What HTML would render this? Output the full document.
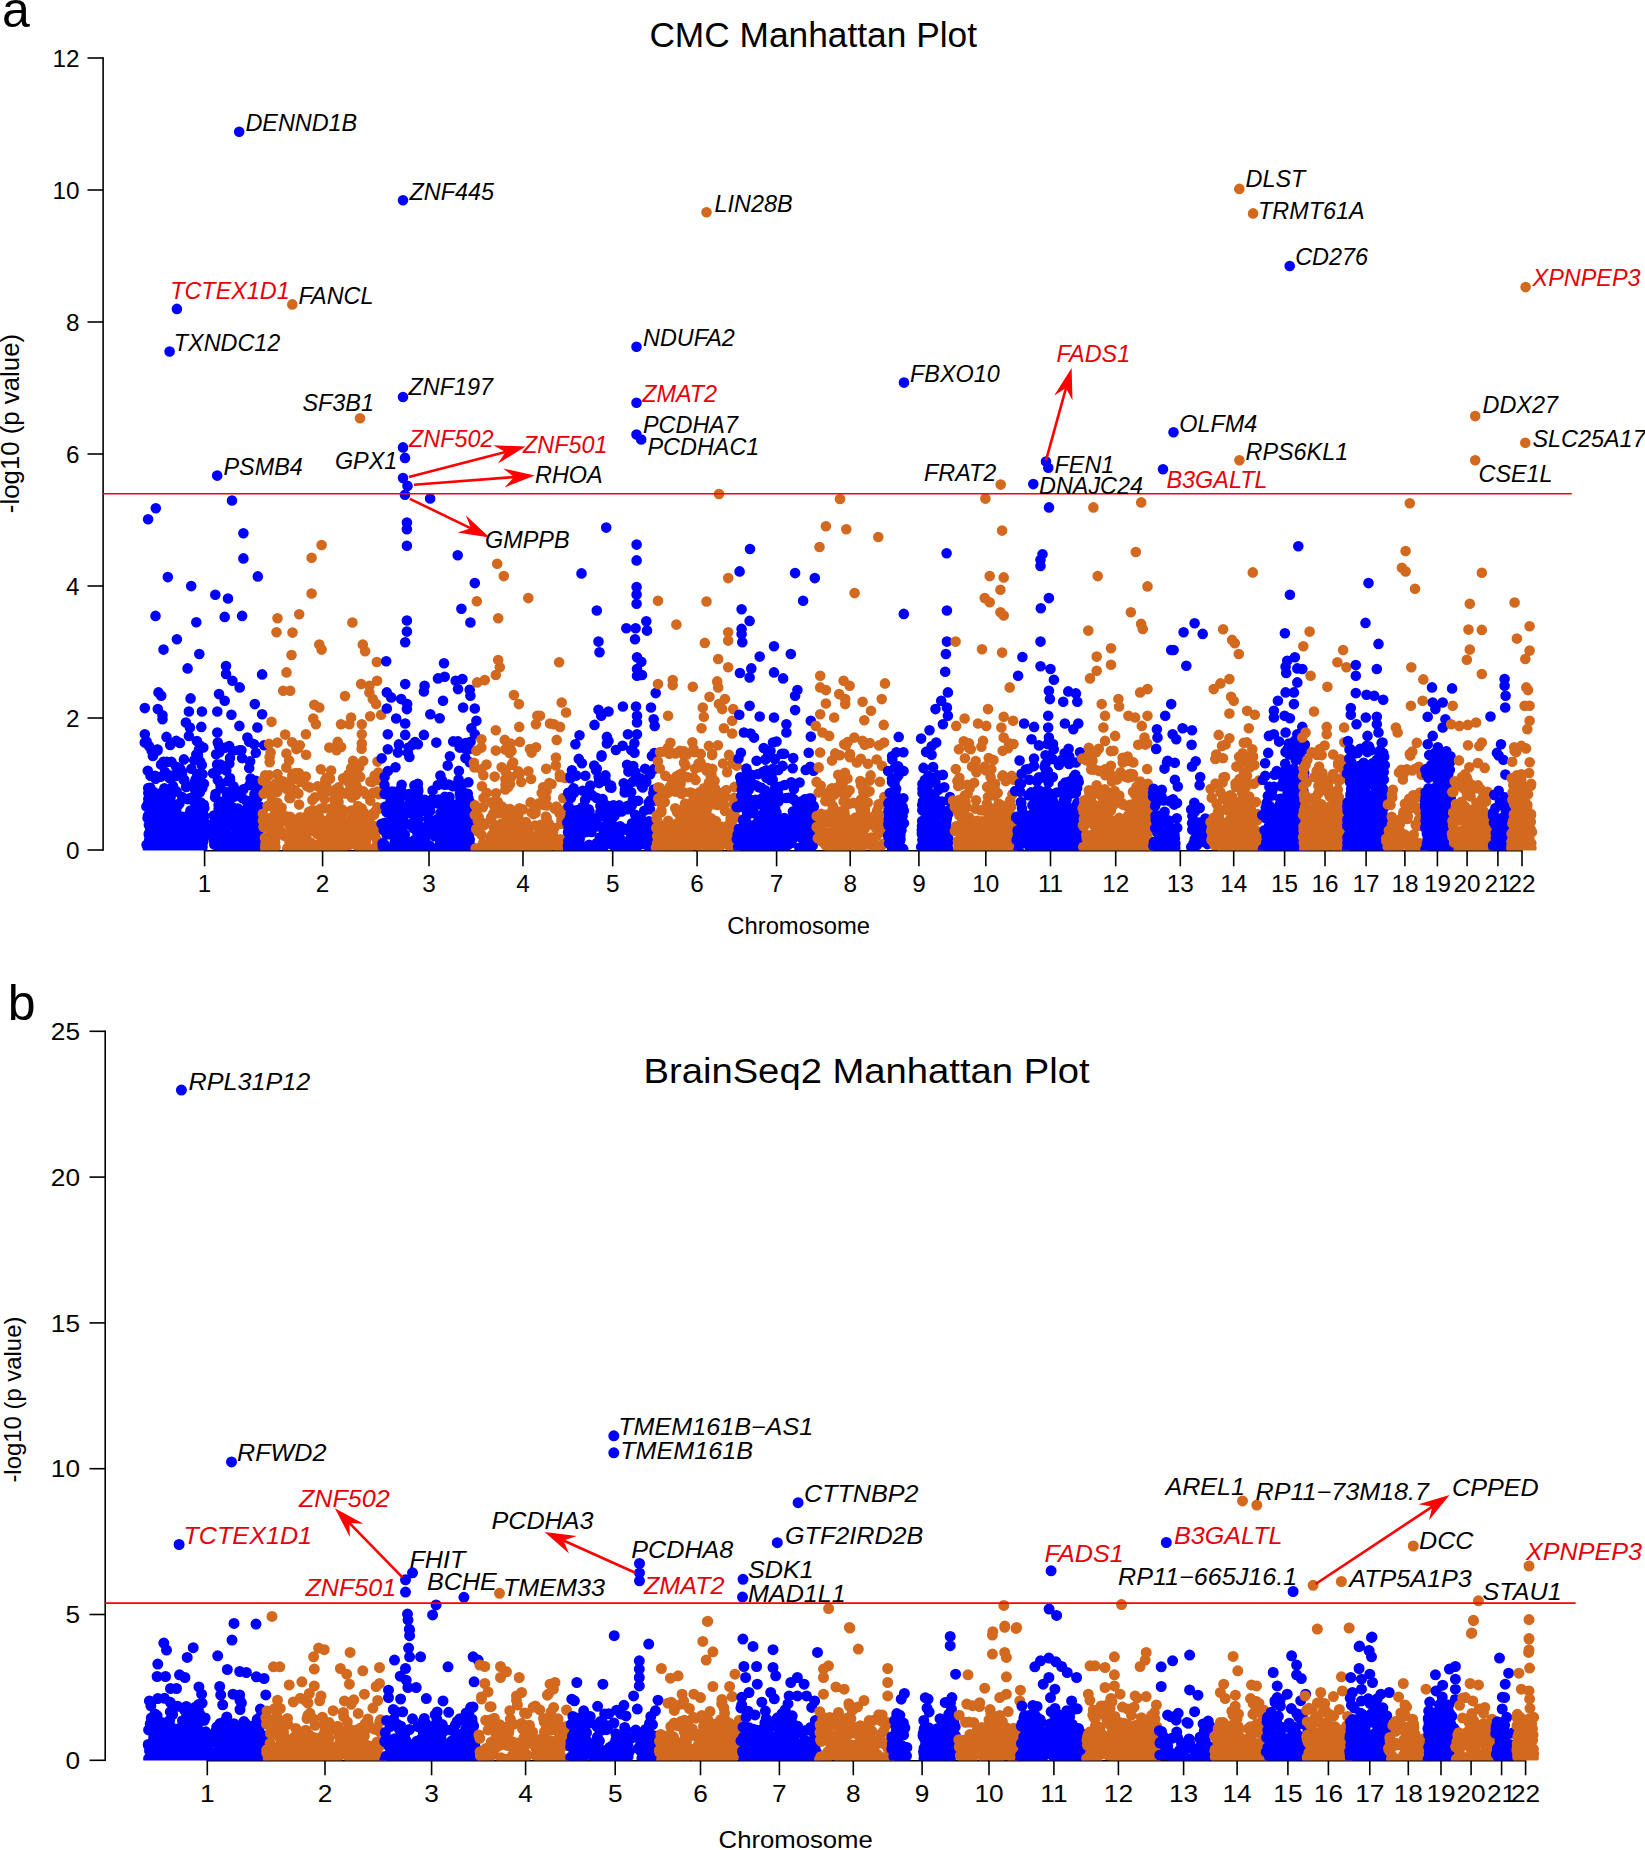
<!DOCTYPE html>
<html><head><meta charset="utf-8"><title>Manhattan plots</title><style>html,body{margin:0;padding:0;background:#fff}svg{display:block}</style></head><body>
<svg width="1645" height="1850" viewBox="0 0 1645 1850" font-family="'Liberation Sans', sans-serif">
<rect width="1645" height="1850" fill="#fff"/>
<defs><clipPath id="ca"><rect x="100" y="0" width="1545" height="850.6"/></clipPath><clipPath id="cb"><rect x="100" y="960" width="1545" height="800.6"/></clipPath></defs>
<text x="2.0" y="27.0" font-size="50" fill="#000" text-anchor="start" >a</text>
<text x="7.7" y="1020.2" font-size="50" fill="#000" text-anchor="start" >b</text>
<text x="813.2" y="47.0" font-size="35.3" fill="#000" text-anchor="middle" >CMC Manhattan Plot</text>
<text transform="translate(866.5,1082.6) scale(1.083,1)" font-size="35.3" fill="#000" text-anchor="middle" >BrainSeq2 Manhattan Plot</text>
<g stroke="#000" stroke-width="1.6" fill="none">
<path d="M103.1 57.2 V850.8"/>
<path d="M87.5 850 H103.1"/>
<path d="M87.5 718 H103.1"/>
<path d="M87.5 586 H103.1"/>
<path d="M87.5 454 H103.1"/>
<path d="M87.5 322 H103.1"/>
<path d="M87.5 190 H103.1"/>
<path d="M87.5 58 H103.1"/>
<path d="M203.79999999999998 850.8 H1522.8"/>
<path d="M204.6 850.8 V866.3"/>
<path d="M322.6 850.8 V866.3"/>
<path d="M429 850.8 V866.3"/>
<path d="M523 850.8 V866.3"/>
<path d="M612.7 850.8 V866.3"/>
<path d="M697.1 850.8 V866.3"/>
<path d="M776.6 850.8 V866.3"/>
<path d="M850.2 850.8 V866.3"/>
<path d="M918.9 850.8 V866.3"/>
<path d="M985.8 850.8 V866.3"/>
<path d="M1050.5 850.8 V866.3"/>
<path d="M1115.7 850.8 V866.3"/>
<path d="M1180.3 850.8 V866.3"/>
<path d="M1233.7 850.8 V866.3"/>
<path d="M1284.6 850.8 V866.3"/>
<path d="M1325 850.8 V866.3"/>
<path d="M1366.1 850.8 V866.3"/>
<path d="M1404.9 850.8 V866.3"/>
<path d="M1437.4 850.8 V866.3"/>
<path d="M1467.1 850.8 V866.3"/>
<path d="M1497.9 850.8 V866.3"/>
<path d="M1522 850.8 V866.3"/>
<path d="M105.2 1030.5 V1761.1"/>
<path d="M89.5 1760.3 H105.2"/>
<path d="M89.5 1614.5 H105.2"/>
<path d="M89.5 1468.7 H105.2"/>
<path d="M89.5 1322.9 H105.2"/>
<path d="M89.5 1177.1 H105.2"/>
<path d="M89.5 1031.3 H105.2"/>
<path d="M206.5 1760.8 H1526.3999999999999"/>
<path d="M207.3 1760.8 V1775.3"/>
<path d="M325 1760.8 V1775.3"/>
<path d="M431.6 1760.8 V1775.3"/>
<path d="M525.6 1760.8 V1775.3"/>
<path d="M615.2 1760.8 V1775.3"/>
<path d="M700.5 1760.8 V1775.3"/>
<path d="M779.4 1760.8 V1775.3"/>
<path d="M853.3 1760.8 V1775.3"/>
<path d="M922.1 1760.8 V1775.3"/>
<path d="M989 1760.8 V1775.3"/>
<path d="M1053.9 1760.8 V1775.3"/>
<path d="M1118.4 1760.8 V1775.3"/>
<path d="M1183.6 1760.8 V1775.3"/>
<path d="M1237.1 1760.8 V1775.3"/>
<path d="M1287.9 1760.8 V1775.3"/>
<path d="M1328.4 1760.8 V1775.3"/>
<path d="M1369.8 1760.8 V1775.3"/>
<path d="M1408.3 1760.8 V1775.3"/>
<path d="M1441 1760.8 V1775.3"/>
<path d="M1471.1 1760.8 V1775.3"/>
<path d="M1501.6 1760.8 V1775.3"/>
<path d="M1525.6 1760.8 V1775.3"/>
</g>
<text x="79.5" y="858.7" font-size="24.3" fill="#000" text-anchor="end" >0</text>
<text x="79.5" y="726.7" font-size="24.3" fill="#000" text-anchor="end" >2</text>
<text x="79.5" y="594.7" font-size="24.3" fill="#000" text-anchor="end" >4</text>
<text x="79.5" y="462.7" font-size="24.3" fill="#000" text-anchor="end" >6</text>
<text x="79.5" y="330.7" font-size="24.3" fill="#000" text-anchor="end" >8</text>
<text x="79.5" y="198.7" font-size="24.3" fill="#000" text-anchor="end" >10</text>
<text x="79.5" y="66.7" font-size="24.3" fill="#000" text-anchor="end" >12</text>
<text transform="translate(80.0,1769.0) scale(1.08,1)" font-size="24.3" fill="#000" text-anchor="end" >0</text>
<text transform="translate(80.0,1623.2) scale(1.08,1)" font-size="24.3" fill="#000" text-anchor="end" >5</text>
<text transform="translate(80.0,1477.4) scale(1.08,1)" font-size="24.3" fill="#000" text-anchor="end" >10</text>
<text transform="translate(80.0,1331.6) scale(1.08,1)" font-size="24.3" fill="#000" text-anchor="end" >15</text>
<text transform="translate(80.0,1185.8) scale(1.08,1)" font-size="24.3" fill="#000" text-anchor="end" >20</text>
<text transform="translate(80.0,1040.0) scale(1.08,1)" font-size="24.3" fill="#000" text-anchor="end" >25</text>
<text x="204.6" y="892.2" font-size="24.3" fill="#000" text-anchor="middle" >1</text>
<text x="322.6" y="892.2" font-size="24.3" fill="#000" text-anchor="middle" >2</text>
<text x="429.0" y="892.2" font-size="24.3" fill="#000" text-anchor="middle" >3</text>
<text x="523.0" y="892.2" font-size="24.3" fill="#000" text-anchor="middle" >4</text>
<text x="612.7" y="892.2" font-size="24.3" fill="#000" text-anchor="middle" >5</text>
<text x="697.1" y="892.2" font-size="24.3" fill="#000" text-anchor="middle" >6</text>
<text x="776.6" y="892.2" font-size="24.3" fill="#000" text-anchor="middle" >7</text>
<text x="850.2" y="892.2" font-size="24.3" fill="#000" text-anchor="middle" >8</text>
<text x="918.9" y="892.2" font-size="24.3" fill="#000" text-anchor="middle" >9</text>
<text x="985.8" y="892.2" font-size="24.3" fill="#000" text-anchor="middle" >10</text>
<text x="1050.5" y="892.2" font-size="24.3" fill="#000" text-anchor="middle" >11</text>
<text x="1115.7" y="892.2" font-size="24.3" fill="#000" text-anchor="middle" >12</text>
<text x="1180.3" y="892.2" font-size="24.3" fill="#000" text-anchor="middle" >13</text>
<text x="1233.7" y="892.2" font-size="24.3" fill="#000" text-anchor="middle" >14</text>
<text x="1284.6" y="892.2" font-size="24.3" fill="#000" text-anchor="middle" >15</text>
<text x="1325.0" y="892.2" font-size="24.3" fill="#000" text-anchor="middle" >16</text>
<text x="1366.1" y="892.2" font-size="24.3" fill="#000" text-anchor="middle" >17</text>
<text x="1404.9" y="892.2" font-size="24.3" fill="#000" text-anchor="middle" >18</text>
<text x="1437.4" y="892.2" font-size="24.3" fill="#000" text-anchor="middle" >19</text>
<text x="1467.1" y="892.2" font-size="24.3" fill="#000" text-anchor="middle" >20</text>
<text x="1497.9" y="892.2" font-size="24.3" fill="#000" text-anchor="middle" >21</text>
<text x="1522.0" y="892.2" font-size="24.3" fill="#000" text-anchor="middle" >22</text>
<text transform="translate(207.3,1801.5) scale(1.08,1)" font-size="24.3" fill="#000" text-anchor="middle" >1</text>
<text transform="translate(325.0,1801.5) scale(1.08,1)" font-size="24.3" fill="#000" text-anchor="middle" >2</text>
<text transform="translate(431.6,1801.5) scale(1.08,1)" font-size="24.3" fill="#000" text-anchor="middle" >3</text>
<text transform="translate(525.6,1801.5) scale(1.08,1)" font-size="24.3" fill="#000" text-anchor="middle" >4</text>
<text transform="translate(615.2,1801.5) scale(1.08,1)" font-size="24.3" fill="#000" text-anchor="middle" >5</text>
<text transform="translate(700.5,1801.5) scale(1.08,1)" font-size="24.3" fill="#000" text-anchor="middle" >6</text>
<text transform="translate(779.4,1801.5) scale(1.08,1)" font-size="24.3" fill="#000" text-anchor="middle" >7</text>
<text transform="translate(853.3,1801.5) scale(1.08,1)" font-size="24.3" fill="#000" text-anchor="middle" >8</text>
<text transform="translate(922.1,1801.5) scale(1.08,1)" font-size="24.3" fill="#000" text-anchor="middle" >9</text>
<text transform="translate(989.0,1801.5) scale(1.08,1)" font-size="24.3" fill="#000" text-anchor="middle" >10</text>
<text transform="translate(1053.9,1801.5) scale(1.08,1)" font-size="24.3" fill="#000" text-anchor="middle" >11</text>
<text transform="translate(1118.4,1801.5) scale(1.08,1)" font-size="24.3" fill="#000" text-anchor="middle" >12</text>
<text transform="translate(1183.6,1801.5) scale(1.08,1)" font-size="24.3" fill="#000" text-anchor="middle" >13</text>
<text transform="translate(1237.1,1801.5) scale(1.08,1)" font-size="24.3" fill="#000" text-anchor="middle" >14</text>
<text transform="translate(1287.9,1801.5) scale(1.08,1)" font-size="24.3" fill="#000" text-anchor="middle" >15</text>
<text transform="translate(1328.4,1801.5) scale(1.08,1)" font-size="24.3" fill="#000" text-anchor="middle" >16</text>
<text transform="translate(1369.8,1801.5) scale(1.08,1)" font-size="24.3" fill="#000" text-anchor="middle" >17</text>
<text transform="translate(1408.3,1801.5) scale(1.08,1)" font-size="24.3" fill="#000" text-anchor="middle" >18</text>
<text transform="translate(1441.0,1801.5) scale(1.08,1)" font-size="24.3" fill="#000" text-anchor="middle" >19</text>
<text transform="translate(1471.1,1801.5) scale(1.08,1)" font-size="24.3" fill="#000" text-anchor="middle" >20</text>
<text transform="translate(1501.6,1801.5) scale(1.08,1)" font-size="24.3" fill="#000" text-anchor="middle" >21</text>
<text transform="translate(1525.6,1801.5) scale(1.08,1)" font-size="24.3" fill="#000" text-anchor="middle" >22</text>
<text x="798.7" y="933.9" font-size="23.8" fill="#000" text-anchor="middle" >Chromosome</text>
<text transform="translate(795.7,1848.0) scale(1.08,1)" font-size="23.8" fill="#000" text-anchor="middle" >Chromosome</text>
<text transform="translate(18.7,423.5) rotate(-90)" font-size="25.8" text-anchor="middle">-log10 (p value)</text>
<text transform="translate(20.8,1399.6) rotate(-90)" font-size="23.9" text-anchor="middle">-log10 (p value)</text>
<g clip-path="url(#ca)" fill="none" stroke-linecap="round" stroke-width="10.6">
<path stroke="#0000ff" d="M154.1 849.9h0M155.8 842h0M166.8 840.5h0M201.2 838.9h0M201.3 829.1h0M220 837.2h0M177 826.9h0M175.7 817.5h0M213 823.4h0M198.1 830h0M167.8 803.8h0M256.7 823.9h0M240.7 830.8h0M172.3 848.2h0M153 830.7h0M161.1 834.6h0M250.7 847.7h0M230 841.8h0M249.5 841.2h0M260.1 840.8h0M215.1 797.3h0M203.2 822h0M224 827.8h0M196.1 828.3h0M182.4 835.1h0M257.4 819.7h0M177.6 826.5h0M202.8 841.8h0M196.8 847.9h0M148.8 834.6h0M197.3 775h0M166.5 848.8h0M166.6 820.2h0M233 750.7h0M195.2 835.8h0M250.6 778.6h0M240.1 840.9h0M234.3 796.6h0M198.7 834.6h0M229.2 746h0M229.8 815.9h0M257.8 787.2h0M203.9 783.7h0M202.5 774.3h0M193.6 820.5h0M195.9 797.8h0M217.1 764.6h0M172.1 838.5h0M204.7 822.5h0M196.2 808.8h0M164.4 827.6h0M156 821.6h0M157 848.1h0M250.8 829.3h0M150.3 787.7h0M169.5 814.2h0M195.5 784.2h0M243.1 830.1h0M192.6 828.6h0M147.8 770.8h0M199.9 848.8h0M217.8 742.6h0M231 821.9h0M168.5 808.8h0M250.1 761.3h0M233.3 845.1h0M200.3 831.5h0M152.7 809.9h0M228.4 817.6h0M150.9 832.8h0M249.2 768h0M258.2 841.9h0M200.9 783.9h0M198.4 827.7h0M160.3 800.1h0M194.2 810.6h0M218.8 845.7h0M194.9 781.7h0M154.3 840.5h0M218.6 809.1h0M185.5 841.9h0M148 803.5h0M153.4 814.4h0M251.9 803.1h0M246.6 841.4h0M201.8 765h0M222.1 841h0M225.8 819h0M229.5 809.9h0M165.3 815.2h0M260.8 809.9h0M190.6 828.6h0M155.5 830.7h0M171.5 761.9h0M236.6 840.8h0M249.4 840.7h0M231.8 806.8h0M199.9 803.9h0M260 808.9h0M194.9 843.5h0M220.5 843.2h0M250.6 846h0M171 824.2h0M171.8 829.7h0M233.1 815.8h0M150.1 797.1h0M255 848.8h0M237.6 832.8h0M175.8 820.8h0M234.6 849.9h0M229.2 841h0M157.2 749.6h0M195.4 815.9h0M181.2 838.4h0M257.2 848.6h0M173.3 817.3h0M222.7 821.9h0M183.9 759.4h0M156.9 830.3h0M149.2 840.1h0M160.3 805.4h0M150.1 807.7h0M147.8 848h0M220.8 838.4h0M236.7 832.7h0M150.3 811.4h0M228 781.3h0M174.1 810.4h0M258 788.6h0M229 836.6h0M249.2 823.6h0M195.2 790h0M166.7 761.9h0M199.8 834.3h0M166 793.1h0M184.2 779.7h0M162.6 805.2h0M250.1 814.9h0M249.5 785h0M197.4 844.3h0M173.5 816.4h0M153.9 839.2h0M198.1 814.4h0M187 785.9h0M249.3 816.3h0M257.4 798.2h0M227.7 827.9h0M247.2 844.5h0M182 771.9h0M253.8 801.2h0M181.3 830.2h0M236.9 824.9h0M198.6 791.8h0M178.7 840.5h0M172.2 819.4h0M249.2 741.8h0M232.3 795.2h0M220.2 783.4h0M234.9 824.2h0M150.1 830.3h0M203.1 842.1h0M169.1 845.4h0M213.7 840.3h0M175.3 832.5h0M193.2 810.1h0M191.8 845.7h0M198.4 807h0M154.8 824.8h0M173.8 810.1h0M155.7 778.8h0M225.9 826.4h0M169.4 826.5h0M197.4 808h0M187.7 819.9h0M176.2 810.4h0M157.5 750.6h0M190.2 840.9h0M234.6 793.1h0M173.4 845.5h0M149.7 815.8h0M161.6 833.9h0M228 805.6h0M198.7 826.4h0M218.5 826.3h0M255.8 780.7h0M191.1 843.4h0M203.2 819.3h0M200.7 831.7h0M156.7 812.5h0M213 773.3h0M187.9 843.1h0M203 814.3h0M185.9 821.3h0M200 805h0M241.4 750.3h0M204.3 816.2h0M201.3 828.9h0M173 849.9h0M173.5 832.5h0M178.9 824h0M166.4 793.7h0M153.9 838.8h0M197.9 754.7h0M204.4 836.3h0M172.6 829.8h0M254.2 844.7h0M150.9 813.8h0M201.6 809.1h0M221.5 830.8h0M170.7 796.5h0M148.2 788h0M177.5 825.1h0M175.9 844.4h0M169.2 843.7h0M217.6 770.6h0M165.4 837h0M232.7 816h0M170.2 744.9h0M239.2 750.3h0M172.1 807.4h0M239.2 811.2h0M237.9 839.7h0M170.3 775.5h0M162.4 811.6h0M203.8 805.8h0M255.5 825.9h0M166.4 829.9h0M195.6 779.5h0M248.1 837.5h0M198.1 807.9h0M149.7 796.2h0M196.9 741.1h0M199.3 819.4h0M159.8 809.9h0M185.8 837.1h0M243.7 827.3h0M201 802.8h0M182.3 830.2h0M199.6 835.9h0M157.8 810.8h0M199.1 816h0M218.6 805.2h0M254.3 824.2h0M246.4 800.9h0M178.3 804.9h0M163.9 803.9h0M255.5 840.3h0M229.2 847.5h0M187.6 799.1h0M215.6 842.7h0M221.4 827.1h0M191.4 768.7h0M220.6 836.9h0M244.9 847.4h0M236.8 817h0M156.2 793.9h0M164.8 804.7h0M197.9 756.8h0M203.8 804.7h0M240.1 832.8h0M158.7 845h0M176 814h0M248 806.8h0M175.7 809.7h0M187.2 844.6h0M192 825.6h0M182.2 797h0M202.1 849h0M197.2 809.6h0M213.8 815.5h0M232.7 844.2h0M177.1 843.8h0M217.8 780h0M199 749.6h0M156.2 837.1h0M154.2 837.3h0M159.6 826.9h0M242.5 798.2h0M189.4 838.5h0M213.4 827.9h0M186.2 787h0M240.9 796.7h0M195.5 846.2h0M163.4 761.7h0M159.9 822.7h0M175.2 817.9h0M201.8 820.1h0M204.6 824.4h0M229.9 778h0M196.3 754.5h0M153.8 846.7h0M198.7 792.9h0M167.2 795.3h0M194 796.8h0M153.6 847.8h0M224.9 747.8h0M256.3 846.5h0M149.7 849.9h0M185.9 848.4h0M213.3 830.8h0M201.1 823.9h0M246.9 829.8h0M183.9 841.4h0M171.1 809.4h0M224.8 807.6h0M202.1 808.4h0M231.3 848.5h0M153.5 834.5h0M204.8 835.1h0M202.8 809.2h0M254 842.1h0M151.7 816.4h0M149.1 746.2h0M154.8 832.4h0M179.9 742.9h0M158.9 831h0M148.3 799h0M181 845.4h0M188.5 815.3h0M151.8 799.6h0M173.6 818.4h0M173 786.1h0M164.5 839.4h0M252.1 849.8h0M199.2 840.1h0M219.7 801.5h0M170.2 828.5h0M199.5 847.5h0M237.1 842.9h0M259 829.6h0M226.3 770.4h0M204.3 807.9h0M164.5 815.4h0M220.5 813.5h0M202.1 846.1h0M200.4 828.2h0M183.7 842.3h0M196.4 824.2h0M199.9 792.2h0M200.8 802.6h0M255.8 752.7h0M177 836h0M231.6 844.9h0M152.3 798.1h0M191 798.7h0M213.6 836.9h0M245.6 809.9h0M182.3 848.2h0M165.3 843.5h0M220.6 819.9h0M202.9 831.7h0M197.9 804h0M198.9 841.7h0M225.4 820h0M148.8 833.7h0M166.5 837.1h0M199 773.8h0M226.9 798.1h0M239.4 825.6h0M256.9 812.6h0M241.2 831.2h0M170.8 825.2h0M228.6 844.8h0M242.7 839.6h0M259.2 843.1h0M226.2 830.7h0M226 814.7h0M187.4 822.7h0M147.9 816h0M159 793.9h0M195.9 804.7h0M199.9 825.5h0M149.7 818.7h0M218.7 841.9h0M146.6 741.5h0M197.7 833.8h0M158.7 831h0M200.1 848h0M170.6 842h0M256.1 788.8h0M176.2 766.9h0M237.8 834.6h0M164.8 814.8h0M203.3 747.5h0M190 823.7h0M201.3 824h0M200.2 843.5h0M149.2 813.8h0M251.2 830.2h0M234.1 788.1h0M229.3 841.4h0M167.8 844.3h0M164.7 845.9h0M157.6 749.6h0M179 829.1h0M219.6 831.6h0M189.2 833.6h0M190.6 798h0M168.2 813.2h0M151.6 750.5h0M179.7 829.7h0M214 834.3h0M161.1 764.5h0M178.2 829h0M232.7 821.2h0M167.8 849.9h0M183.7 780.1h0M172.7 803.9h0M182 774.9h0M150.1 804.6h0M257.3 843.6h0M198.8 809.2h0M148.9 824.9h0M153.3 791.8h0M240.8 812.3h0M229.8 848.8h0M215.2 843.6h0M224.4 818.2h0M155.1 775.7h0M194.7 801.3h0M248.2 826.6h0M157.4 835.5h0M203.9 826.6h0M151.9 834.2h0M150.3 827.4h0M200.1 827.2h0M252.2 845.5h0M165.4 813.1h0M229.7 799.2h0M165.5 809.6h0M156.1 809h0M220.4 811.4h0M243 822.5h0M237.8 808.6h0M219.4 752.3h0M233.3 811.3h0M179.4 803.5h0M149.5 814.3h0M154.9 848.3h0M182.7 846.2h0M257.8 836.2h0M156.6 805h0M160.7 776.7h0M193.6 839.9h0M164.4 788.2h0M233.8 849.9h0M247.7 842.4h0M148.3 793h0M175.6 776h0M168.7 849.7h0M152.5 836.8h0M249.5 836h0M220.6 787.9h0M190.5 810.6h0M195 846.7h0M181.8 835h0M157.4 848.3h0M229.3 763.4h0M182.3 816.8h0M200.2 761.8h0M196.8 844.5h0M194.2 760.2h0M230.1 812.7h0M151.8 818.1h0M184.6 820.4h0M180.3 837.4h0M148.2 847.4h0M152.9 756h0M214.3 844.6h0M255.1 832h0M232.7 849.2h0M247.1 841.1h0M153 846.3h0M158 836.4h0M223.3 838h0M200.4 825h0M220 847.9h0M230 757.9h0M173.9 821.1h0M254.4 794.2h0M222.2 826.8h0M202.3 787.9h0M242.1 758.2h0M230 779.9h0M200.6 827.5h0M146.4 806.4h0M171.5 847.7h0M230.2 812.8h0M152.2 799.6h0M219.4 810.2h0M155.9 848.8h0M260.1 806.7h0M157.2 816.5h0M214.8 828.6h0M147.6 818.1h0M176.6 791.4h0M178.7 843.9h0M242.6 832.7h0M215.5 794.1h0M150.3 842.3h0M171.1 816.9h0M222.4 840.2h0M157.4 849.9h0M248 801.1h0M150.5 775.7h0M226.7 792.4h0M248.2 809.8h0M256.8 785.5h0M151.7 824.4h0M149.3 791.7h0M216.1 754.2h0M172.7 790.7h0M250.7 842.7h0M247.2 811.3h0M169.4 777.9h0M152.5 823.3h0M193.7 828.2h0M225.8 804.4h0M253.5 831.4h0M198.1 849.5h0M238.4 837.5h0M161.4 835h0M202.5 846.9h0M239 812.2h0M154.9 820.2h0M223.8 834h0M199.1 841.2h0M199.1 801.7h0M148.5 799.8h0M155.1 803.4h0M152.3 832.5h0M146.6 844.7h0M243.1 821.6h0M193 827.6h0M238.9 848.3h0M216.7 819.3h0M233.4 786.2h0M181.7 837.6h0M173.8 839h0M232.8 820.1h0M218.4 814.5h0M174.4 847h0M243.3 789.4h0M196.6 817.9h0M198.2 840.7h0M169.4 828.8h0M165.8 826.4h0M258.1 809.2h0M228.7 807.9h0M214 840.1h0M195.2 831.8h0M165 772h0M260.6 840.3h0M258.4 832.1h0M246 837.5h0M177.2 844.9h0M179.1 832.5h0M194.5 802h0M259.6 848.3h0M169.4 847.8h0M152.2 815.5h0M199.7 823.7h0M158.6 828.1h0M165.9 823.6h0M225.1 825.1h0M232.3 794.2h0M220.2 838.7h0M176.3 833.9h0M220.3 764.5h0M204.4 829.8h0M254.5 806.2h0M252 849.3h0M162.9 805.8h0M195.5 838.5h0M180.3 769.1h0M159.6 825.7h0M239.2 131.8h0M176.9 308.9h0M169.6 351.5h0M217.2 475.6h0M148.1 519.2h0M155.8 508.2h0M232 500.5h0M243.4 533.3h0M243.4 558.4h0M257.8 576.4h0M167.8 577.1h0M191.2 586.1h0M215.3 594.8h0M228 598.5h0M155.5 615.9h0M224.7 616.9h0M242.1 615.9h0M196.3 622.2h0M176.9 639.3h0M163.5 649.6h0M199.3 654h0M187.6 668.4h0M226 666h0M226 674h0M232.4 680.7h0M239.7 687.4h0M262.1 674.4h0M219 694.1h0M224.7 700.8h0M158.5 692.4h0M161.2 695.8h0M190.6 698.4h0M144.8 708.1h0M157.8 709.1h0M162.5 715.2h0M188.9 711.5h0M201.9 711.5h0M217.3 711.5h0M231.4 714.8h0M254.8 704.1h0M262.1 714.2h0M162.5 719.2h0M185.9 722.5h0M189.9 727.5h0M201.3 726.9h0M239.4 725.9h0M257.4 727.5h0M144.8 734.2h0M217.3 732.5h0M247.4 737.6h0M166.5 736.9h0M176.2 740.9h0M144.8 742.6h0M188.9 735.9h0M200.6 745.9h0M219 745.9h0M254.1 744.2h0M264.1 745.2h0"/>
<path stroke="#d2691e" d="M312.7 823.8h0M366.5 815.1h0M312.6 810.1h0M318.2 847.9h0M297.2 830.5h0M306.7 834.6h0M330.5 818h0M374.7 775.6h0M358.2 789.6h0M317 833.7h0M265.2 775.2h0M280.4 807.8h0M304.7 832.4h0M355.9 785h0M300.7 781.8h0M272.6 833.8h0M334.8 800.8h0M375 811.8h0M341.1 747h0M347.3 776.1h0M282.9 816.7h0M275.5 847.1h0M308.1 841.3h0M297.1 847h0M359.6 838.4h0M280.3 831.2h0M342.1 845.4h0M352 797.5h0M285.8 818.2h0M269.1 775.3h0M334.1 827.2h0M324.1 844h0M281.6 807.5h0M348.5 774.2h0M371.7 830.4h0M357 845.8h0M315.2 830.1h0M281.6 820.8h0M266.9 842.4h0M332.8 837.2h0M356.1 841.8h0M275.1 845.8h0M345.3 824.8h0M352.3 767.7h0M299.8 745.2h0M348.6 841.6h0M289.7 788h0M338.6 846.9h0M375.3 826.3h0M348.7 843.9h0M353.4 819.2h0M359.2 827.6h0M268 846.9h0M326 842.3h0M297.9 825.6h0M305.3 819.7h0M350 827.6h0M356.3 810.7h0M277.1 830.6h0M307.7 814.9h0M364.9 817.3h0M269 743.9h0M338.4 847.3h0M342 841.3h0M355.1 791.9h0M357.5 788h0M271.6 802.6h0M273.4 825.9h0M309.1 811.7h0M305.9 841.7h0M372 782h0M263.7 793.7h0M322 791.1h0M298.8 773h0M356.2 831.1h0M273.2 805h0M375.5 829.5h0M337.5 834.3h0M290.2 847h0M368 816h0M335.9 789.4h0M272 843.7h0M365.4 849.4h0M298.5 842.6h0M314.9 797.2h0M290 831h0M346.7 822.4h0M342 829.2h0M346.3 780.3h0M335.1 798.6h0M376.9 839.9h0M289.4 825.2h0M361.6 748.8h0M337.5 817.8h0M360.4 819.3h0M292.6 833.7h0M358.1 836.5h0M265.2 847.4h0M363.9 812.4h0M270.8 829.3h0M326.6 777.7h0M331.1 770.6h0M299.1 804.6h0M270.7 836.1h0M362 835h0M328.1 825.4h0M262.9 820.6h0M353.1 771.5h0M277.2 791.9h0M315.1 811.6h0M305.3 826.8h0M360.7 822h0M271.9 800.3h0M301.9 828.3h0M290.1 821.1h0M312.3 829.4h0M360.4 848.1h0M312.6 849.3h0M365.1 827h0M362.1 837.7h0M291.1 780.4h0M326.3 782.9h0M375.1 777.5h0M339.5 830.8h0M267.6 806.1h0M351.7 817.8h0M330.2 836.1h0M349.9 790.3h0M291.3 842.5h0M287.7 847.7h0M363.2 761h0M345.5 828.7h0M320.8 769.2h0M319.7 809.2h0M325.4 832.7h0M334.2 843.9h0M342.2 813.6h0M351.6 839.5h0M302.5 781.8h0M328.2 845.9h0M341 824.6h0M335.7 840.1h0M336.6 750.2h0M273.8 829.9h0M343.1 778.2h0M378.2 808.9h0M335.6 819.9h0M343.9 840.4h0M378.8 794.1h0M265.8 837.3h0M318.1 826.1h0M374.1 835h0M338.6 787.4h0M364.8 825.4h0M269.6 757.1h0M297.8 826.2h0M308.6 818.6h0M375.9 846.7h0M305.2 832h0M335.5 804.9h0M270.6 752.6h0M374.1 814.8h0M269.7 762.2h0M289.1 760.6h0M306.6 842.3h0M316.2 828.8h0M374.2 830.5h0M342.3 809.5h0M355.9 794.9h0M271.9 806.2h0M377.4 791.6h0M342.2 844.7h0M330.7 837.6h0M306.8 786h0M324.7 799.1h0M338.5 801.7h0M327.4 825.3h0M369.4 818.1h0M360.3 776.9h0M295 779h0M291.7 819.3h0M336.9 807.2h0M286.4 753.5h0M342.2 812h0M325.3 779.9h0M315.4 822.4h0M302.5 838.4h0M324.7 846.8h0M272.7 845.8h0M324.2 808.2h0M317.4 830h0M329.7 837.1h0M310.7 816.8h0M277.4 802.8h0M348.2 837.6h0M306.1 754.7h0M344.2 793.4h0M355.4 764.9h0M297.7 819.6h0M300.5 821.4h0M262.8 780.4h0M331.3 815.8h0M290.4 832.1h0M324.9 826.8h0M262.8 813.8h0M353 779h0M365.7 842.8h0M366 794.3h0M377.5 779.9h0M312.4 799.9h0M293.1 841.6h0M340.4 815.3h0M296.4 749.1h0M366.1 794.3h0M338.5 805.3h0M330.8 808.6h0M359.2 767.2h0M370.8 827h0M265.5 792h0M322.6 848.5h0M368.9 849.7h0M338.8 837.3h0M276.6 805.2h0M303.2 830.5h0M276.5 783h0M290.5 798.1h0M361.7 808.2h0M287.3 848.2h0M366.1 839.6h0M291 848.2h0M346.9 793.5h0M369.9 822.4h0M351.2 768h0M364.2 836.8h0M301.7 848.5h0M304.9 818.5h0M367 847.8h0M370.4 781.5h0M317.8 786.3h0M359.9 818.3h0M372.7 813.9h0M292.3 775.5h0M305.3 846h0M366.8 830.2h0M267.6 819.1h0M361.2 826.9h0M286.3 767.5h0M277.7 815.7h0M372.8 829.4h0M358 815.2h0M326.9 830.1h0M309.7 787.4h0M300.8 840.5h0M310.7 842.5h0M323.6 824.5h0M319.3 830.6h0M343.6 841.6h0M308.4 845.6h0M323.2 830.6h0M334.6 794.6h0M272 836h0M279.7 830.2h0M319.2 816.9h0M320.7 828.7h0M357 835.3h0M305.8 776.5h0M353.8 833.3h0M330.7 830.8h0M351.8 821.2h0M280.2 830.6h0M339 818h0M326.6 787.6h0M335.9 830.8h0M363.2 791.2h0M336.5 849.5h0M284.2 835.7h0M342.5 847.5h0M353.1 760.9h0M263.5 827h0M375.9 827h0M370.3 800.6h0M339.3 832.1h0M292.5 822.7h0M324 820.7h0M281.3 821.6h0M274.5 831h0M282.8 781.2h0M294 819.5h0M339.5 819.9h0M323 794.2h0M264.9 837.8h0M376.2 832h0M267.4 788.3h0M300 817.2h0M281.1 811.4h0M354.9 817.3h0M288.6 789.7h0M369.9 826.7h0M378.4 772.5h0M287.3 837.3h0M265.5 843.7h0M359.2 810.6h0M265.4 845.3h0M352.7 832.3h0M293.7 773.6h0M321 841.7h0M292 823.8h0M292.2 843.1h0M344.4 831.9h0M313.7 844.5h0M271.8 826h0M377.4 807.2h0M335.9 845.2h0M364.5 839.1h0M377.5 761.6h0M328 833.4h0M295.1 790.4h0M275.1 842.4h0M315.4 848.6h0M296 773.1h0M294.4 838.2h0M268.5 785h0M320.4 821.2h0M290.6 820.9h0M298.4 793.6h0M275.6 837h0M357.9 806.1h0M340.4 849.3h0M348.1 828.4h0M325 845.1h0M358.4 816.7h0M288.5 848.7h0M377.4 830.3h0M327.2 790.9h0M290.1 816.7h0M340.7 817.3h0M272.9 789.6h0M357 837.7h0M276.1 822h0M289.5 841.6h0M317.5 814.7h0M298.1 748.1h0M330 778.7h0M338.6 813.9h0M321.5 808.3h0M310.9 827.4h0M373 792.9h0M331.8 832.2h0M348.5 845.2h0M340.5 842.5h0M264.2 823.2h0M271.9 794.4h0M351.2 810.6h0M277.4 786.7h0M296.2 826.2h0M331.2 849.7h0M289.4 798h0M274.8 813.7h0M277.4 774h0M341 831.4h0M357.7 836.6h0M266.8 824.1h0M340.9 841.8h0M344.1 826.2h0M328.8 828.8h0M270.4 818.1h0M265.5 849h0M292.5 789h0M287.3 789.6h0M292.1 742.2h0M286 816.2h0M350.1 784.5h0M292.1 831.7h0M294.3 839.8h0M292.3 304.4h0M360 418.3h0M321.6 545h0M311.6 557.7h0M311.6 593.5h0M299.2 614.2h0M277.5 618.2h0M276.5 632.2h0M292.5 632.6h0M352.4 622.5h0M319.3 644.6h0M321.6 649.6h0M291.5 655h0M362.8 644.6h0M365.1 651.3h0M376.8 662h0M286.5 672.4h0M283.2 690.8h0M290.2 690.8h0M361.1 684.1h0M369.4 685.7h0M377.1 680.7h0M369.4 692.4h0M372.8 699.1h0M376.1 704.1h0M345 696.1h0M314.3 704.8h0M319.3 707.5h0M381.1 714.8h0M370.1 716.2h0M351.1 717.5h0M313.3 718.5h0M315.9 724.2h0M341 724.2h0M349.4 724.2h0M361.8 724.2h0M271.5 721.8h0M285.2 734.6h0M305.9 734.2h0M277.5 742.6h0M361.8 734.2h0M361.8 743.6h0M337.7 741.9h0M329.3 747.6h0"/>
<path stroke="#0000ff" d="M437.8 785h0M447.8 837.5h0M381.7 758.3h0M469.7 762.3h0M415.2 807.8h0M444 810h0M470.7 846.9h0M430.1 833.3h0M463.9 833.6h0M453.2 741.4h0M412.7 846.4h0M413.1 814.8h0M389.8 821.7h0M454.9 841.6h0M455.4 832.5h0M432.6 790.5h0M398.1 793.5h0M461.7 829.4h0M443.5 833.2h0M472 812.8h0M460.1 829.5h0M448.8 826.9h0M441.7 843.4h0M421.3 840.8h0M459.2 840.9h0M393 816.9h0M434 849.7h0M446.8 825.8h0M470.7 824.6h0M413.7 799.2h0M450.8 823.7h0M449.9 756.2h0M383.7 830h0M462.6 799.6h0M465.7 743h0M467.8 810.2h0M462.7 840.2h0M423.9 807.1h0M420.8 838.9h0M414.4 785.4h0M459.5 818.1h0M459.1 820.8h0M430.2 811.1h0M456.6 837.1h0M408.7 794.1h0M382.6 843.4h0M430 845.9h0M455.9 843.5h0M469 821.3h0M396 827.6h0M463.7 828.8h0M396.1 822.3h0M400.2 790.4h0M457.3 819.8h0M443.4 814.6h0M451 831.5h0M452.9 786.3h0M456.7 828.5h0M398.6 848.9h0M468.4 830.2h0M395.4 829.1h0M469.7 839.5h0M444.9 834.3h0M428.2 819h0M445.1 816.8h0M407.9 809.9h0M452.6 819.3h0M400.1 816h0M412.4 744.8h0M446.6 827.3h0M440 826.6h0M384.4 823.1h0M427.9 846.3h0M464.4 748h0M396.5 831.4h0M400.3 804.8h0M397.2 842.2h0M448.3 798.6h0M469.6 840.6h0M461.5 804.2h0M457.7 820.4h0M464.4 806h0M406.3 843.3h0M465.6 830.7h0M400.8 788.8h0M411.3 847.2h0M381.6 823.7h0M463.6 816h0M386.6 794.3h0M466 820h0M438.5 799.5h0M398.4 810.1h0M397.7 838h0M452.5 847.7h0M462.1 747h0M446 847.1h0M462.4 791.8h0M453.1 807.3h0M449.1 809.6h0M465.6 847.6h0M443 809.2h0M422.3 827.3h0M441.4 821.3h0M404.6 837.2h0M441.9 831.8h0M450.8 836.4h0M442.8 823.5h0M421.6 831.1h0M467.8 793.8h0M455.2 839.2h0M441.8 819.9h0M440.4 775.6h0M385.2 829.3h0M408.1 805.2h0M435.6 831.4h0M444.2 843.1h0M431.2 823.8h0M393.8 796.5h0M411.8 843.1h0M460.3 844.3h0M448.7 784.5h0M456.7 834h0M419.8 811h0M444.8 796.9h0M395.5 767.3h0M424.7 799.8h0M434.6 836.2h0M432.8 849.7h0M461.8 840.6h0M453.6 811h0M460.8 822.2h0M409.2 824.3h0M437.3 819.3h0M394 836.8h0M442 780.3h0M418.3 803.1h0M452.4 824.1h0M446.5 810.1h0M406.3 810.4h0M455.5 843.1h0M417.3 789.2h0M418 788.5h0M463.3 805.4h0M394.6 827.5h0M455.7 809.6h0M465.4 758.1h0M462.7 807.4h0M445.5 848.6h0M429.1 819.6h0M422.1 811h0M414 826.9h0M421.6 842h0M421.9 839h0M469.1 749.1h0M451.7 835.5h0M401.6 784.7h0M410.5 799.4h0M384.7 794h0M435.1 823.6h0M404.4 842.4h0M415.5 840.4h0M445.1 806.6h0M470.6 803h0M465.3 827.7h0M444 846.5h0M459.8 820.3h0M469 835.7h0M458.6 779.5h0M391.9 791.6h0M395.2 830.4h0M446.9 823.4h0M447.7 765.6h0M418.3 791h0M415 844.5h0M385.4 806.5h0M392 825.2h0M447.2 824.2h0M458.2 833.9h0M418 849.8h0M458.5 828.6h0M468.4 840.7h0M459.6 812.8h0M392.5 812.9h0M417.7 793.8h0M458.9 770.9h0M453.5 839.2h0M426 827h0M438 803.4h0M405.8 845.4h0M457.5 844.6h0M384.5 844.5h0M402.2 816h0M454.1 785.5h0M455.3 842.2h0M450.6 839.7h0M421.8 843.9h0M447 849.2h0M468.4 782.2h0M384.5 785.1h0M418.3 819.2h0M388.1 850h0M403.8 816.1h0M387.9 771h0M414.8 805.2h0M455 838.1h0M449.8 835.1h0M429.4 805.2h0M462.3 807.6h0M460.4 826.9h0M457.5 811h0M460.4 797.3h0M413.2 827.9h0M443.6 830.5h0M450.2 823.2h0M459.1 847.6h0M437.1 834.7h0M402.8 841.4h0M439.8 845.1h0M440.2 847.2h0M416.1 817.7h0M396.7 809.6h0M382.8 846.6h0M441.1 848.5h0M443.2 784h0M449.2 809.2h0M468.5 798.4h0M413 810.3h0M450.4 842.4h0M452.1 841.3h0M436.2 833.9h0M462.6 784.1h0M417.1 812.6h0M384.7 776.7h0M399.6 835.1h0M395.4 841.2h0M443.3 837.9h0M420.3 849.4h0M440.3 841.9h0M460.4 822.7h0M425.2 840.8h0M458 741.4h0M447.8 843.4h0M397 847.2h0M448.4 822.4h0M454.8 824.3h0M457.4 826.8h0M449.5 797h0M386.2 822.5h0M397.8 803.4h0M463.2 793.4h0M467.2 810.3h0M465.9 844.7h0M459.9 793.5h0M409.4 757h0M414.5 840.1h0M440.6 812.9h0M406.9 841.3h0M390.8 803h0M433.9 831.3h0M424.3 849.1h0M470.8 818.4h0M460.7 841.7h0M457 805h0M454.6 837.6h0M442.7 838.3h0M407.5 846.7h0M400.8 816.2h0M433.9 803h0M471.8 849.7h0M390.3 827.8h0M462.9 813.1h0M449.1 798h0M407.9 752.8h0M394.8 842h0M464 811.5h0M398.9 744.4h0M400.7 823.2h0M402.2 830.6h0M390.9 824h0M401.3 838.2h0M462.3 848.8h0M436.1 821.5h0M416.9 831.7h0M460.2 836.1h0M396.4 846.2h0M470.6 741.8h0M424.2 801.1h0M459.1 807.9h0M386.5 812h0M417.9 783.7h0M469.8 813.6h0M393.8 818.4h0M404.8 834.4h0M462.8 800.4h0M455.1 837.8h0M392.8 803.2h0M432.7 799.1h0M424.6 844.3h0M444.7 784.7h0M456.2 822.5h0M455.2 804.7h0M449.1 811.1h0M446.8 828.5h0M469.7 844.3h0M416 844.7h0M408.5 846.2h0M387 848.3h0M415 742h0M419.5 840.1h0M453.4 837.8h0M390.6 800.9h0M401.7 837.4h0M401.1 811.2h0M386.6 834.4h0M394.3 791.7h0M403.7 795.4h0M461.7 795.3h0M403 200.2h0M403 397h0M403 447.4h0M405 457.9h0M403 478.1h0M407.5 485.9h0M405 494.7h0M430.1 498.4h0M406.9 522.6h0M406.9 529.3h0M406.9 545.7h0M457.7 555.3h0M474.8 583.1h0M461.4 608.8h0M470.4 622.5h0M406.9 620.5h0M406.9 631.6h0M405.2 642.3h0M386.2 661.3h0M444 663.3h0M438 678.4h0M444.7 676.7h0M455.7 680.7h0M462.4 679.1h0M405.2 684.1h0M424.6 685.7h0M423.9 691.4h0M458 689.1h0M469.7 689.7h0M470.4 695.8h0M386.8 692.4h0M391.2 697.4h0M401.2 699.1h0M407.2 704.1h0M443 700.8h0M386.8 708.5h0M406.9 709.1h0M463.1 707.5h0M474.8 708.5h0M396.2 718.5h0M405.2 723.5h0M430.3 714.2h0M439.7 718.2h0M476.4 720.8h0M471.4 728.2h0M387.8 734.2h0M405.2 734.9h0M423.9 734.9h0M474.8 734.2h0M436.3 742.6h0M417.9 744.2h0M459.7 747.6h0M387.8 749.3h0M397.9 752.6h0M408.6 747.6h0"/>
<path stroke="#d2691e" d="M495.8 750.6h0M502.1 842.3h0M497.7 801.8h0M515.2 845.3h0M522.1 830.4h0M543.3 799.9h0M545.9 816.6h0M565.7 809.4h0M535.7 809.3h0M516.2 820.9h0M483.6 823.2h0M557.4 808.2h0M490 842h0M502.5 824.2h0M517.5 844.2h0M512.7 813.2h0M493.2 835.6h0M494.4 847.3h0M491.2 837.4h0M551.7 841.9h0M561.3 823.7h0M528.6 841.8h0M549.5 834.3h0M510.8 818.9h0M551.6 784h0M501.7 823.5h0M562.6 840.4h0M483 843.2h0M529.9 749h0M505.4 845.5h0M520.3 846.1h0M546 848.1h0M525.1 828.4h0M483.5 798.1h0M473.9 762.8h0M512.9 816.1h0M541.7 793.1h0M555.8 807.8h0M509.2 778.5h0M507.9 830.7h0M475.7 848.3h0M476.4 750.8h0M525.9 822.1h0M517.1 847.9h0M521.7 832.4h0M510 809h0M483.9 848.4h0M506.3 821.4h0M495.5 837.2h0M492.1 834.8h0M499.6 828.2h0M531.6 812.6h0M515 829.4h0M475 805.3h0M516.3 829.1h0M546.6 818.2h0M507.1 847.1h0M493.9 845h0M517.9 831h0M506.9 828.9h0M540.6 824.9h0M477.8 820.8h0M508.2 786.9h0M486.5 764.6h0M543.1 787.2h0M552.9 833.3h0M501.6 767.3h0M547 842.6h0M554.3 828.1h0M521.3 837.3h0M518 811.1h0M510.1 784h0M539.9 841.8h0M493.3 813.4h0M505.2 749.6h0M493.6 827.1h0M542.8 793.2h0M492.9 836.6h0M548.7 823.6h0M542.2 826.3h0M509.2 846.3h0M478.9 823.9h0M479.2 831.1h0M486.6 792.8h0M561.4 820.1h0M559.9 777h0M546.6 818.1h0M547 834.6h0M476.2 829h0M517.9 824.7h0M526.7 828.2h0M505.7 836.5h0M519.4 808.3h0M565 811.5h0M496 793.3h0M518.3 771.2h0M532.4 836.1h0M561.6 820.8h0M565.1 778h0M511.2 777.1h0M543.5 832.4h0M496.8 834.5h0M481.6 835.1h0M510.7 836.9h0M511.8 764.8h0M511.8 816h0M547.9 847.8h0M508.7 845.8h0M500.8 838.4h0M543.9 804.9h0M555.9 757.6h0M539 803.2h0M547.3 805.4h0M512.4 847.4h0M507.3 834.7h0M527.5 828.5h0M511.7 847.9h0M522.7 809.4h0M514.5 845.9h0M538.3 849.8h0M509.1 781.1h0M533.7 839.8h0M514.9 840.4h0M507.9 821.9h0M483.4 775.2h0M474.5 767.4h0M546.6 791h0M492.9 841.2h0M527.4 846.3h0M491.6 802.4h0M515.5 839.3h0M517 840.4h0M549.3 783.1h0M562.7 818.1h0M538.9 834.4h0M518.3 815.8h0M505.4 789.5h0M481.5 822.8h0M512.4 846.5h0M519.5 774.2h0M559.4 813.2h0M509.6 753h0M508.6 785.2h0M483.9 825.2h0M510.6 750.3h0M563.8 839.9h0M521.2 781.9h0M496.1 825.2h0M536.4 846.8h0M559.8 774.5h0M533.5 814.1h0M527.6 832.8h0M494.7 776.6h0M481.9 786.2h0M536.1 747.3h0M542.3 829.6h0M501.6 806.2h0M560.2 839.4h0M505.6 771.4h0M478.8 817.3h0M535.5 812.9h0M494.1 805.6h0M506.4 846.8h0M543 842.1h0M545.8 797.9h0M511.9 843.2h0M528 831h0M550.3 829.7h0M504.9 838.3h0M478.1 831.6h0M483.1 849.5h0M526.1 827.1h0M491.1 819h0M505.5 784.7h0M513.1 762.5h0M531.1 779h0M502.7 824.2h0M555.9 846h0M504.9 809h0M483.6 823.2h0M498.3 813.2h0M528.4 771.2h0M491.1 817.4h0M517.6 843.8h0M555 808.7h0M481.2 769.2h0M546.2 768.7h0M558.8 847.8h0M550.1 836.5h0M477.1 809.3h0M543.6 837.9h0M505.4 779h0M502.8 812.7h0M515.9 831.4h0M499 847.6h0M531.4 846.5h0M528.4 849.9h0M482.9 807.3h0M544.9 835.4h0M530.6 802.4h0M531 839.4h0M474.8 814.9h0M535 825.5h0M563.2 798.1h0M517.9 817.3h0M511.4 829.8h0M490.2 841.5h0M490.9 849.2h0M510.7 743.5h0M555.8 765.4h0M556.5 806.6h0M546.7 817.7h0M517.3 844.6h0M497.2 563.7h0M503.8 576.1h0M528.3 598.1h0M476.8 601.2h0M498.2 618.2h0M498.2 660h0M499.8 667.3h0M495.8 675h0M477.1 682.4h0M484.8 680.1h0M513.9 695.1h0M518.9 704.1h0M537.3 715.8h0M535.9 724.2h0M495.8 730.2h0M519.2 726.9h0M504.8 739.9h0M519.9 741.9h0M481.4 739.2h0M481.4 747.6h0M511.5 750.9h0M531.6 752.6h0M550 723.5h0M559.1 662.3h0M561.7 702.5h0M540 715.8h0M566.1 712.5h0M554 724.2h0M560.1 726.9h0M556.7 739.9h0"/>
<path stroke="#0000ff" d="M580.4 845.3h0M638.1 800.8h0M622.2 848.6h0M572.4 847h0M594.5 818.2h0M594.2 765.6h0M580.1 844.3h0M575.4 744.3h0M580.5 830.8h0M645.9 830.2h0M632.7 844h0M620.1 826.3h0M578.8 758.9h0M604.2 838.8h0M612.7 845h0M648.8 802.4h0M612 805.8h0M611.5 822.3h0M620.8 828h0M649.2 822.7h0M573.5 790.1h0M599.8 837.5h0M644.4 834h0M568.6 806.6h0M621.7 811.5h0M617.4 831.3h0M623.7 783.3h0M628.4 771.6h0M568 845.6h0M605.7 781h0M637.2 846.4h0M611.2 808.5h0M583.3 832.7h0M632.5 830.3h0M569.6 845.6h0M632.8 781.7h0M610.2 787.4h0M583.4 848.8h0M646.7 835.4h0M650.4 838.4h0M603.2 827h0M627.7 809.3h0M578.5 849.8h0M636.3 830.6h0M634.3 772.8h0M606.2 811.2h0M581 809.9h0M587.4 824h0M635.2 839.1h0M569.9 840.1h0M568.7 829.1h0M579.9 848h0M611.4 787.7h0M596.8 843.1h0M613.5 837.7h0M576.1 849.2h0M577 810.3h0M652.8 848.2h0M650.3 824h0M581 833h0M592.6 826h0M649 821.3h0M615.9 750h0M582.3 829.5h0M585.3 822.9h0M599.8 845.5h0M632 823.3h0M590.3 785.5h0M596 770.2h0M635.2 814.7h0M611 785.6h0M639.7 782.7h0M626.8 792.1h0M578 842.4h0M622.6 745.8h0M613.5 805.4h0M650 809.2h0M579.7 839.1h0M613.1 812.5h0M647.9 845.9h0M580.1 812.5h0M573.6 788.3h0M625.3 841.7h0M605.5 775.4h0M615.1 833.9h0M573.2 828.1h0M611.1 821.4h0M598.7 776.9h0M568.2 847.9h0M634.4 743.2h0M639.6 837.6h0M615.4 847.2h0M605 832.6h0M600.4 811.9h0M594.2 847.7h0M602.6 799h0M631.3 750h0M576.2 834h0M586.2 831.9h0M607.3 819.5h0M625 789.4h0M631.3 836.1h0M642.7 839.7h0M655 800.6h0M604.6 827h0M570.7 813.2h0M574.5 839.5h0M637.8 826.1h0M590.8 825.7h0M582.2 807.3h0M592.1 795.2h0M601.6 847.7h0M645.3 779.6h0M591.4 831.9h0M596.1 826.5h0M607 816.6h0M585.6 820.2h0M576.3 775.6h0M631.3 842.6h0M627.6 787.6h0M581.9 763.3h0M589.1 844.7h0M578.6 810.2h0M640.5 778.6h0M650.2 774.2h0M634.7 831.6h0M600.4 806.1h0M649.5 845.7h0M634 839.6h0M642.7 787.5h0M602.3 846.7h0M570.6 776.2h0M641.9 819.8h0M574.2 849.6h0M619.6 832.7h0M589.6 829.2h0M632.8 800.2h0M635.3 772.1h0M573.9 792.9h0M605.8 805.1h0M636.5 838.7h0M571.4 840.3h0M588.7 809.2h0M643 841.2h0M654.7 827.1h0M653.8 789.5h0M621.4 840.7h0M602.4 843.6h0M603.7 846.7h0M612.9 826.9h0M654.3 753h0M631.2 792.3h0M570.1 796.2h0M636.8 842.4h0M609.9 828.8h0M570.8 792.1h0M589.5 823.5h0M646.3 782h0M645.1 768.7h0M613.5 830.5h0M653.3 793.1h0M599 781.6h0M652.5 848.3h0M584 815.1h0M640.3 824.8h0M601.6 755.2h0M570.4 836.7h0M625.1 828.7h0M654.5 768.7h0M650.6 800.2h0M568 832.2h0M572.1 824.2h0M596.6 797.9h0M568.4 840.9h0M588.2 792.3h0M616.1 827.3h0M650.1 833h0M643.9 833.1h0M582.8 790.8h0M597.8 818.1h0M619.3 805.4h0M602.2 806.9h0M570.6 778.2h0M630.5 805.5h0M578 828.4h0M638.5 820.1h0M631.9 805.2h0M635.5 828.6h0M631.4 848.1h0M589.8 831.2h0M567.3 822.4h0M651.9 756h0M576.5 820.8h0M596.8 768.8h0M626 807.1h0M609 840.8h0M569.9 818h0M602.3 828.1h0M568.2 792.8h0M642.3 843.9h0M610.7 835.2h0M634.5 752.7h0M571.9 770.2h0M575.1 810.5h0M634.5 835.2h0M582.4 846.7h0M589.7 792.6h0M601.5 756.6h0M606.9 743.4h0M629 830.1h0M575.5 823.9h0M627.3 806.1h0M620 838.6h0M570.8 798.1h0M577.9 839.4h0M593 845.6h0M630.9 830.1h0M641.9 786.6h0M622.8 846.1h0M587 825.3h0M613.3 827.9h0M597 825.7h0M597 823.9h0M595.1 822.8h0M573.5 816.9h0M614.5 816.1h0M585.1 800.1h0M599.1 783.1h0M627.1 764.7h0M576.2 828.3h0M590.4 850h0M577.4 827.7h0M585.3 775.7h0M618.4 845.4h0M578.5 840.9h0M632.6 850h0M584.1 825.3h0M612.6 841.7h0M568.6 827.4h0M627.9 830.6h0M631.1 804.9h0M575.2 835.8h0M630.1 849.5h0M624.7 792.4h0M578.2 845.3h0M602.1 838.4h0M644.2 810.8h0M569.6 848.5h0M600.9 837.1h0M568.5 847.1h0M589.1 826.8h0M633.3 766.1h0M596.2 819.2h0M589.5 811.5h0M636.5 346.8h0M636.5 402.7h0M636.5 434.5h0M641.2 439.5h0M606.2 527.6h0M581.5 573.4h0M636.6 544.6h0M636.6 560.4h0M636.6 587.1h0M636.6 594.5h0M636.6 603.8h0M596.8 610.5h0M646.3 621.2h0M626.3 628.2h0M635.6 628.2h0M647 630.6h0M635 639.3h0M598.5 641.6h0M599.5 652.3h0M637 657.3h0M641.3 661.7h0M637 669h0M637 675.7h0M642 675h0M655.7 693.1h0M622.9 706.5h0M636 706.5h0M651 707.5h0M598.5 709.8h0M608.5 711.5h0M601.2 715.8h0M637 715.8h0M637 722.5h0M653.7 719.2h0M594.5 724.9h0M654.7 725.9h0M579.5 735.2h0M627.9 734.2h0M637 734.2h0M606.9 736.9h0M608.5 740.9h0"/>
<path stroke="#d2691e" d="M675.2 808.2h0M660.4 826.7h0M695.1 768.6h0M689.5 822.9h0M690.9 803.8h0M694.9 833.8h0M689.6 844.4h0M691.1 836.7h0M682.6 811.4h0M714.2 837.8h0M698.6 763.5h0M660.1 752h0M657.9 761.3h0M711.5 775.1h0M731.1 817.3h0M691.7 824.9h0M725.6 834h0M680.4 836.3h0M706.7 806.5h0M688.2 819.4h0M697.5 828.1h0M685.2 829h0M725.1 834.5h0M681.4 793.8h0M699.5 792.3h0M689 838.9h0M676.6 776.3h0M689.4 831h0M658.3 798.4h0M683.5 836.5h0M730.6 818.8h0M712.4 768.9h0M712.4 804.2h0M681.9 841.7h0M688.7 831.5h0M705.4 822.6h0M680.9 848.9h0M721.2 827.4h0M712.2 753.8h0M678.3 813.2h0M707.2 828.6h0M684.4 807.5h0M711.8 779.6h0M662.3 801.8h0M711 818.2h0M696.8 818h0M694.5 838.5h0M662.2 842.9h0M681.6 822.4h0M719.9 846.2h0M686.2 842.5h0M709 792.2h0M682.1 837.9h0M686.5 754.8h0M680.4 829.1h0M680.6 783.5h0M719.1 799.7h0M698.3 845.9h0M683.3 792.2h0M656.7 819.1h0M728.2 845.3h0M679.9 750.9h0M725.5 797.2h0M667.3 849.3h0M686.2 824.5h0M679.2 774.7h0M681.7 828.5h0M687.4 828.1h0M686.1 839.1h0M715 834h0M670.4 742.7h0M680.8 820.1h0M691.4 792.8h0M693.6 749.1h0M714.6 780.8h0M685.4 833.4h0M695.2 838.2h0M708.9 782.4h0M700.4 843.1h0M730.4 822h0M698.6 799.6h0M709.4 818.8h0M656.3 828.1h0M697.3 828.1h0M698.6 824.5h0M680.2 828.6h0M670.9 791h0M703.7 796.7h0M670.3 833.2h0M698.8 828.1h0M687.9 777.2h0M707.7 786.6h0M682.2 817.5h0M706.8 809.4h0M700.6 838.1h0M683.6 792.3h0M698.6 806.8h0M707 792.3h0M706.5 831.1h0M687.3 804.2h0M683.7 819.7h0M670.9 843.3h0M671.6 849.1h0M693.8 800.2h0M677.4 849h0M734.2 797.9h0M724.1 805.2h0M690.8 840.6h0M708.9 745.9h0M716.7 840.7h0M675.9 829.9h0M735.2 848h0M717.9 745.3h0M695.2 840.9h0M700.3 797.2h0M682.3 826h0M722.4 826.8h0M731.6 832.7h0M715.2 834.4h0M659.8 768.5h0M699 815.5h0M657 843.3h0M696.4 832.4h0M668.2 820.7h0M690.7 828.8h0M683.2 834.9h0M694.2 752.1h0M709.4 841.2h0M684.7 827.8h0M706.7 770.8h0M683.6 843.4h0M734.5 786.9h0M708.3 785.8h0M700.8 753.9h0M662.9 800.9h0M693.4 777.5h0M669.4 830.8h0M686.1 840.5h0M712.2 800.5h0M682.2 776.3h0M736.3 803.9h0M659.2 832.4h0M685.8 805.4h0M692.4 742.3h0M713.2 800.9h0M661.4 812.3h0M689.9 843h0M688.1 849.1h0M727.1 842.3h0M681.5 836.3h0M728.3 844.4h0M659.8 802h0M709.8 827.3h0M658.4 843h0M677.7 823h0M705 842.1h0M699.4 807.7h0M704.2 807.7h0M699.1 841.4h0M705.1 809h0M698.8 767.2h0M707.4 833.7h0M687.4 808.9h0M723 763.5h0M685.1 803.5h0M693.8 844.9h0M701.2 819.4h0M730.8 830.1h0M664.2 835.8h0M703 804.1h0M657.1 836.2h0M710.4 775h0M732.1 763.5h0M660 787.9h0M722.5 829.7h0M734.9 809.7h0M664 751.5h0M685.2 832.5h0M710 817.8h0M707.2 802.2h0M694.8 820.5h0M720.5 793.7h0M712.1 755h0M683.9 755h0M667.1 833.8h0M689.8 838.9h0M735.8 830.1h0M714.5 832.5h0M732.1 825.5h0M676.5 824.2h0M699.3 839.4h0M663.8 829.9h0M686.3 847h0M697.9 835.1h0M676.7 787.4h0M696.9 826.4h0M701.1 800.9h0M694.4 834.6h0M677 812h0M731.9 816.9h0M684.8 849h0M693.6 814.2h0M690.1 792.6h0M715 841h0M685.1 841.3h0M683.9 837.5h0M695.6 780h0M700 832.7h0M687.5 838.9h0M732.7 844.3h0M693.1 800.9h0M701.4 849h0M661.4 810.2h0M692 814.2h0M715.1 788.4h0M675.9 825.4h0M687.5 816.9h0M685.7 849.3h0M692.3 816.7h0M696.1 835.7h0M693.1 824h0M728.5 825.3h0M687.2 839.2h0M714 847.5h0M717 801.9h0M733.9 803.7h0M732.8 835.1h0M720 828.8h0M696.6 798.7h0M680.9 849.3h0M670.4 829.6h0M734.9 807.4h0M660.6 842.1h0M736.7 765.6h0M735.3 832.1h0M671.7 779.6h0M697 807.3h0M703.1 789.6h0M656 847.6h0M662.4 842.8h0M681.6 773.6h0M715.9 821.1h0M694.9 814.3h0M735.9 847.2h0M694 819.2h0M675.4 753.4h0M714.2 836.4h0M727.1 772.3h0M662.4 792.6h0M670.1 786.6h0M658.2 787.3h0M703.9 788.2h0M694.4 836h0M709.6 830.3h0M722.6 839.6h0M667.7 793h0M729 754.9h0M669.2 753.7h0M706.1 849.9h0M664.8 801.9h0M693.5 813.9h0M686.3 838.4h0M685.4 765.5h0M675.2 838.1h0M668.7 834.7h0M678 836.6h0M678.7 830.3h0M664.6 824.7h0M693.6 828h0M717.3 804.9h0M705.3 819.2h0M665.3 775.8h0M701.2 821.3h0M684 751.4h0M690.2 841.5h0M700.7 762.8h0M656.9 815.3h0M697.2 843.1h0M736.1 805.9h0M666.5 832.1h0M660.4 833.2h0M684 762.8h0M667 842.4h0M683.6 832.1h0M734.7 830.9h0M731.1 847.8h0M670.3 836.2h0M697 823.3h0M687.4 839.2h0M678.4 848.1h0M674.6 847.6h0M682.7 830.4h0M702.4 837.9h0M693.9 818.6h0M703.4 841h0M710.5 795.8h0M713.4 847.8h0M736.1 817.5h0M675.4 791.6h0M715.1 792.1h0M707.6 768.1h0M662.6 849.1h0M726.3 790.1h0M686.4 845.7h0M735.5 830.8h0M725 810.9h0M702.9 822.2h0M706.5 823.2h0M722.4 792.5h0M660.9 842.1h0M685.7 845.4h0M669.9 844.9h0M658.7 834.6h0M724.4 827.8h0M699.5 825.3h0M731.6 833.5h0M695.4 801.9h0M706.5 212.2h0M719 494h0M728.2 578.1h0M658 600.8h0M706.5 601.5h0M676.4 624.6h0M728.2 632.2h0M704.8 642.9h0M728.2 640.6h0M718.2 659h0M728.2 667.3h0M658 684.1h0M672.7 680.1h0M672.7 685.1h0M692.8 686.7h0M717.2 681.4h0M718.2 687.4h0M709.5 696.8h0M724.9 699.1h0M718.9 704.1h0M702.8 707.5h0M722.2 709.1h0M733.2 709.1h0M668.1 715.8h0M703.8 716.8h0M732.2 720.8h0M701.5 728.2h0M723.9 728.2h0M732.2 733.5h0M668.1 747.6h0"/>
<path stroke="#0000ff" d="M784.3 832.1h0M770.5 807h0M785.9 845.6h0M762.3 798h0M772.3 815.5h0M773.8 825.3h0M764.5 804.9h0M770.5 750.8h0M768 755.4h0M748.3 842.9h0M746.9 771h0M805.2 806.3h0M779 844.6h0M761.7 833.1h0M778 846.2h0M776.4 812.3h0M807.7 811.4h0M791.5 824.3h0M775.6 828.6h0M784.1 753.8h0M796.1 832h0M741.8 783.7h0M755.7 829.6h0M805.7 769.9h0M763 835.6h0M796.6 803h0M772.7 840h0M773.1 846.8h0M744.2 846.7h0M792 840.1h0M782.3 849.7h0M739.2 807.1h0M808.7 752.8h0M792.9 811.5h0M807.4 829.3h0M806.8 816.9h0M754.5 846.7h0M800.9 837.6h0M814.6 833.3h0M757.9 827.8h0M770.2 823.4h0M811.4 831.6h0M743.3 845.3h0M759.4 846.3h0M793.5 799.1h0M784.1 836.8h0M804.7 799.4h0M745.1 794.6h0M748 838.7h0M775.1 807.8h0M780.5 844.3h0M778 793.6h0M777.1 798.3h0M774.9 759.1h0M809.1 798.6h0M799.3 816.6h0M784.8 818.4h0M771.3 775.6h0M765.4 759.6h0M768.8 828.8h0M801 824.7h0M791.4 842.9h0M787.9 845.1h0M768.7 822.2h0M741.3 795.8h0M804 831.7h0M778.1 843h0M812.6 845.3h0M766.9 816h0M782.6 765.9h0M741.9 804.7h0M797.9 816.7h0M743.6 848.5h0M763.7 748h0M784.5 835.9h0M771.4 842.5h0M754.9 806.1h0M758.4 786.8h0M791.7 826.4h0M811.2 798.6h0M762.7 838.9h0M764.5 814.5h0M784.6 831.9h0M748.7 783h0M813.8 806.8h0M779.4 786.9h0M771.4 840.5h0M741.1 780.4h0M769.6 843.7h0M754.1 813.3h0M809.6 850h0M769.3 821.6h0M771.1 800.9h0M756.2 785.4h0M772.5 822.9h0M769 834h0M781.8 848.4h0M791.2 782.3h0M771.3 828.9h0M765.4 834.6h0M776.2 845.2h0M764 812.7h0M746.4 768.6h0M754.3 835.1h0M784.1 828.2h0M806.9 823.3h0M761.1 822.2h0M756.3 826.3h0M784.3 818.1h0M803.3 822.4h0M757.3 827.7h0M772 821.2h0M776.1 792.9h0M766.4 770.2h0M736.7 806.9h0M812 841.3h0M781.7 828.7h0M747 812.6h0M813.5 770.8h0M773.9 839.8h0M758.4 787.1h0M743.8 847.4h0M769.2 804.5h0M783.3 824.4h0M796.5 824.1h0M809.3 826.5h0M789.1 821.2h0M758.3 821.1h0M766.4 777.7h0M769.8 828.4h0M800.2 808.6h0M770.4 829.1h0M764.2 814.5h0M753 811.1h0M755.4 832.3h0M773.1 824.7h0M796.3 833.1h0M738.2 834.2h0M765.4 845h0M778.4 801.5h0M784.6 785h0M799.6 833.8h0M744.9 847.4h0M755.1 829.9h0M741.8 789.9h0M760.9 847.3h0M743 819.9h0M764.7 822.2h0M743.2 778.6h0M790.7 829.9h0M758.1 774.1h0M756.7 839.2h0M748.3 774.4h0M799.6 782.5h0M800.6 820.2h0M750.1 808.7h0M802.6 818.9h0M767.4 824.5h0M756.2 832.6h0M771.3 837.7h0M779.2 841h0M771.9 827.4h0M811.5 822.8h0M741.7 780.9h0M754.1 827.1h0M799.9 822.9h0M762.6 840.6h0M741.4 805h0M775.6 836.9h0M777 800.5h0M806.1 843.4h0M748.1 830h0M780.5 819.3h0M809.7 824.7h0M759.2 847.4h0M754.8 824.9h0M744.2 825.1h0M772.7 779.7h0M795.1 832.5h0M814.2 834.9h0M740.2 841.4h0M747.1 823.3h0M749.5 835.4h0M738.1 847.1h0M756.8 848h0M812.7 845.6h0M810.4 805.2h0M793.2 818.4h0M761.7 828h0M799.4 847.8h0M810.7 835h0M809.7 815h0M745.8 796.7h0M773.4 845h0M749.5 799.2h0M742 834.6h0M766 848.3h0M807.9 817.3h0M760 830.1h0M800 801.7h0M766.8 832.7h0M812.7 805.1h0M775.2 787.7h0M763.2 771.8h0M768.2 820.6h0M803.7 808.5h0M794.7 835.3h0M736.8 839.2h0M781.8 753.8h0M807.6 826.5h0M737.6 834.8h0M738.5 758.5h0M804.1 845.8h0M747.5 808.1h0M758.5 825.1h0M759.6 829.3h0M803.7 835.4h0M798.6 817.4h0M778.9 799.3h0M744.8 840.8h0M811.3 804.6h0M803.7 824.9h0M770.1 830h0M789.4 827.1h0M786.5 830.8h0M771.4 813.8h0M778.3 769.9h0M810.3 766.8h0M743.3 832.5h0M770.5 780.2h0M792.1 829.7h0M762.4 829.7h0M771.8 827.8h0M767.3 814.6h0M764.8 849.2h0M768.3 839.6h0M774.9 833.1h0M786.2 840.9h0M809.4 833.5h0M783.1 848.5h0M768.1 796.3h0M756.6 760.8h0M741 846.6h0M764.4 837.3h0M760.7 843.5h0M752.5 775.1h0M797.8 835.1h0M767.4 848.7h0M793.9 789.1h0M751.6 782.7h0M810.2 828.4h0M738.9 835.5h0M767.4 836.8h0M810.2 845.2h0M812.3 817h0M740.9 752.7h0M757 837.5h0M741.2 834.4h0M738.9 828.7h0M779.2 840.3h0M771.9 808.9h0M813.6 805.9h0M758.1 836.2h0M786.1 798h0M768.9 842.8h0M773.4 768.6h0M775.1 813.7h0M770.8 823.5h0M809.4 830.3h0M771.4 810.9h0M768.3 837.2h0M765.2 790.3h0M810.5 830.2h0M746.9 815.6h0M763.4 833.9h0M807.6 847.6h0M761.5 787.9h0M803.2 810.5h0M792.7 768.3h0M798.3 825.3h0M762.1 805.1h0M788.8 797.8h0M805.5 845.7h0M771.6 832.7h0M747.3 845.9h0M776.5 741.5h0M748.7 790h0M747.3 772.6h0M741 804.2h0M770.7 794.5h0M768.1 834.2h0M798.9 831.9h0M740.2 777.2h0M746.9 847.6h0M766.4 773h0M792.7 799.1h0M758.4 821.9h0M755.7 799.7h0M793.2 758h0M767.3 773.5h0M750 549h0M739.6 571.4h0M795.1 573.1h0M814.8 578.1h0M803.1 600.8h0M741.6 609.2h0M749.6 620.9h0M741.6 628.9h0M741.6 633.9h0M742.3 642.3h0M774 646.3h0M790.8 654h0M759.7 656.6h0M751.3 668.4h0M739.9 673h0M749.6 677.4h0M774 672.4h0M783.1 678.4h0M797.4 690.1h0M795.1 695.8h0M749.6 705.8h0M795.1 710.1h0M739.3 714.8h0M759.7 716.5h0M774 717.5h0M786.4 724.2h0M810.8 720.8h0M743.9 732.5h0M750.6 733.5h0M754 737.6h0M786.4 732.5h0M810.8 736.6h0M773 742.6h0"/>
<path stroke="#d2691e" d="M866.1 826.4h0M819 828.9h0M861.3 843.8h0M883.7 843.7h0M875.9 846.2h0M848.1 826.5h0M820.1 752.5h0M861 785.1h0M829.5 818.3h0M846.1 805.1h0M816.5 781.9h0M833.7 822.8h0M834.2 846.8h0M842.6 822.5h0M835.6 842.8h0M858 837.7h0M841.5 825.7h0M829 801.1h0M862.7 787.6h0M830.2 813.6h0M832 760.6h0M851.3 819.7h0M865.1 815.9h0M867.4 819.4h0M847.3 828.5h0M821.5 841.2h0M836.3 812.7h0M869.8 817.3h0M848.2 837.4h0M836.4 836.6h0M859.5 839.1h0M817.8 838.3h0M846.7 826.8h0M880.2 832.3h0M855.5 817.5h0M818.7 767.4h0M829.1 836.9h0M840.9 779.4h0M855.8 828.9h0M849.7 803.6h0M860.8 758.8h0M881.6 845.5h0M817.7 827.5h0M823.1 824.9h0M882 765.8h0M834.9 821h0M863 838.2h0M861.2 811.6h0M874.8 815.5h0M823.4 819.6h0M831.2 789.1h0M865.7 826.2h0M832.8 806h0M830.6 802.6h0M856.1 843.6h0M836.3 787.9h0M819.4 837.6h0M858.4 842.7h0M843.1 825h0M844.9 772.8h0M832.7 791.6h0M877.2 810.6h0M837.9 789.4h0M825.9 845.5h0M876.4 846.5h0M867.7 841h0M866.6 822.8h0M832.2 831.8h0M884 819.2h0M861 799.5h0M858.2 825h0M849.9 757.3h0M819.1 830.2h0M833.2 814.7h0M850 754.1h0M868.6 824.5h0M858.8 829.3h0M843.9 830.8h0M835.1 829.2h0M839 827.8h0M862.3 817h0M867.1 824.1h0M863.4 791.9h0M884.3 796.9h0M838.2 774.7h0M879.9 781.8h0M860.3 826.3h0M857.2 826.6h0M843.8 838.8h0M878.5 804.4h0M865 809.7h0M872.9 839.8h0M884 742.6h0M820.5 829.3h0M841.9 836.3h0M879.1 745.4h0M875.7 827.8h0M861.1 833.1h0M849.6 790.2h0M864.7 828.5h0M859.2 805.5h0M860.6 847.3h0M867 792.5h0M834.6 794.6h0M864.4 836.4h0M881.9 845.3h0M850 824.2h0M876.6 836.1h0M869.7 743h0M840.8 830.4h0M836.6 818.9h0M848.4 823.3h0M843.8 845.6h0M839.9 755.2h0M844.3 811.7h0M834.3 815.3h0M836.7 819h0M827.2 822.6h0M834 830.5h0M849.8 844.7h0M845.8 835.1h0M873.7 825.2h0M816.7 816.1h0M838.4 838.9h0M859.4 844.5h0M832.8 793.8h0M832.6 810.1h0M870.6 775.4h0M833.7 841.4h0M821.1 813.9h0M860.6 849.6h0M830.4 835.6h0M824.2 793h0M850.3 841.2h0M846.8 793.4h0M866.5 819h0M834.5 837.1h0M865.3 841.1h0M844.5 813.4h0M860.8 782h0M853.4 802.9h0M818.9 826h0M862.1 825.9h0M845.7 846.9h0M860.3 781.1h0M856.6 840.7h0M880.9 820.4h0M863 798.9h0M878.3 813.8h0M840.5 813.4h0M846.7 818.7h0M835.2 753.4h0M846.1 745.2h0M851.9 826.5h0M843.4 845.7h0M834.2 815.5h0M844.8 840.2h0M841.1 821.3h0M847.5 778.6h0M820.7 785.6h0M842.7 782.5h0M859 838.2h0M860 831.2h0M828.8 847.5h0M856.9 762.5h0M873.9 847.3h0M840.9 811.6h0M844 817.6h0M842.8 783.1h0M844.8 841.6h0M876.7 759.5h0M843.6 801.6h0M840 834.2h0M882.1 804h0M847.7 742.1h0M818.7 792.5h0M836.7 836.7h0M869.6 791.2h0M836.7 820.3h0M834.2 809.3h0M867.7 802.6h0M865 790h0M862.2 816.9h0M846.9 826.9h0M848.9 834.6h0M825 814.9h0M860.5 808.7h0M831.8 840h0M882.7 828.6h0M840.2 826.2h0M859.3 821.5h0M846.4 829.4h0M851.1 849.9h0M868 844.4h0M833.3 832.9h0M854.1 826h0M861 822.9h0M864.8 820.1h0M871.3 837.6h0M869.5 780.6h0M849.3 824.9h0M842.4 792.5h0M852.6 844.8h0M840.7 849.2h0M816.6 826.9h0M836.1 790.3h0M832 788.2h0M828.8 845.6h0M884.9 817.1h0M836 846.2h0M827.8 837.6h0M864.8 744.8h0M824.5 831.7h0M862 815.3h0M867.9 763.7h0M859.5 846.4h0M854 849.6h0M837.9 819.1h0M823.8 843h0M825.3 801.1h0M840 846.8h0M833.2 835h0M845.8 847.7h0M837.2 844.9h0M854.7 831.1h0M840 499h0M825.9 526.3h0M846.3 529.3h0M878.3 537h0M819.5 547h0M854.6 593.1h0M820.2 675.7h0M843.6 680.7h0M849.6 685.7h0M885 683.4h0M820.2 687.4h0M825.9 690.1h0M839.2 694.1h0M845.2 699.1h0M825.9 703.5h0M862.6 701.8h0M881.7 699.1h0M845.2 704.1h0M820.2 714.2h0M834.2 717.5h0M871 710.8h0M864.3 720.2h0M883.7 724.9h0M815.8 725.9h0M822.5 732.5h0M829.2 735.9h0M854.3 737.6h0M844.2 744.2h0M862.6 740.9h0"/>
<path stroke="#0000ff" d="M930.5 797.6h0M931.6 840.5h0M940.7 841.9h0M890.9 820.5h0M947 813h0M892.5 815.8h0M925.6 848.9h0M888.5 811.3h0M923.6 809.1h0M903.2 848.9h0M946.9 842.4h0M942.9 847.5h0M888.7 802.9h0M928.3 808.7h0M922 825.9h0M948.5 828.7h0M923.5 767.9h0M928.4 775.7h0M926.9 801.8h0M899.1 845.4h0M889.1 815.6h0M896.5 849.5h0M933 826.1h0M927.4 812.1h0M936.5 822.2h0M892.3 824.8h0M924 842.3h0M925.1 803.3h0M929.3 841.4h0M888.8 819.4h0M947.5 828.9h0M903.5 771h0M893.3 841.1h0M895.4 793.8h0M900.5 809.1h0M896.7 777.4h0M928.2 791.4h0M933.3 778.8h0M894.6 782.6h0M946.2 849.2h0M946.6 834.8h0M898 799.3h0M923.4 830.5h0M940 809h0M889.5 822.3h0M949.5 801h0M888.1 771.1h0M926.4 840.3h0M923.6 804.4h0M924.1 846h0M932.1 782.2h0M894.3 803.8h0M931.7 746.2h0M892.4 828.3h0M892.1 756.2h0M921.2 847.1h0M944.1 824.7h0M932 815.5h0M891.9 778.6h0M941.9 801.6h0M895.8 802.7h0M929.8 822.8h0M937.1 810.1h0M935.2 800.8h0M925.3 786.6h0M933 833.3h0M903.9 823.3h0M888.4 824h0M928.3 842.3h0M900.9 823.1h0M922.5 793h0M898.1 766.2h0M898.2 833.8h0M897.9 812.9h0M903.8 810.7h0M901.5 770.3h0M890.9 836.4h0M900.4 834.9h0M929.6 803.4h0M942.9 774.9h0M947.9 843.1h0M927.4 782.4h0M894.3 796.2h0M892.3 759.4h0M922.2 821.1h0M896.4 752.2h0M898.3 848.6h0M933 846.4h0M949.9 797.1h0M932.3 819.4h0M897.4 826.2h0M888.5 803.5h0M889.2 843.5h0M922.2 804.9h0M922.9 801.6h0M923.7 840.3h0M928.3 785.2h0M948.2 838.3h0M941.9 810.3h0M901.8 811.4h0M898.2 846.7h0M891.4 808.1h0M924.5 834.7h0M894.5 819.9h0M933 811.8h0M927.8 845h0M895.8 823.9h0M922.3 810.3h0M921.9 834h0M935.4 782.1h0M892.8 813.9h0M898.4 802.6h0M922.5 788.7h0M938.9 801.4h0M926.1 751.9h0M923.7 820.8h0M938.4 789.8h0M925.9 815.6h0M928.3 816.5h0M893.8 832.9h0M940.2 836h0M900 841h0M944.1 815.2h0M888.3 836.4h0M892.6 781.9h0M934.3 818.3h0M939.3 825.3h0M903.4 798.2h0M891.7 824.9h0M894.1 830.2h0M927.7 819.2h0M895 845.5h0M932.2 805.5h0M932.2 833.1h0M943.1 825.8h0M927 801.6h0M893.9 842h0M892.6 840.3h0M900.5 839.2h0M946.8 818.6h0M946.4 820.7h0M944.3 787.2h0M896 832.8h0M900.6 831h0M937.7 775.4h0M889.7 836.4h0M924.7 781.5h0M902.6 816.1h0M930.3 807h0M938 827h0M923.9 787.1h0M935.3 835.1h0M946 822.4h0M934.7 830.4h0M925 801.3h0M924.8 780.1h0M935.5 823.9h0M933.1 767h0M891 829.7h0M897 841.5h0M892 848.4h0M889.7 815.8h0M896.1 788.8h0M931.6 847.4h0M922.4 839.8h0M898.5 775.3h0M896 806.4h0M931.6 754.7h0M948.4 848.9h0M889.3 817.3h0M899.9 812h0M928.6 832.3h0M923 842.8h0M900 811.5h0M894.7 831.6h0M934.5 802.8h0M901.5 830.3h0M888.7 825.5h0M899.3 849.5h0M938.2 815h0M896 830h0M926.3 813.1h0M889.8 793h0M938.5 829.5h0M926.6 847.6h0M931 849.9h0M893 848.8h0M897.8 841.4h0M898 839.9h0M903.4 752.2h0M897.6 836.4h0M895.5 842.7h0M895.4 787.5h0M940.7 840.1h0M948.1 814.2h0M921.8 830.1h0M934.5 794h0M936.5 834.7h0M902.7 807h0M892.4 822h0M930.9 812.8h0M895.4 823.8h0M897.9 813.6h0M937.7 842.2h0M932.2 812.9h0M892 782.1h0M946.4 825.6h0M925.5 801.4h0M932.2 811h0M894.5 841.2h0M899 837.8h0M895 767.4h0M888.3 835.4h0M948.7 810.5h0M942.3 847.8h0M922.4 784h0M890.2 828.2h0M921.8 833.7h0M900.7 849.7h0M904 382.6h0M903.8 613.9h0M946.6 553.3h0M946.9 610.5h0M946.9 641.6h0M945.9 654h0M945.2 671.7h0M947.9 692.4h0M941.2 700.8h0M935.5 709.1h0M946.9 707.5h0M947.9 715.8h0M942.9 724.2h0M929.5 730.2h0M921.1 738.6h0M898.7 736.9h0M936.2 742.6h0"/>
<path stroke="#d2691e" d="M969 743.4h0M959.1 840.6h0M985.9 848h0M997.7 793.1h0M990.2 823.4h0M1005.5 841.6h0M969.1 748.1h0M1013.5 744h0M1013.8 838.6h0M992.1 823.8h0M988.7 758h0M954.9 830.9h0M996.4 850h0M987.2 847h0M983.8 827h0M989.1 848.4h0M955.8 769h0M965.1 817.2h0M969.3 846.8h0M987.9 825.8h0M994.6 787.5h0M1008.9 828.8h0M1000.5 817.7h0M978.2 846.9h0M991.4 769.2h0M1006.1 845.4h0M998.3 829.4h0M954.8 807.1h0M1010.3 800.2h0M1008.1 838.4h0M1001.9 847.9h0M993.5 760.1h0M1008.9 743.3h0M986 770.4h0M961.4 832.9h0M962.4 820.9h0M962.9 836.9h0M969.3 849.2h0M974.1 782.8h0M963.3 824.4h0M968.2 819h0M1012.1 841.2h0M993.1 791.3h0M1013.9 844.9h0M969.8 825.9h0M993.4 816.5h0M958.4 844.9h0M967.2 819.1h0M1011.2 806.4h0M977.1 769.1h0M986.9 803.7h0M993.7 837.9h0M997.9 843h0M1005.7 844.1h0M978.1 841.6h0M1013.9 846.6h0M957.8 812h0M988 844.1h0M984 810.2h0M976.1 800.2h0M973.1 838.8h0M958.9 801.5h0M1002.3 776.3h0M981.4 821.4h0M969.6 823.6h0M962.8 826.3h0M1011.1 847.2h0M990.8 784.4h0M994.3 842h0M970.7 834.7h0M960.2 813.9h0M964.5 804.2h0M978.1 827h0M964.3 843.1h0M1011 828.9h0M1010 819.5h0M1007.4 814h0M1012.4 794.3h0M964.1 844.2h0M976.4 772.2h0M1011.7 775.9h0M969.3 817.6h0M959.4 777.8h0M1009.9 804.9h0M995 783.7h0M970.8 749.3h0M1001.5 828.2h0M997 841.9h0M999.3 835.1h0M966 836.5h0M959.9 809.5h0M1000 848.2h0M1008.1 748.2h0M966.5 807.1h0M995.4 837.9h0M994.5 844.3h0M961.3 805.3h0M987.1 786.9h0M1009.4 844h0M1000.5 848.9h0M962.3 830.7h0M1007.8 846.9h0M1009.7 848.4h0M993.7 819.1h0M956 826.2h0M974.2 839.9h0M972.3 845.3h0M994.2 795.5h0M1001.8 805.3h0M960.4 839.1h0M997.5 847.2h0M963 824.6h0M974.4 768.3h0M999.2 835.5h0M983.2 831.8h0M996 810.4h0M990.6 817.6h0M958.2 785.9h0M964.4 837.2h0M960.4 849.8h0M991.9 842.2h0M981.4 843.4h0M1010.8 848.6h0M963.7 741.3h0M982.4 847.9h0M969.5 819.1h0M965.4 842.2h0M980.5 810.2h0M967.8 840.3h0M995.5 843.3h0M1009.1 820.2h0M991.9 834h0M964.9 758.2h0M962.4 833.2h0M959.5 815.6h0M1013.3 823h0M994.5 836.8h0M998.7 803.8h0M968.2 844.6h0M980 837.4h0M1001.2 805.2h0M1009.2 811.4h0M961.4 784.6h0M967.5 784.8h0M971.7 835h0M984.9 766.6h0M1013.7 823.6h0M989.8 811h0M972 766.4h0M980.3 843.9h0M994.7 847.5h0M1004.7 813.6h0M987.9 796.9h0M960.3 831.5h0M982.1 844.1h0M1004 812.7h0M958 841h0M957.3 804.2h0M965 795.2h0M990.6 777h0M953.5 800.8h0M1004.4 822.7h0M975.1 808.6h0M984.9 831h0M959.6 799.8h0M990.3 832.5h0M1000.7 839.2h0M978.5 830.5h0M990.4 816h0M1012.4 824.6h0M962.3 848.7h0M964.2 830.7h0M957.4 781h0M1009.1 743.3h0M977.1 820.9h0M962.2 805.2h0M964 812.2h0M998.7 848.4h0M986.5 831.4h0M973 838h0M963.1 837.5h0M997.1 818.8h0M997.2 823.8h0M1005.8 831.3h0M1002.8 775.4h0M960.9 829.5h0M1006 806.5h0M973.7 830.3h0M1013.2 819.7h0M981.1 845.5h0M995.2 828.2h0M1005 842.4h0M988.1 834.9h0M992.6 826.8h0M975.7 761h0M981.4 746.8h0M958.9 749.3h0M962.6 837.2h0M960.7 846.7h0M1005.7 781.1h0M988.7 816h0M989.9 845.4h0M963.5 805.1h0M966.5 830.6h0M965.5 802h0M969.7 788.2h0M1002.7 750.7h0M968.6 827.6h0M984.5 841.2h0M964.3 838.1h0M1003.4 834.5h0M1005.8 821.5h0M967.6 793.9h0M1013.9 779.8h0M992.4 829.4h0M990.9 808.2h0M984.6 848.8h0M958.7 848.5h0M953.1 800.5h0M1000.7 484.6h0M985.4 498.6h0M1002.1 530.6h0M989.7 576.1h0M1003.7 577.4h0M1000.4 589.8h0M984.7 598.1h0M989.7 602.2h0M1000.4 612.2h0M1003.7 615.5h0M955.6 641.6h0M982 649.3h0M1002.1 652.6h0M1009.7 687.4h0M988 709.1h0M1003.7 716.8h0M964.6 718.5h0M956.2 725.9h0M978 723.5h0M986.3 725.9h0M1013.1 720.8h0M1001.4 727.5h0M983 740.9h0M1003.7 737.6h0"/>
<path stroke="#0000ff" d="M1069 841.1h0M1036.2 844.3h0M1061.7 815.6h0M1039.3 843.7h0M1021.2 803.2h0M1065.3 782.6h0M1053.8 749.3h0M1041.8 777.4h0M1064.4 829.9h0M1016.2 817.6h0M1065.5 840.6h0M1074.1 788.1h0M1078.6 829.7h0M1054.8 817.4h0M1030.3 794.3h0M1052.2 831.1h0M1062.9 805h0M1019.6 760.5h0M1021.1 783.8h0M1035.4 799h0M1061.3 806.6h0M1044.6 767h0M1045.4 764.2h0M1057.5 836.3h0M1064.6 840.3h0M1070.4 808.2h0M1062.3 831.4h0M1076.1 849h0M1046.1 802h0M1069.3 828.7h0M1036.3 842.5h0M1054.3 837.9h0M1018 819.6h0M1067.6 849.6h0M1056.3 832.3h0M1075.7 824.6h0M1075.9 793h0M1078.5 834.8h0M1021.5 823.6h0M1026.1 828.9h0M1038.3 849.8h0M1046.1 827.5h0M1020.2 843.4h0M1065.2 803.6h0M1043.2 820.1h0M1046.5 799.4h0M1046.8 791h0M1038.5 801.3h0M1026.4 815.8h0M1027.1 824.4h0M1046 827.2h0M1053 829.5h0M1065.2 840.3h0M1077.2 787.9h0M1072.9 841h0M1017.6 830.5h0M1037.2 802.8h0M1048.6 782.5h0M1028 834.4h0M1073.7 820.3h0M1074.5 807.8h0M1057.3 843.4h0M1061.8 849.4h0M1050.1 849.8h0M1021.9 818.9h0M1068.6 791.4h0M1076.4 840.6h0M1034.6 802.2h0M1060.8 760.7h0M1038.8 798.1h0M1067.6 830.7h0M1079.7 840.5h0M1030.6 829.6h0M1028.5 795.2h0M1052.8 777.1h0M1037 781.3h0M1052.6 813h0M1075.9 762.5h0M1045.5 755.3h0M1058.1 806.4h0M1078.3 809.6h0M1063.7 800.6h0M1066.5 823.2h0M1020.3 791.7h0M1034.8 847.1h0M1059.8 817.4h0M1049 820.9h0M1074.3 785.8h0M1034.2 839.6h0M1078 779.3h0M1039.4 843.4h0M1039.6 849.3h0M1025.8 769.6h0M1051.2 776.9h0M1040.4 842.9h0M1062.5 836.1h0M1033.9 766.1h0M1078.7 782.1h0M1059.4 830.9h0M1069.9 839.5h0M1029.8 848.5h0M1059.1 833.8h0M1044.5 807.3h0M1043.3 845.5h0M1032.4 805.3h0M1051.1 811.9h0M1075.6 837.9h0M1022.2 820.8h0M1023.1 826.3h0M1076 821.3h0M1046 772.1h0M1030.2 845.2h0M1070.2 845.3h0M1074.4 820.1h0M1063.7 837.4h0M1069 764h0M1047.8 771.2h0M1047.9 821.5h0M1072 818.4h0M1066.4 843.6h0M1055.2 842.4h0M1066 820.3h0M1035.7 816.2h0M1069.2 781.6h0M1067.7 809.3h0M1077.3 845.2h0M1066.4 798.5h0M1049.6 793.4h0M1078.6 809.4h0M1042.4 817.3h0M1049 802.7h0M1070.3 842.6h0M1023.5 839.6h0M1069.6 818.4h0M1079.5 821.9h0M1032.6 814h0M1056.9 833.1h0M1073 793.1h0M1052.5 844h0M1019.8 783.5h0M1049.9 755.4h0M1074.9 838.3h0M1034.6 815.1h0M1068.7 793.7h0M1016.6 840.1h0M1066.6 813h0M1062.9 785h0M1069.3 756.5h0M1058.4 837.1h0M1026.2 829.5h0M1041.1 827.9h0M1064.6 753.2h0M1015.1 791h0M1024.8 842.8h0M1022 808.5h0M1045.7 810h0M1063.3 789.1h0M1070.8 846.1h0M1038.4 836.1h0M1032.9 824.9h0M1053 744.1h0M1075.3 774.8h0M1076.7 848.5h0M1039.6 798h0M1046.5 801.9h0M1072.4 830.1h0M1020.9 802h0M1056 824.5h0M1052.5 759h0M1031.4 842.1h0M1055.7 817.3h0M1071.4 781h0M1041.6 808.9h0M1076.5 840.1h0M1059.4 817.4h0M1029.4 779.8h0M1034.6 792.8h0M1065.6 846.2h0M1050.7 809.4h0M1060.4 813.6h0M1070.1 811.6h0M1076.5 849.5h0M1027.7 815.8h0M1068.8 809.8h0M1076.5 830.7h0M1037.2 801.9h0M1053 848.2h0M1017.8 836.3h0M1021.6 773.7h0M1068.6 748.8h0M1033.5 814.4h0M1046.5 823.3h0M1040.8 821.3h0M1075.7 778.8h0M1049.6 835.7h0M1061.5 816.7h0M1057.2 828.6h0M1040.4 798h0M1073 848.9h0M1047.4 827h0M1028.9 837.6h0M1063.6 842.2h0M1066.5 800.1h0M1056.4 841.1h0M1064.7 791.8h0M1047.6 743.9h0M1044.8 817.5h0M1048.5 821.1h0M1064.5 812.3h0M1040.8 828.2h0M1074.1 833.7h0M1076 817.5h0M1042.1 821.1h0M1065.5 833.9h0M1048.1 842.5h0M1038.3 822.7h0M1074.3 819.9h0M1076.8 846h0M1064.7 818.6h0M1071.2 835.8h0M1047.8 834.3h0M1016.4 816.9h0M1052.2 806.3h0M1030.5 848.6h0M1052.7 821.2h0M1038.9 777.3h0M1056.1 818.2h0M1078.3 814.7h0M1043.1 814h0M1047.2 844.7h0M1018.6 849.7h0M1025.2 831.1h0M1041.5 832.6h0M1062.7 818.5h0M1047.3 800h0M1043.6 830.1h0M1039 745.4h0M1035.5 838.7h0M1034.5 792.6h0M1065.2 794.3h0M1036 846.4h0M1037.3 804.5h0M1030.6 829.4h0M1050.7 826.2h0M1043.6 812.5h0M1060.8 809.9h0M1040.6 809h0M1048.6 801.7h0M1050 829.1h0M1079.4 822.7h0M1025.9 842.4h0M1055.8 825.6h0M1040.5 837.3h0M1074.3 845.8h0M1037.4 790.2h0M1060.6 820.2h0M1039.5 826.2h0M1028.3 769h0M1057.3 831.2h0M1046.4 837.3h0M1059.2 825.4h0M1053.5 826.7h0M1028.6 836.1h0M1045.5 810.7h0M1072.4 826.9h0M1022.3 824.8h0M1058.9 765h0M1075.4 832.7h0M1067.8 795.9h0M1056.7 810.6h0M1027.6 834.7h0M1039.4 823.7h0M1061.8 759.7h0M1050.5 848.9h0M1027.3 817.8h0M1030.6 817.8h0M1033.3 813h0M1027.1 827.9h0M1067.1 847.4h0M1056.2 812.1h0M1029.7 829.2h0M1054 811.4h0M1077.3 802.9h0M1037.8 816.4h0M1053.3 805.1h0M1063.1 818.7h0M1055.5 836.1h0M1044.5 849.6h0M1052.3 844.9h0M1049.3 848.2h0M1033.5 827.8h0M1041.6 818.1h0M1019.2 844.6h0M1030.8 832.3h0M1021.2 802.4h0M1056.8 792.5h0M1029.1 824.5h0M1038.7 814.5h0M1072 844.9h0M1076.2 845h0M1080 752.3h0M1070.8 781.7h0M1057.7 815.3h0M1066.1 801.6h0M1063.9 813.5h0M1064.8 824.7h0M1038.3 838.3h0M1027.8 839.5h0M1044.5 806.7h0M1040.2 843.5h0M1031.1 792.4h0M1020.2 843.7h0M1070 809.6h0M1073.9 776.8h0M1052.8 800.8h0M1030.9 847h0M1039.3 790.5h0M1034 758.6h0M1056.7 848.3h0M1074.3 820h0M1044.3 829.1h0M1064.7 839.9h0M1046 461.5h0M1048.3 467.8h0M1033.3 484.1h0M1049 507.4h0M1042.5 554.3h0M1040.5 559.7h0M1040.5 566h0M1048.9 598.1h0M1040.8 608.2h0M1040.5 641.6h0M1022.4 657h0M1040.5 666.3h0M1050.5 669h0M1018.1 675.7h0M1053.9 679.7h0M1048.9 690.8h0M1068.3 691.4h0M1075.9 693.4h0M1049.9 699.1h0M1063.2 701.8h0M1077.3 701.8h0M1048.2 715.8h0M1024.1 723.5h0M1034.1 726.9h0M1064.9 723.5h0M1078.3 723.5h0M1048.2 727.5h0M1073.3 729.2h0M1048.9 737.6h0M1031.5 739.2h0"/>
<path stroke="#d2691e" d="M1112.9 805.4h0M1110.5 835.5h0M1131.4 819h0M1106.9 817.2h0M1143.4 823.8h0M1093.2 804.3h0M1149.5 821.9h0M1096.2 752.2h0M1148.4 839.3h0M1113.5 750.8h0M1123 838h0M1089.1 842.7h0M1108.4 799.2h0M1110.3 774.1h0M1115.4 820.5h0M1117.9 797h0M1091.2 764.3h0M1128.1 777.6h0M1146.2 845.6h0M1118.6 835.9h0M1098.8 846.3h0M1149.3 789.5h0M1127 827.4h0M1137.5 815h0M1128.4 826.1h0M1097.7 817.1h0M1127.6 756.6h0M1143.3 833.7h0M1140.1 781.5h0M1135.8 847.6h0M1147.2 743.4h0M1144.4 813.6h0M1134.7 794.2h0M1110.9 765.8h0M1095.3 826.7h0M1118.8 835.8h0M1083.9 818.9h0M1139.6 811.9h0M1132.2 822h0M1104.3 843.8h0M1091.6 822.6h0M1113.1 826.8h0M1108.9 840.2h0M1120.5 772.2h0M1091.8 843.2h0M1129.4 820.6h0M1106.5 769.5h0M1132.3 826.3h0M1149.9 811.2h0M1125.2 827.3h0M1144.3 827.1h0M1116.9 802.6h0M1124.7 824.9h0M1127 843h0M1130.7 828.5h0M1107.7 841.2h0M1138.2 744.7h0M1145.5 815.4h0M1144.2 834.4h0M1110.8 751.1h0M1105.5 808.3h0M1092.6 844.1h0M1125.9 841.2h0M1091.1 814.9h0M1096.6 833.6h0M1143.9 845.2h0M1092.1 811.1h0M1112.1 781.4h0M1097.6 793.3h0M1146.8 843.1h0M1144.6 813.2h0M1118.1 822h0M1110.9 810.4h0M1122.5 819.5h0M1089.4 793.3h0M1101.8 818.2h0M1107.8 844.8h0M1096 820.7h0M1149.5 795h0M1114.2 845h0M1147.8 783.7h0M1104.1 832.5h0M1101.8 822.1h0M1140.3 848.3h0M1093.9 769.6h0M1109.3 819.2h0M1091.2 769.6h0M1128.6 835.7h0M1115.9 834.6h0M1114.9 821.5h0M1150.5 808.5h0M1107.3 839.1h0M1094.4 841.7h0M1093.6 838.1h0M1111.8 798.4h0M1141.2 828.6h0M1116.6 832.2h0M1133.6 825h0M1147.6 840.4h0M1135.7 794.3h0M1087.1 813.8h0M1134.7 822.4h0M1129.3 826.8h0M1119.3 795.5h0M1109 845.6h0M1127.6 822.5h0M1142.4 831.1h0M1093.4 818h0M1109.9 837h0M1129.6 774h0M1084.7 846.9h0M1093.1 812.7h0M1143.6 832.6h0M1106.9 798.9h0M1131 843.3h0M1107 793.1h0M1083.6 806.1h0M1135.8 808.9h0M1105.1 769.3h0M1115.3 832.1h0M1148.6 791.9h0M1127.9 831.8h0M1092.5 760.8h0M1112.7 828.3h0M1104.6 846.6h0M1147.4 809.6h0M1101.4 846.1h0M1093.8 825.3h0M1136.4 830.4h0M1115.1 845.2h0M1089.8 849.2h0M1105.2 816h0M1143.9 828.1h0M1090.2 802.5h0M1131.2 841.4h0M1136.3 801.2h0M1126 776.9h0M1108.4 823.6h0M1102.9 808.3h0M1095.8 833.5h0M1095.6 843.5h0M1140.3 788.1h0M1102 832.6h0M1105.8 830.3h0M1086.3 817.4h0M1141.8 797.4h0M1099.6 826.6h0M1106.4 820.7h0M1139.4 802.8h0M1102.1 841.5h0M1105.3 775.2h0M1119.2 817.9h0M1120.4 847.1h0M1132.8 850h0M1136.9 788.3h0M1126.2 830.5h0M1145.2 819.1h0M1146.2 802.3h0M1150.1 812.6h0M1146.4 817.5h0M1090.8 798.6h0M1086.8 820.4h0M1131.9 833.9h0M1103.7 832.9h0M1107.7 814.3h0M1111.6 841.1h0M1089.6 794.3h0M1123.8 826.9h0M1142 847.6h0M1132.5 825.6h0M1089.8 842h0M1151.5 811.9h0M1087.6 842.3h0M1116 838.8h0M1097.8 816.7h0M1083.5 811.8h0M1121.8 822h0M1124.9 849.8h0M1109.9 799.6h0M1125.8 823.1h0M1103.8 838.5h0M1114.6 839.3h0M1088.8 820.8h0M1131.7 847.1h0M1133 791.8h0M1115.2 821.1h0M1140.4 815.7h0M1122.7 804.6h0M1086.3 834.8h0M1129 847.1h0M1148.8 803.5h0M1150.8 841.7h0M1151.2 828.2h0M1132.4 811.4h0M1100.9 813.7h0M1091.9 834.8h0M1106.8 810.2h0M1134.7 825.1h0M1096.7 813.9h0M1084.1 800.2h0M1093.7 769.1h0M1135.8 815.2h0M1107.8 794.2h0M1090 840.4h0M1105.1 838.7h0M1137.4 830.5h0M1124.6 826.5h0M1136.4 803.8h0M1143.8 833.4h0M1102.8 794.5h0M1128.3 822.4h0M1148.2 844.3h0M1145.3 744.6h0M1125.2 844.3h0M1103.3 847.7h0M1136.4 842h0M1096.6 785.2h0M1087.9 839.3h0M1082.9 825.3h0M1088.2 755.6h0M1085.7 760.1h0M1089.6 843.3h0M1101.6 804.4h0M1107.7 849.2h0M1148.3 847.7h0M1129.9 808h0M1097.5 828.5h0M1090.1 839h0M1106 831h0M1135 830.8h0M1106.4 820.4h0M1127.1 844.9h0M1116.2 843.3h0M1123.2 842.7h0M1142.7 808.8h0M1088.8 747.8h0M1090.7 806.8h0M1127.4 760.8h0M1098.4 834.7h0M1126.8 806.1h0M1118.3 836.3h0M1122.8 762.4h0M1103.9 825.8h0M1141.3 785.4h0M1144.4 842h0M1122.3 819.2h0M1106.8 803.5h0M1130.5 773.7h0M1132.7 819.2h0M1136.1 835.4h0M1096.5 827.7h0M1137.4 820.8h0M1128 815.7h0M1109.6 819.7h0M1143.9 843.3h0M1143 832.9h0M1107.6 835.8h0M1135.6 840.4h0M1147 847.4h0M1131.1 844.8h0M1148.8 800.3h0M1124.8 840h0M1098.4 809.8h0M1121.6 844.1h0M1126 846.6h0M1082.6 808.2h0M1093.8 812.3h0M1149.8 841.7h0M1121.8 803h0M1106.1 829.3h0M1146.1 825h0M1115.7 820.5h0M1150.3 823h0M1146.3 816h0M1136.5 786.8h0M1113 828.3h0M1086.3 811.2h0M1107.9 829h0M1130 804.9h0M1138.4 814h0M1082.3 758.6h0M1114.7 847.8h0M1117 779.5h0M1138.2 815.4h0M1116.9 832.9h0M1108.1 819.4h0M1148.2 797.1h0M1143.9 791.8h0M1094.1 752.4h0M1124.2 830.3h0M1099 770.9h0M1124.7 829.8h0M1106 813.7h0M1113.6 821.2h0M1083.8 826.5h0M1113.4 849.3h0M1126.3 845.1h0M1138.3 825.2h0M1142.7 837.8h0M1141.5 839.4h0M1133.3 762.4h0M1084.3 820h0M1148 849.2h0M1104.8 796.4h0M1136.5 814.2h0M1090.5 848.6h0M1132.2 836.4h0M1148.1 832.4h0M1118.5 825.6h0M1144.3 827.8h0M1092.7 844.5h0M1094.8 837h0M1147.1 769h0M1130.1 840.5h0M1121 829.1h0M1135.1 847.9h0M1149.9 841.9h0M1114.1 803h0M1086.7 838.1h0M1102 796.4h0M1090 803h0M1144.6 845.7h0M1083.3 847h0M1145.6 804.8h0M1086.6 844.1h0M1098.8 748.7h0M1100.8 813.1h0M1095.6 837.3h0M1148.4 840.6h0M1122.6 757.7h0M1102.5 837.6h0M1093.7 848.6h0M1106.5 791.8h0M1103.2 815.1h0M1114.7 791.1h0M1104.7 789.2h0M1102.3 842.2h0M1109.8 848.4h0M1140.7 832.5h0M1132 776.7h0M1088.8 790.2h0M1101.6 844.4h0M1102 808.3h0M1131.6 808.3h0M1133 774.4h0M1093.4 507.4h0M1141.2 502.4h0M1088.3 630.6h0M1090 678.4h0M1135.8 552h0M1097.7 576.1h0M1147.5 586.4h0M1130.8 612.2h0M1141.1 623.9h0M1142.8 628.9h0M1111 648.3h0M1096.7 656.6h0M1111 664.7h0M1096.7 670.7h0M1140.1 692.4h0M1147.5 689.1h0M1118.4 699.1h0M1119.1 706.5h0M1101.7 704.1h0M1128.4 715.8h0M1135.1 717.5h0M1147.5 715.8h0M1105 715.8h0M1141.8 725.9h0M1103.4 727.5h0M1115.1 735.9h0M1144.5 737.6h0M1105 740.9h0"/>
<path stroke="#0000ff" d="M1161.6 796.7h0M1154 842h0M1159.7 824.8h0M1197 845.1h0M1159.3 822.3h0M1173 799.3h0M1156.6 827.8h0M1153.2 792.2h0M1165.5 843.9h0M1167 762.3h0M1192 809.7h0M1165.2 832.8h0M1174.8 762.8h0M1156.2 748.9h0M1199.6 785.3h0M1194 810.4h0M1192.1 823.3h0M1191.6 744.8h0M1177.8 786.5h0M1191.2 847h0M1169 849.1h0M1171.6 834.6h0M1177.2 827.7h0M1203.3 840.5h0M1162.7 842.3h0M1204.8 842.2h0M1168.9 820.6h0M1173.9 843h0M1195.2 811.3h0M1194.6 808.7h0M1174.6 834.9h0M1164.9 838.9h0M1194.7 839.5h0M1191.2 809.6h0M1169.2 839.3h0M1169.5 826.2h0M1164.2 818.5h0M1195.7 761.2h0M1158.3 849h0M1155.7 819h0M1155.1 806.1h0M1155.8 803.4h0M1165 836.1h0M1196.7 837.1h0M1164.6 811.7h0M1194.7 839.2h0M1177 803h0M1197.2 829.4h0M1153.1 796.4h0M1192 766.5h0M1155.2 828.3h0M1153.6 788.8h0M1195.2 838.6h0M1176.8 818.2h0M1205.4 818.6h0M1193.4 843.4h0M1167.6 760.7h0M1175.4 843.6h0M1155.6 815.5h0M1171.7 849.7h0M1159.8 815.6h0M1194.3 802.7h0M1193.5 822.1h0M1156.1 821.3h0M1205.4 826.5h0M1192.3 829.7h0M1161.8 789.7h0M1169.5 801.1h0M1198.8 822.6h0M1202.8 833.5h0M1162.5 819.9h0M1170.2 828.7h0M1194.3 826.3h0M1194.5 847.5h0M1175.3 848h0M1163.5 800.5h0M1158.5 842h0M1174.2 804.6h0M1192.4 816h0M1199.7 807.9h0M1174.9 838.3h0M1200.2 777.1h0M1174.9 779.7h0M1204.8 840.6h0M1168.9 843.1h0M1153.4 845.7h0M1157.6 833h0M1205.8 827.7h0M1167.6 849h0M1164.5 768.6h0M1161.1 847.3h0M1207.5 844.1h0M1173.5 432.2h0M1163 469.3h0M1194.6 623.2h0M1183.6 632.2h0M1202.7 633.9h0M1171.2 650h0M1173.6 650h0M1186.3 665.7h0M1171.2 704.1h0M1165.2 715.8h0M1156.9 729.2h0M1182.6 728.2h0M1192 730.2h0M1157.5 737.6h0M1172.6 734.2h0M1176.2 739.2h0"/>
<path stroke="#d2691e" d="M1242.4 799.6h0M1222.4 822.6h0M1227.7 844h0M1259.3 844.2h0M1211.7 797.7h0M1218.9 816.7h0M1236.5 845.5h0M1256.4 833.1h0M1244.1 848.3h0M1250.6 811.8h0M1225 777.1h0M1219.8 822.3h0M1236 811.8h0M1221.8 848.2h0M1228.8 834.3h0M1214.3 838.1h0M1257.6 820h0M1247.1 826.1h0M1256.9 814.4h0M1255.3 840.8h0M1233.4 819.9h0M1241.7 819.2h0M1238.6 842.7h0M1240.9 847.3h0M1233.3 827.1h0M1256.4 846.5h0M1238.2 848.2h0M1240.7 828.7h0M1242.7 800.4h0M1233.3 799.9h0M1243.9 846.6h0M1224.3 829.9h0M1238.8 802.5h0M1222.7 841.3h0M1235.9 839.4h0M1242.1 828.9h0M1260.7 834.5h0M1215.3 758.9h0M1247 783.7h0M1211.4 839.8h0M1230.8 812.4h0M1217.4 842.4h0M1230.1 801.3h0M1227.1 826.3h0M1220.8 833.7h0M1256.2 820.7h0M1256.2 846.4h0M1223.5 777.3h0M1246.2 821h0M1244.7 834h0M1213.5 836.6h0M1247 775.7h0M1235.1 841.4h0M1229.8 819.7h0M1234.4 814.2h0M1243.2 807.3h0M1252.2 815.2h0M1257.4 814h0M1211.8 828.6h0M1239.1 756.7h0M1255.3 845h0M1248 803.3h0M1242.6 753.3h0M1253.8 783.8h0M1241.9 811.2h0M1252.9 842.3h0M1247.5 843.3h0M1237.3 813h0M1212.6 834.7h0M1238.9 837.9h0M1215.5 783.6h0M1259.2 838.3h0M1245.6 830.7h0M1248.9 762.2h0M1242.9 803.6h0M1220.4 824.7h0M1238.4 843.1h0M1214.2 839.6h0M1256.2 830.9h0M1238.3 805.2h0M1210.5 822h0M1212.9 841.4h0M1223 798h0M1254.9 833.5h0M1245.2 817.4h0M1232 796.5h0M1222.6 782.4h0M1236.4 766.6h0M1218.6 809.3h0M1233.5 812.9h0M1257.8 845.6h0M1251.1 810.2h0M1244.1 805.3h0M1252.3 749.3h0M1231.9 831.2h0M1225.6 744.5h0M1240.6 843.8h0M1218.8 833.3h0M1249.8 767.5h0M1228.1 824.2h0M1215.7 822.1h0M1248 817h0M1241.1 849.9h0M1212.9 841h0M1224.8 831.7h0M1240.2 763.6h0M1216.7 804.1h0M1216.6 818.6h0M1253 829.2h0M1245.7 837.7h0M1211.2 831.3h0M1223 758.2h0M1243.4 817.5h0M1213.6 817.8h0M1249.2 796.6h0M1218.2 843.7h0M1228.2 810.8h0M1243.8 742.8h0M1235.8 786.8h0M1232.8 822.9h0M1245.9 756.9h0M1235.7 835.1h0M1255.9 802.1h0M1243.9 772.4h0M1219.6 812.3h0M1227.2 839.7h0M1242.8 808.4h0M1216.2 754.6h0M1229.3 847.1h0M1240.7 828.3h0M1250.8 820.5h0M1234.2 826.9h0M1226.7 848.8h0M1236.6 806.5h0M1232.1 830.7h0M1226.4 809.1h0M1237.5 806.5h0M1246.4 811.1h0M1258.4 848.8h0M1224.8 832.7h0M1256.1 816.3h0M1249.5 841.5h0M1240.6 808.5h0M1242.5 814.2h0M1214.7 845.2h0M1245.1 821.4h0M1251.5 816.3h0M1214.6 821.2h0M1237.8 846.3h0M1217.8 812.8h0M1227.6 806.5h0M1242.7 838.4h0M1242.1 793h0M1237.3 802.7h0M1220.5 792.2h0M1254.4 765h0M1243.8 824.2h0M1239.5 779h0M1251.8 823.9h0M1229 840.7h0M1239.4 780.9h0M1244.4 819.1h0M1235.5 783.4h0M1223.6 827.6h0M1259.4 780.3h0M1230.2 795.2h0M1210.6 789.1h0M1234.6 830h0M1253.1 756.6h0M1223.1 798.7h0M1239.7 820.6h0M1241.2 847.4h0M1245.7 787.2h0M1253.1 847.5h0M1216.4 837.6h0M1246.3 823.6h0M1233.1 838.8h0M1256.1 814.4h0M1245.7 825.7h0M1246.9 742.4h0M1238.8 810.7h0M1236.7 847.9h0M1251.1 845h0M1221.3 839.5h0M1239.4 460.3h0M1239.3 188.9h0M1253.1 213.4h0M1252.8 572.4h0M1223.1 629.2h0M1232.1 639.9h0M1234.8 643.3h0M1238.8 654h0M1229.4 679.1h0M1220.4 683.4h0M1213.7 689.1h0M1231.1 696.8h0M1233.7 700.8h0M1247.1 710.8h0M1254.8 714.8h0M1229.4 713.5h0M1248.8 728.2h0M1218.7 734.9h0M1229.4 738.2h0M1222 745.9h0"/>
<path stroke="#0000ff" d="M1295.3 748.2h0M1283.5 822.2h0M1294.2 823.6h0M1302 808.1h0M1291.5 841.7h0M1286.5 803.5h0M1300.6 775.6h0M1283.8 843h0M1274 839.3h0M1298.9 804.6h0M1265.2 775.9h0M1291.4 819.4h0M1280 803.9h0M1271.9 794.2h0M1303.5 823.6h0M1296.5 836h0M1288.1 815.8h0M1273.4 816.6h0M1298.8 803.2h0M1285.7 817.6h0M1274.7 808.9h0M1276.3 821.8h0M1300.5 840.1h0M1276.8 841.6h0M1274.5 774.8h0M1269.4 841.2h0M1272.9 846.9h0M1274 834.2h0M1269.5 805.8h0M1281.8 784.9h0M1294.2 818.4h0M1302.9 846.9h0M1295.3 818.9h0M1289.5 832.2h0M1303.4 790.9h0M1271.2 849.2h0M1303.5 772.3h0M1289.7 831.2h0M1287 813.6h0M1295.7 760.1h0M1287.8 829.3h0M1282.3 845.8h0M1266 815.1h0M1286.9 812.5h0M1266.2 818.5h0M1304.1 778.5h0M1302.1 825.8h0M1276.6 846.1h0M1289.3 842.6h0M1279.9 774.3h0M1287.1 749.9h0M1302.2 746.9h0M1286.2 807.2h0M1266.8 834.7h0M1302.8 812.8h0M1263.1 849h0M1300.8 817h0M1288.8 743.6h0M1267.4 845.8h0M1279.8 846.7h0M1272.3 821.7h0M1291.2 835.7h0M1281.2 786.2h0M1303.7 760.3h0M1293.7 805.3h0M1272.8 844.2h0M1289.1 754.4h0M1295.7 807.3h0M1289.6 827.5h0M1282.3 784.9h0M1286.7 839.9h0M1285.7 801.3h0M1267.8 795.9h0M1288 846.8h0M1272.6 789.6h0M1301.3 789.4h0M1294.7 825.8h0M1296.9 829.3h0M1269.1 844h0M1276.6 837h0M1293.2 842.7h0M1293.7 828.1h0M1280.2 849.6h0M1280.7 835.5h0M1288.6 827.3h0M1299.9 842.6h0M1281.5 838h0M1290.5 744.1h0M1298.5 816.2h0M1270.2 843.9h0M1298.4 783.8h0M1289.7 807.1h0M1303.5 762.2h0M1301.5 838.4h0M1272.2 837.2h0M1273.8 837.5h0M1262.8 779.8h0M1272.8 831.6h0M1290.3 804.9h0M1266.7 802.9h0M1284.2 847.9h0M1268.2 752.9h0M1285.5 752h0M1286.4 820.7h0M1266.3 842.8h0M1299.3 826.7h0M1264.5 830.3h0M1265 846.8h0M1286.8 830.9h0M1271.4 848.7h0M1298.1 790.7h0M1302.4 820.3h0M1286.4 784.8h0M1270.4 849.1h0M1297 831.1h0M1301.9 796.3h0M1288.7 832.8h0M1276.9 846.2h0M1291.6 780.8h0M1283.6 848.9h0M1291.7 845.6h0M1288.5 821.9h0M1305.6 843.2h0M1283.2 810.5h0M1287.6 793h0M1271.6 836.7h0M1279.1 820.1h0M1282.2 846.8h0M1279.8 817.3h0M1297.6 812.7h0M1284.2 830.6h0M1288.5 849.8h0M1291.1 814.3h0M1287.4 836.1h0M1278.1 807.5h0M1272.5 840.3h0M1289.4 829.2h0M1286.7 843.7h0M1278.8 810.7h0M1268.1 816.1h0M1293.8 749.9h0M1304.5 820.8h0M1282.3 845.2h0M1285.5 842.7h0M1301.3 773.1h0M1290.4 826.1h0M1291.6 794.1h0M1275.3 844.4h0M1300.4 835.7h0M1271.9 825.4h0M1293.5 799h0M1274.6 841.1h0M1301.1 798.4h0M1287.1 828.7h0M1297.1 841.3h0M1291.8 828.7h0M1292.8 809.4h0M1276.8 771h0M1294.3 821.5h0M1297 816h0M1276.4 840.8h0M1292.8 846.5h0M1301 807.5h0M1290.2 841.7h0M1269.4 786.9h0M1279.5 829.3h0M1291.3 841.6h0M1270.2 810.9h0M1300 835.9h0M1301.1 801.6h0M1292.6 832.5h0M1287.8 827.8h0M1272.7 828.7h0M1302.6 842.4h0M1298.5 803.3h0M1265.1 763.2h0M1289.3 838.9h0M1298.5 849.1h0M1303.8 839.8h0M1282.9 827.9h0M1288.5 844.7h0M1302.4 824.5h0M1291.8 824.7h0M1265.7 807.5h0M1298.7 812.2h0M1295.9 847.1h0M1292.9 798.5h0M1294.8 847.2h0M1287.8 807.3h0M1289.7 830.6h0M1292.7 800.2h0M1300.7 828.5h0M1293.7 768.8h0M1279.1 741.6h0M1301.5 829.2h0M1303.7 773.7h0M1296.6 809.3h0M1297.3 827.2h0M1271.3 819.7h0M1281.7 799h0M1288.2 813.9h0M1300.4 821.9h0M1283 834.3h0M1289.1 783.2h0M1302.7 780.8h0M1296.2 840.6h0M1302.7 809.4h0M1296.7 814h0M1290.5 787h0M1301.4 826.7h0M1300.1 752.7h0M1274 786.8h0M1284.1 771.7h0M1272.1 795.4h0M1304.8 744.5h0M1298 782.9h0M1285.2 763.8h0M1278.8 806.6h0M1292.5 815.8h0M1273.8 839.5h0M1294.3 845.3h0M1302.4 770.4h0M1284.4 834.2h0M1271.3 835h0M1266.6 844.4h0M1294.7 773.2h0M1289.7 789.9h0M1303.8 749.5h0M1286.2 822h0M1266.4 842.1h0M1280.8 815.9h0M1280.2 822.8h0M1266.6 837h0M1299.6 841.7h0M1262.3 815h0M1297 836.5h0M1303.6 849.6h0M1287.7 805.8h0M1269.1 825.7h0M1292.7 806.8h0M1288.8 841.6h0M1290.8 845.5h0M1303.7 845.9h0M1266.9 849.9h0M1305.2 798.8h0M1269.9 835.9h0M1289.9 807.3h0M1295.3 844h0M1285.7 816h0M1306 843.8h0M1279 846.7h0M1298.7 841.9h0M1291.5 808.6h0M1284.3 807.4h0M1272.4 828.2h0M1280.4 842.9h0M1304.9 831.7h0M1296.2 835.3h0M1301.6 799h0M1277.5 849h0M1280.2 798.8h0M1276.5 846.9h0M1287.9 771.9h0M1285.8 838.6h0M1289.1 846h0M1287.1 847.4h0M1283.4 779.3h0M1271.1 846h0M1304.2 772.8h0M1282.6 772.3h0M1275.7 833.6h0M1278.7 837.4h0M1273.2 825.1h0M1302.6 820.1h0M1302 834.8h0M1278.5 817.4h0M1291.6 816.6h0M1289.7 266h0M1298.3 546.3h0M1289.9 594.8h0M1284.9 633.2h0M1294.9 657.3h0M1287.2 660.7h0M1285.6 666.7h0M1297.3 668.4h0M1302.3 669h0M1286.2 673h0M1297.3 682.4h0M1285.6 692.4h0M1293.9 692.4h0M1277.9 700.8h0M1293.9 704.1h0M1273.9 710.8h0M1273.9 717.5h0M1284.6 715.8h0M1289.9 718.2h0M1302.3 726.9h0M1273.9 734.2h0M1285.6 732.5h0M1297.3 734.2h0M1268.9 735.9h0M1294.6 740.9h0"/>
<path stroke="#d2691e" d="M1338.1 764.8h0M1334.5 839.4h0M1318.7 818.6h0M1329.6 813.2h0M1305.3 797.5h0M1327.1 827.3h0M1343.8 830.5h0M1314.7 808.2h0M1316.7 771h0M1339.6 844.4h0M1342.8 834.5h0M1329.9 810.6h0M1332.4 832.9h0M1344.3 742.2h0M1345.7 840.2h0M1325 779.6h0M1317.6 805h0M1310.6 813.5h0M1304.1 840.6h0M1317 754.9h0M1329.1 818.4h0M1322.1 848.5h0M1310.8 840.1h0M1322.5 774.5h0M1329.7 796.3h0M1310.1 824.8h0M1340.3 840.3h0M1345.7 831.3h0M1311.5 752.4h0M1319.5 846.9h0M1303.5 826.4h0M1316.6 823.4h0M1325.7 847.1h0M1310.6 841.7h0M1321.2 832.8h0M1342.8 834.3h0M1303.8 769.1h0M1328.4 815.9h0M1337.2 835h0M1340.8 779.3h0M1338.2 762.8h0M1326.6 781.7h0M1331.6 843.9h0M1323.9 846.6h0M1344.7 775.2h0M1322.4 773h0M1304.8 825.4h0M1307.3 815.9h0M1314 752.8h0M1306.3 845.3h0M1341.4 809.1h0M1342.3 817.6h0M1338.1 801.4h0M1333.2 774.1h0M1307.8 830.1h0M1344.4 832.3h0M1305.9 811h0M1307.2 800.1h0M1336.7 835h0M1303.4 786.3h0M1322.4 784.5h0M1332.9 803.1h0M1303.8 794.6h0M1336 821h0M1331.2 838.1h0M1310.2 844.4h0M1304.1 796.5h0M1305.3 822.9h0M1333.3 846.2h0M1333.2 754.5h0M1303.1 837.1h0M1305.6 815.8h0M1338.7 781.3h0M1338.6 836.4h0M1326.3 829.6h0M1317.7 841h0M1340.7 825.9h0M1304 839h0M1340.6 759.4h0M1344.8 837.1h0M1327.9 785.8h0M1331.9 836.6h0M1303.2 775.7h0M1305.2 811.8h0M1309.5 842.7h0M1336.8 833h0M1304.4 846.4h0M1306.1 842.9h0M1314.8 844.4h0M1307.3 819.3h0M1306.4 821h0M1307 833.5h0M1318.4 779.2h0M1307.7 846h0M1316.6 804.4h0M1303.6 830.7h0M1342.9 847.8h0M1342.2 819.1h0M1307.4 759.7h0M1341 778.6h0M1306.2 839.1h0M1340.9 846.9h0M1315.9 798.9h0M1333.9 839.1h0M1318.2 793.4h0M1314.2 814.8h0M1331.9 823.4h0M1342.4 814.9h0M1336.9 797.2h0M1308.2 847.7h0M1328.4 839.1h0M1334.1 808.9h0M1345.6 828.6h0M1306.9 825.9h0M1321.4 836.3h0M1323.6 826.4h0M1341.9 816h0M1336.6 800.2h0M1305 807.1h0M1304.7 813.2h0M1306 840.2h0M1343.2 829.3h0M1314.3 777h0M1339.2 823.5h0M1307.2 810.7h0M1329 839.1h0M1310.7 849.4h0M1343.3 808.8h0M1338.8 797h0M1343.7 833.9h0M1311.8 836.5h0M1342.6 837.3h0M1338.6 848.1h0M1310.3 828h0M1321.9 817.5h0M1314 835.4h0M1305.8 829.3h0M1321.4 804.2h0M1331.5 809.7h0M1313.2 821.4h0M1342.7 760.3h0M1315.2 848.9h0M1337.6 845.4h0M1334.1 834.4h0M1318.4 786h0M1327.7 822.1h0M1324.6 745.5h0M1340 848.6h0M1324.6 812.2h0M1345 849h0M1304.8 794.5h0M1331.8 830.4h0M1328.5 789.1h0M1338.5 837.8h0M1318.8 829.3h0M1324.2 839.4h0M1314.7 807.6h0M1321.3 842.9h0M1306.7 782.2h0M1341 767.6h0M1303.2 815.2h0M1344.5 844.6h0M1333 812.3h0M1328.5 842.9h0M1336 813.8h0M1336.7 836.6h0M1304.3 848.9h0M1312.9 837.8h0M1343.3 828.8h0M1317.8 849.3h0M1313 816.7h0M1327.2 791.4h0M1343 843.3h0M1327.6 782.1h0M1343.8 835.1h0M1336.1 830h0M1335 778.8h0M1317.4 838h0M1342.9 817.1h0M1303.7 842.4h0M1314 812.2h0M1313.1 848.7h0M1337.8 789.8h0M1334.9 819.2h0M1337.6 814.2h0M1331.8 821.6h0M1335.5 823.5h0M1318.2 818.3h0M1338.2 802.1h0M1321.4 819.2h0M1328.2 824h0M1321.7 755.1h0M1321.9 819.1h0M1333.8 794.6h0M1331.8 824.8h0M1319.1 766.5h0M1316 846.6h0M1319.8 812.7h0M1342.1 830.1h0M1326.1 813.2h0M1323 781.2h0M1315.9 842.5h0M1304.5 800h0M1343.5 835h0M1306 822.9h0M1306 807.4h0M1337.2 832h0M1312.6 838.4h0M1341.6 807.6h0M1317.3 823.5h0M1315.2 825.6h0M1331.7 842.1h0M1318.1 827.3h0M1320.6 818.8h0M1303.5 768.1h0M1344.7 775.8h0M1310.9 824.6h0M1323.8 782.9h0M1316.4 845.6h0M1342.8 830.5h0M1310.1 846.7h0M1312.4 798.3h0M1305.6 839.4h0M1319.9 749.1h0M1322.3 809.5h0M1330.9 805.7h0M1305.6 764.8h0M1303.9 810.8h0M1317.4 841.3h0M1315.7 817.7h0M1328.8 839.1h0M1309.6 631.6h0M1303.3 646.3h0M1343.1 650h0M1337.4 662.3h0M1346.4 667.3h0M1310.6 675.7h0M1327.4 686.7h0M1314 711.5h0M1326.7 726.9h0M1344.1 727.5h0M1305.6 732.5h0M1302.3 737.6h0M1326.7 734.2h0"/>
<path stroke="#0000ff" d="M1367.4 848.3h0M1347.7 802.3h0M1375.6 850h0M1379.6 798.7h0M1370.9 812.7h0M1367.9 784.2h0M1368.6 821.6h0M1376.2 848.6h0M1370.5 780.3h0M1362.2 822.5h0M1379.7 816.8h0M1350.9 779.8h0M1354.4 823.8h0M1381.5 804.2h0M1380.7 777.1h0M1350 840h0M1367.3 821h0M1347.4 807.6h0M1353.8 783.3h0M1357.8 825.7h0M1352.7 845.8h0M1365.7 833.9h0M1378.7 823.6h0M1370.4 783.4h0M1362.2 795.1h0M1352 786.7h0M1362.3 845.3h0M1362.9 813.8h0M1353.4 846.8h0M1368.6 812.2h0M1358.3 824.1h0M1383.7 771.7h0M1380 767.5h0M1384.2 834.6h0M1363 806.7h0M1349.5 802.5h0M1384.6 820.3h0M1358.5 830.3h0M1366.7 836.4h0M1353.9 753.4h0M1380.7 798.7h0M1374.7 838.4h0M1375.9 822.7h0M1383.2 801.9h0M1371.5 826.4h0M1384 843h0M1367.4 777.4h0M1369.8 842.8h0M1376.8 798.4h0M1349.5 749.6h0M1355 830.8h0M1351.2 805.5h0M1353 837.7h0M1382.8 838.4h0M1374.9 845.5h0M1380 796.4h0M1374 835.9h0M1366.3 792.7h0M1376 839.6h0M1351.4 818.8h0M1384.2 756.7h0M1357.2 837.3h0M1351.9 846h0M1376.1 843.6h0M1369.6 826.8h0M1370.6 849.3h0M1379.2 756.4h0M1360.9 849.3h0M1382.5 808.2h0M1378.1 820.2h0M1377.5 794.8h0M1351.4 833.3h0M1375.1 837h0M1348 741.1h0M1368.7 797.2h0M1365.3 831h0M1366.5 745.9h0M1356.4 849.3h0M1382.4 814.6h0M1361.1 848.1h0M1368.3 844.5h0M1379.9 849.3h0M1354 815.1h0M1347.4 806.3h0M1369 824.2h0M1349.2 839.6h0M1357.2 804.8h0M1374.4 843.2h0M1377.4 832.5h0M1381.5 827.6h0M1362.9 810.2h0M1375.1 842.1h0M1382 841.5h0M1380.7 832.5h0M1351 834.9h0M1365.5 824.7h0M1366.2 814.7h0M1358.6 848.7h0M1364.6 833.2h0M1376.1 814.4h0M1350.7 814.2h0M1366.5 843.1h0M1383.4 816.6h0M1369.7 825h0M1353.9 809.1h0M1371.2 812.9h0M1348 840.5h0M1355.5 778.4h0M1348.4 835.8h0M1354.3 804.6h0M1380.9 811.5h0M1354.1 803.2h0M1376.1 788.6h0M1347 773.6h0M1378.2 779h0M1347.6 810.5h0M1347.9 841.1h0M1350.3 802.1h0M1378.1 840.9h0M1361.4 782.2h0M1350.9 808.3h0M1361.9 840.8h0M1378 829.1h0M1364.1 801.1h0M1352.3 807.2h0M1379.5 798.4h0M1352.9 818.6h0M1347.2 825.4h0M1363.4 805.4h0M1349.4 758.6h0M1352.8 780.9h0M1384.5 846.7h0M1355.3 773.9h0M1377.5 833.5h0M1368.5 813.6h0M1348.6 768.1h0M1349.1 849.4h0M1383.7 772.2h0M1384 807.6h0M1376.5 840.6h0M1349.9 810.8h0M1382.4 818.5h0M1364.3 836h0M1351.9 845.8h0M1354.7 827.2h0M1369.3 840.3h0M1376.9 775h0M1357.9 840.5h0M1356.2 783.4h0M1359.6 765.8h0M1372.5 817.9h0M1347.8 839.3h0M1370.8 750.3h0M1372.5 814.6h0M1348.2 827.2h0M1384.8 765.2h0M1374.5 809.3h0M1378.3 819.2h0M1384.2 792.2h0M1383.4 836h0M1354.4 804.1h0M1347.6 823.7h0M1363.6 762.8h0M1360 840.6h0M1365.9 786.9h0M1366.5 804.5h0M1365 791h0M1356 794.3h0M1377 822h0M1379.9 838.9h0M1348.9 844.7h0M1350.2 799.5h0M1379.7 841.5h0M1351.3 762.3h0M1381.5 837.6h0M1374.3 849.9h0M1372.8 807.6h0M1369.3 845h0M1363 774.6h0M1348.8 843.9h0M1366 773.3h0M1369.2 827.8h0M1355.9 815.8h0M1377.7 839.2h0M1367.4 811.4h0M1364.7 835.9h0M1367 801.4h0M1384.6 833.5h0M1360.6 840.9h0M1352.2 814.8h0M1351.1 788.9h0M1377.2 840.9h0M1366.3 833.1h0M1376.6 760h0M1369.4 848.6h0M1383.8 779.4h0M1347.4 843.1h0M1364.1 840.6h0M1354.1 845.9h0M1350.2 846.1h0M1381.7 742.9h0M1367.4 752.1h0M1373 842.8h0M1360.9 846.3h0M1351.2 812h0M1373.6 811h0M1354.1 832h0M1352.9 815.8h0M1356.7 824.5h0M1372.2 810.5h0M1351.6 816.8h0M1360.2 748.8h0M1368.9 746.3h0M1354.4 843.6h0M1368.8 841.2h0M1382.5 799.6h0M1348.8 840.5h0M1359.7 795.8h0M1358.7 848.2h0M1362.3 819.9h0M1352.2 824.7h0M1347.9 845.3h0M1347.4 837.4h0M1357.2 813.4h0M1362.9 809.8h0M1379.2 806.2h0M1372.4 763.4h0M1366.2 794h0M1357.5 751.3h0M1358.5 836.7h0M1380.3 806.3h0M1360 801.4h0M1358.4 779.3h0M1347.9 811.5h0M1379.9 839.6h0M1358.4 845.1h0M1353.5 814h0M1377.3 822.9h0M1357.7 828.5h0M1349.9 833h0M1348.6 843.2h0M1350.2 749.1h0M1353.8 842.5h0M1380.8 797.5h0M1367.5 801.7h0M1359.2 837.1h0M1364.1 766.7h0M1364.2 836h0M1377.3 817.9h0M1352.5 797.9h0M1347.4 819.5h0M1355.4 771.9h0M1352.7 847.6h0M1364.9 817.3h0M1350.3 779.6h0M1383.3 753.3h0M1383.4 836.9h0M1363.5 816.1h0M1373.5 827.1h0M1376.9 830.6h0M1361.6 817.5h0M1357.8 791.4h0M1377.3 811.8h0M1357.7 829.6h0M1382.4 840.9h0M1361.8 844h0M1376.9 843.9h0M1362.7 805.8h0M1354.5 753.4h0M1362.9 825.2h0M1361.6 827h0M1358.5 820.2h0M1350 782.2h0M1367.9 831.5h0M1367.3 805.1h0M1364.6 764.3h0M1363.3 818.7h0M1358.5 842.1h0M1365.2 849.2h0M1376 832.7h0M1365 822.7h0M1373.1 838.4h0M1376.3 798.5h0M1348.5 842.5h0M1348.9 825.1h0M1363.6 845h0M1351 778.7h0M1359.2 838.8h0M1357 846.6h0M1378.4 823.7h0M1372.8 800.2h0M1353.6 846.2h0M1380.5 819.9h0M1375.8 769.2h0M1363.7 801.5h0M1382.4 793.8h0M1355.4 823.8h0M1360.9 796.5h0M1361 787.8h0M1364.6 816.1h0M1363 847.7h0M1370.3 807.3h0M1380.4 801.5h0M1364.2 803.7h0M1368.3 749.3h0M1379.7 764.8h0M1360.4 802.9h0M1372.9 829.2h0M1379.7 795.7h0M1349.6 811h0M1350.6 793.8h0M1356 840.2h0M1348.6 809.6h0M1368.2 806.8h0M1350.3 835h0M1382.8 788.5h0M1367.8 766.2h0M1358.2 843.5h0M1359.8 817.4h0M1367.8 833.7h0M1363.4 823.5h0M1362.2 819.9h0M1352.9 827.4h0M1365.4 825.9h0M1357.5 753h0M1350.7 821.9h0M1353.2 794.9h0M1369 831h0M1357.4 841.3h0M1359 841.1h0M1358.3 828.3h0M1383.1 808.4h0M1364.3 786.6h0M1365.1 820h0M1381.3 798h0M1376.3 845.7h0M1380.2 750.6h0M1354.3 811.6h0M1361.8 770.9h0M1373.1 824h0M1360.3 826.3h0M1352.5 798.6h0M1374 795.5h0M1372.7 845.8h0M1363.1 837.8h0M1381.4 848.9h0M1364.2 810.5h0M1363 848.1h0M1379.4 806h0M1377.6 786.9h0M1355.5 776.5h0M1362.1 794.9h0M1352.7 797.9h0M1384.8 849.1h0M1350.4 794.8h0M1352.9 786.1h0M1355.5 849.6h0M1353 834.6h0M1365.8 839.7h0M1381.6 833h0M1365 820.5h0M1362.4 845.6h0M1382.7 849.7h0M1349.5 819.3h0M1354.8 819.8h0M1347.2 848.2h0M1372.9 772.2h0M1384.9 828.1h0M1356.5 838.4h0M1362.5 809.6h0M1383.3 843.7h0M1382.5 813.5h0M1356.2 809.5h0M1380 844.3h0M1359.4 849h0M1365.9 804.2h0M1352.7 843.7h0M1349.9 839.4h0M1360 784h0M1352.6 804.8h0M1369.2 834.2h0M1353.4 805.6h0M1352.8 825.5h0M1351.2 846.3h0M1381.2 839.9h0M1369.3 800.3h0M1374.3 844.8h0M1348.9 822.1h0M1383.2 805h0M1367.2 819.9h0M1369 832.7h0M1364.5 838.4h0M1368.5 583.1h0M1365.5 622.9h0M1378.5 643.9h0M1355.8 665h0M1376.8 669h0M1355.8 675.7h0M1355.8 693.1h0M1366.5 694.8h0M1374.2 695.8h0M1383.2 699.8h0M1350.8 708.1h0M1350.8 714.8h0M1365.8 717.5h0M1376.8 716.8h0M1356.5 724.2h0M1376.8 724.2h0M1378.5 732.5h0M1367.5 735.9h0M1382.5 742.6h0"/>
<path stroke="#d2691e" d="M1390.5 805h0M1390.4 846.6h0M1412.2 849.4h0M1413.7 834.5h0M1398.4 846.1h0M1421.2 797.2h0M1415.5 849.6h0M1416.8 742.7h0M1391.7 816.8h0M1399 772.6h0M1413.2 838.5h0M1410.3 755.6h0M1424 846.8h0M1393 830.5h0M1415.2 795.6h0M1386.2 838.5h0M1402.9 779.5h0M1404.7 834.6h0M1418.8 826h0M1420 792.5h0M1422.3 769.2h0M1409.8 753.9h0M1419.7 843.4h0M1406 840.6h0M1408.1 841.3h0M1394.2 835.2h0M1398.3 847.8h0M1413.6 848.9h0M1388.8 830.6h0M1393.8 840.4h0M1423.7 814.2h0M1391.5 828.6h0M1386.3 840.9h0M1404.9 803.8h0M1412.9 801.8h0M1415.1 768.7h0M1394 838.4h0M1416.4 825.5h0M1405.7 844.5h0M1401.4 769.7h0M1389.8 835.1h0M1409.8 849.6h0M1387.7 846.8h0M1403.3 813.6h0M1412.3 751.6h0M1403.8 773.4h0M1400.2 831.6h0M1391.2 830.9h0M1418.7 811.3h0M1392.4 824.8h0M1418.3 807.7h0M1392.8 789.8h0M1418.9 766.7h0M1403.5 811.9h0M1415.7 824.9h0M1400.8 841h0M1416.7 847.4h0M1407.3 819h0M1391.9 794.6h0M1392 824.3h0M1412.1 770.5h0M1413.2 795.2h0M1421.5 812.3h0M1421.1 824.3h0M1412.3 800.6h0M1406.8 769.3h0M1405.3 840.9h0M1419 819.6h0M1407.8 816.3h0M1411.5 807.9h0M1419 819.6h0M1393.3 847h0M1421.6 774.7h0M1400 823.8h0M1392.3 797.4h0M1400.5 819.2h0M1391.6 840.3h0M1387.9 804.4h0M1400.3 839.8h0M1409.2 798.7h0M1409.8 503.3h0M1405.6 551h0M1401.9 567.7h0M1405.6 571.4h0M1415 588.8h0M1411.3 667.3h0M1423.3 679.4h0M1410.9 705.8h0M1422.6 700.8h0M1395.9 727.5h0M1397.6 732.5h0"/>
<path stroke="#0000ff" d="M1437.3 821.8h0M1431.3 825h0M1425.2 807.4h0M1444.1 845.4h0M1442.9 815.8h0M1428.7 844h0M1434.6 808.1h0M1434.6 816h0M1440.6 828.4h0M1447.8 826h0M1436.3 840.7h0M1443.8 827.4h0M1435.6 810.7h0M1428.5 788.3h0M1447.3 844.8h0M1445.5 801.3h0M1426.8 833.4h0M1437.3 787.4h0M1448.8 842.7h0M1434.2 841.5h0M1442.4 813.1h0M1449.2 759.4h0M1435.3 812.8h0M1432.9 818.3h0M1435.6 840.2h0M1449.4 832.2h0M1447.6 843.4h0M1437.6 846.6h0M1448.8 798.7h0M1427.7 791.7h0M1434.1 837.5h0M1440.3 847.5h0M1448.3 803.1h0M1427.9 799.4h0M1429.2 755.1h0M1443.1 832.4h0M1435 814.3h0M1450 843.7h0M1435.9 817.8h0M1438.7 832.7h0M1438.7 842.7h0M1440.4 826.2h0M1451 800.4h0M1436.9 808.1h0M1425.7 813h0M1450.3 838.1h0M1427.4 797.7h0M1449.4 848h0M1450.5 782.8h0M1426.8 813.7h0M1439.6 806h0M1446.2 828.2h0M1429.5 832.7h0M1440.6 801.7h0M1439.4 804h0M1443 796.9h0M1445.8 780.1h0M1449.1 839h0M1450.6 834.7h0M1431.4 844.2h0M1430 799.4h0M1438.4 843.9h0M1450.1 762.3h0M1430.9 803.9h0M1450.8 819h0M1437.6 818.3h0M1431.4 817h0M1430.5 812.7h0M1449.7 847.6h0M1449.9 827.1h0M1433.5 794.5h0M1446.8 803.3h0M1433 841.1h0M1440.7 775.3h0M1439.3 829h0M1435.1 840.6h0M1438.7 838h0M1440.5 837h0M1444.4 821.9h0M1429.8 834h0M1435.7 803.8h0M1442.6 753h0M1441.4 817.9h0M1450 808.3h0M1447.5 847.4h0M1448.6 836.9h0M1450.5 827.4h0M1432.6 837.6h0M1450.2 786.7h0M1431.8 793.1h0M1428.6 806.3h0M1429.3 843.8h0M1445.1 826.3h0M1438.1 838.4h0M1434.5 835h0M1436.4 792.7h0M1440.3 834.9h0M1425.5 849.3h0M1441.6 846.4h0M1443.2 835.1h0M1428.2 814.4h0M1425.6 792.2h0M1439.8 784.7h0M1446.4 812.5h0M1437.5 779.7h0M1446.8 793.9h0M1430.1 848.8h0M1425.3 828.1h0M1450.9 838.4h0M1447.3 809h0M1442.7 809.7h0M1449.5 843.6h0M1433.8 823.8h0M1434.1 806.8h0M1441.2 762.2h0M1428.4 835.8h0M1435 788.5h0M1443.5 782.7h0M1433.2 791.1h0M1446.6 812.7h0M1430.9 834.3h0M1440.6 761.2h0M1431.5 820.2h0M1449.8 769.7h0M1440.3 814.2h0M1445.7 839.9h0M1447.2 819.7h0M1437.3 816.7h0M1445.2 751.7h0M1425.6 797.3h0M1435.9 817.1h0M1445.2 836h0M1439.2 811.6h0M1436.3 753.4h0M1433.9 803.3h0M1447.7 827.9h0M1436.5 809.6h0M1447.7 816.8h0M1442.3 818h0M1444.2 836.7h0M1448.3 808.6h0M1449.6 847.9h0M1434.9 835.1h0M1430.4 801h0M1427.3 797.2h0M1441 823.9h0M1428.6 799.1h0M1448.6 832h0M1435.3 824.2h0M1432.9 837.8h0M1450.1 832.9h0M1428.2 838.2h0M1430 770.7h0M1450.6 797.4h0M1434.9 849.8h0M1425.4 799.9h0M1427.3 804.6h0M1443.3 785.8h0M1426.5 774.4h0M1449.9 830.9h0M1434.4 765.9h0M1439.8 773.7h0M1448.4 808.2h0M1447.3 791.3h0M1442.1 849.6h0M1435.6 842.1h0M1444.7 802.1h0M1450.2 835.7h0M1432.9 798.6h0M1435.1 752.7h0M1445.9 838.5h0M1427.7 824.2h0M1444.4 827.7h0M1442.9 767.7h0M1430.3 812.8h0M1427.5 847.2h0M1442.9 822.8h0M1442.1 802.1h0M1448.5 839.2h0M1448.9 785.9h0M1446.3 751.3h0M1449 813.7h0M1440.1 822.3h0M1434.3 836.6h0M1442.2 785.3h0M1446.1 843.7h0M1439.7 831.3h0M1447.5 792.8h0M1428.5 770.9h0M1432 819.1h0M1432.1 832.3h0M1433.1 847.8h0M1437.3 820.7h0M1438.6 815.1h0M1441.9 843h0M1430.4 844.9h0M1441.7 816.6h0M1439.5 815.5h0M1431.1 774.2h0M1425.1 802.2h0M1443.8 829.3h0M1428.2 829h0M1449.1 848h0M1444.8 849.8h0M1426.2 800.7h0M1428.7 842.5h0M1425.6 820.8h0M1432.7 840h0M1434.7 827.7h0M1449.3 812.5h0M1439.9 791.6h0M1425.9 816.5h0M1447 844.7h0M1443.9 838.7h0M1445.6 823.5h0M1443 771.1h0M1440.6 776.2h0M1433.3 820.1h0M1427.2 831h0M1425.2 804.7h0M1439.1 837.7h0M1434.8 808.4h0M1440 843.1h0M1442.4 827.8h0M1437.4 828.2h0M1427.4 768.5h0M1450.4 830.6h0M1427 827.1h0M1433.6 815.2h0M1443.3 848h0M1439.8 834.6h0M1430.5 828.4h0M1446.2 825.2h0M1448.9 847.6h0M1442.9 803.3h0M1430.5 831.4h0M1431.3 764.9h0M1448.5 841.6h0M1444.3 846.3h0M1441.5 786.5h0M1434.2 836.2h0M1434.1 818.6h0M1426.9 848.7h0M1448.4 833.3h0M1446.5 808.6h0M1440.6 806.8h0M1446.5 839.4h0M1427.6 819.8h0M1450.3 810.7h0M1429.6 847.9h0M1436.9 839h0M1443.4 831h0M1450.5 756.3h0M1450.6 759.1h0M1444 807.2h0M1440.1 823.6h0M1437.2 759.1h0M1440.7 849.2h0M1431 825.5h0M1441.2 842h0M1444.5 792.8h0M1430.3 841.2h0M1431.3 829h0M1428.3 777.8h0M1446.8 790.1h0M1448 840.8h0M1440.6 838.7h0M1449.3 818h0M1442 780.8h0M1442.6 808h0M1442.9 781.7h0M1445.9 841.5h0M1431.2 844h0M1436.7 823.7h0M1435 801h0M1443.3 795.8h0M1445.5 844.9h0M1441.4 813.4h0M1436.8 816.9h0M1447.4 793.2h0M1428 839.4h0M1450.8 814.5h0M1433.7 839.2h0M1429.4 846.9h0M1438.1 798.4h0M1449.1 847.6h0M1450.5 821.6h0M1425.4 769.7h0M1426.4 848.6h0M1441 845.9h0M1443 809h0M1436.5 844.7h0M1448.7 785.6h0M1444.9 767.6h0M1425.6 826.4h0M1440.5 789.1h0M1446.2 824.5h0M1438.4 801.7h0M1435.8 815h0M1434.6 788h0M1447.4 834.8h0M1447.6 807.7h0M1436.4 828.5h0M1441.2 841.6h0M1430.4 841.2h0M1428.5 846.5h0M1446.7 816.1h0M1427 843.3h0M1426.9 843.8h0M1443.5 825.3h0M1429 846.2h0M1438.4 842.5h0M1450.1 841.9h0M1427 825.1h0M1450.7 783.4h0M1444.6 824.2h0M1438.8 839.9h0M1440.2 764.8h0M1445.3 757.1h0M1427.7 838.3h0M1437.9 747.2h0M1447.4 813.1h0M1445.3 808.1h0M1441.4 847.1h0M1446.2 803.8h0M1426 816.6h0M1447.1 849.4h0M1433.8 829h0M1439.8 754.3h0M1435.6 829.7h0M1448.5 801.2h0M1444.8 835.1h0M1429.2 822.8h0M1437.6 808.6h0M1450.1 828h0M1446.5 776.1h0M1437.9 821.5h0M1450.4 841.9h0M1433.6 820h0M1448.3 773.9h0M1437.5 825.7h0M1426 826.8h0M1449.8 833.3h0M1446.9 781.5h0M1448.9 844.6h0M1430.3 825.2h0M1432 687.4h0M1452.1 688.4h0M1432.7 702.5h0M1442.7 702.5h0M1435.4 709.1h0M1427.7 716.8h0M1445.4 719.2h0M1442.7 727.5h0M1432.7 735.9h0M1427.7 744.2h0"/>
<path stroke="#d2691e" d="M1479.1 822h0M1473.1 833.2h0M1467 842.2h0M1472.9 828.7h0M1459.6 815.4h0M1473.3 824.1h0M1478.5 838.2h0M1477.9 838.2h0M1465 819.6h0M1458.8 820.5h0M1463.8 810h0M1452.3 792.1h0M1486.7 843.6h0M1468.7 822.4h0M1466.5 808.6h0M1480.2 840.6h0M1479.9 830.6h0M1454.6 834.7h0M1472 843.2h0M1468.7 844.9h0M1466.8 777.8h0M1478.8 819.1h0M1476.4 818.8h0M1455.1 833h0M1475.9 835.3h0M1473.1 835.6h0M1469.8 845.6h0M1486.1 801.5h0M1468.6 822.9h0M1474.5 788.4h0M1456.3 819.3h0M1457 835.8h0M1454.7 781.4h0M1487.4 831.7h0M1482.2 828.2h0M1481.8 838.3h0M1465.5 808.6h0M1482.6 819h0M1474.8 814.5h0M1453.1 812.5h0M1464 810h0M1483.5 811.2h0M1452 833.4h0M1470.5 845.2h0M1479.1 834.6h0M1481.4 836.6h0M1458.7 849.6h0M1471.5 810.1h0M1470.5 826.1h0M1462 777.1h0M1465.1 828.9h0M1469.3 822.4h0M1457.4 839.3h0M1479.3 746h0M1467.3 835.5h0M1471.7 815.6h0M1463.3 830.3h0M1467.5 811.2h0M1465 774.2h0M1484.7 767.9h0M1460.1 831.2h0M1488.2 833.5h0M1464.6 845.7h0M1468.3 840.5h0M1469.8 821.6h0M1477.8 803h0M1472.5 835.1h0M1488.4 815.6h0M1473.7 847.6h0M1477.9 763.1h0M1467.1 848.9h0M1473.5 822.7h0M1481.7 816.7h0M1464.5 805.9h0M1487 831.3h0M1462.2 806.7h0M1453.4 821.3h0M1472.9 823.8h0M1456.5 785.2h0M1468.3 815.5h0M1468.2 847.8h0M1478 785.4h0M1487.5 791.7h0M1460.4 848.8h0M1476.5 803.1h0M1476.3 786.3h0M1455.8 807.9h0M1475.5 844.5h0M1465.8 845.2h0M1469.3 767.2h0M1453.6 834.4h0M1484.7 840.6h0M1457.5 844.6h0M1481.2 800.1h0M1459 760.4h0M1464.4 784.1h0M1463.3 787.3h0M1481.3 845.2h0M1471.5 784.8h0M1463 788.1h0M1468.5 825.6h0M1465.6 840.3h0M1469.4 847.7h0M1483.1 833.5h0M1464.3 810h0M1478.1 845.4h0M1469 838.6h0M1471.8 839.4h0M1484.3 831.4h0M1461.4 808.5h0M1452.4 820.9h0M1481.9 831.7h0M1473.8 842.6h0M1466.9 794.1h0M1466 807.9h0M1467.5 822.7h0M1454.1 842.4h0M1468 745.3h0M1474.5 827.9h0M1461.6 841.3h0M1475.3 824.3h0M1456.6 837h0M1483.4 796h0M1469.2 823.8h0M1452.5 836.9h0M1468.2 844.4h0M1455.7 833.3h0M1479.5 846.4h0M1478.3 817h0M1483.4 803.1h0M1488.9 838.9h0M1461.6 801.7h0M1474.6 809.6h0M1484.2 838.7h0M1467.6 780.1h0M1460.6 833.3h0M1470.6 796.5h0M1453.4 791.9h0M1455.9 804.1h0M1479.5 831.5h0M1469.7 793.8h0M1453 825.6h0M1488 849h0M1462 845.8h0M1466.9 824h0M1464.1 830.5h0M1462.2 779.5h0M1460.1 812.6h0M1460.1 846h0M1480.9 789.4h0M1468.2 849.6h0M1488 826.1h0M1461.9 836.3h0M1457.8 845.2h0M1475.2 416.1h0M1475.2 460.2h0M1481.8 572.7h0M1469.8 603.8h0M1468.5 629.6h0M1481.8 629.9h0M1469.8 649.6h0M1466.8 659.7h0M1481.8 674h0M1452.7 705.8h0M1451.1 724.2h0M1459.4 725.9h0M1467.8 724.9h0M1476.1 722.5h0M1481.8 742.6h0"/>
<path stroke="#0000ff" d="M1498.3 831h0M1501.5 845.9h0M1501.5 841.3h0M1495.9 838h0M1505.4 774.6h0M1507.6 821.6h0M1501.2 802.4h0M1505.5 802h0M1503.4 831.9h0M1493.9 822.4h0M1502.7 817.6h0M1503.4 849.7h0M1497.7 841h0M1496.9 752.9h0M1494.2 794.9h0M1499.3 824.9h0M1495.2 824.7h0M1504.5 835.8h0M1493.1 812.7h0M1504.1 847.2h0M1501 802.7h0M1493 815.8h0M1495.9 817.9h0M1496.4 818h0M1493.5 812.4h0M1506.7 829.1h0M1503.4 828.9h0M1501.1 804.4h0M1498.6 848.2h0M1498.7 833.6h0M1493.3 845h0M1500.4 834.7h0M1503.3 759.8h0M1493.1 845.3h0M1503.4 847.5h0M1501.5 834.9h0M1503.3 846.9h0M1501.4 828.6h0M1493.3 846.6h0M1505.7 810h0M1507.8 823.3h0M1495.8 819.2h0M1496.7 837.3h0M1498.7 790.8h0M1504.5 821.2h0M1504.6 801.6h0M1495.8 833h0M1495.4 808h0M1507.9 804.4h0M1504.8 797.4h0M1498 843.8h0M1507 829.6h0M1506.8 812.1h0M1498.7 755.4h0M1501 744.3h0M1499.9 801.5h0M1498.1 837h0M1504.6 679.1h0M1504.6 685.7h0M1505.6 695.8h0M1505.2 707.5h0M1490.5 716.5h0"/>
<path stroke="#d2691e" d="M1515.3 820.2h0M1525.8 812.3h0M1513.3 849h0M1514.2 747.2h0M1519 845.5h0M1523.8 838.6h0M1525.7 814.7h0M1516.7 816.3h0M1525.2 815.8h0M1522.2 839.7h0M1514.4 791.7h0M1530.5 829.1h0M1513.8 841h0M1513.8 847.8h0M1518.2 824.4h0M1515.5 817.3h0M1512.7 838h0M1531 815.2h0M1518.8 813.8h0M1518.8 777.3h0M1525.6 844.3h0M1518.4 803.8h0M1516.9 828.8h0M1528.9 820.1h0M1516.8 843.6h0M1515.4 778.3h0M1532 831.9h0M1530.8 821.8h0M1520.9 848h0M1523.4 838.1h0M1517.2 846.5h0M1518.7 818.2h0M1517.6 779.6h0M1526.8 832.9h0M1513 821.1h0M1530.3 830.1h0M1527.7 841.2h0M1521.3 788.7h0M1524.7 839.3h0M1514.1 804.3h0M1514.3 825.3h0M1527.2 817.9h0M1512.4 823.8h0M1527.6 816.8h0M1515.5 801.3h0M1527.4 805.1h0M1511.7 841.3h0M1511.6 778.3h0M1515.2 840.9h0M1513.9 830.1h0M1521.3 779.7h0M1526 748.4h0M1527.6 812.9h0M1523.2 820.9h0M1511.6 833.6h0M1522.3 808.8h0M1521.7 825.8h0M1525.9 832h0M1514 783.8h0M1526 793.8h0M1512.2 761.8h0M1520.2 833.3h0M1514.8 795.9h0M1523.2 811.6h0M1524.8 843.5h0M1517.8 848.7h0M1526.5 846.4h0M1521.4 774.3h0M1527 789.4h0M1517.3 783.9h0M1518.9 802.2h0M1515.1 815.2h0M1530.2 817.3h0M1511.5 845.4h0M1530.4 830.6h0M1517.8 838.7h0M1528.1 794.2h0M1514.6 814.3h0M1514.1 829.8h0M1522.5 826.1h0M1518.8 804.6h0M1525.6 792.6h0M1512.5 792.5h0M1515.5 781h0M1515.2 845.5h0M1530.9 785.7h0M1523.8 807.3h0M1517.3 842.2h0M1517.1 840.1h0M1513.3 785.1h0M1514.8 805.1h0M1521 792.3h0M1525.4 833h0M1514.1 804.2h0M1531.2 783.9h0M1525.2 801.4h0M1520.2 840h0M1516 792.8h0M1512.1 842.1h0M1526.2 824.2h0M1529.4 834.4h0M1518.5 848.5h0M1518.2 843.1h0M1529.3 838.9h0M1515.1 815.5h0M1526.3 820.9h0M1529.7 762.3h0M1522.1 791.2h0M1525.2 843.6h0M1518.4 823.2h0M1526.2 816h0M1529.7 834.7h0M1527 808.4h0M1516.1 810.6h0M1528.4 842h0M1512.3 799.8h0M1531 814.1h0M1516.2 752.1h0M1513.8 814.3h0M1522.5 838.4h0M1519.7 796.1h0M1522.4 784.6h0M1531.4 848.1h0M1527.7 820h0M1531.3 843.2h0M1524.7 833h0M1516.8 775.3h0M1529.1 773h0M1514.9 847.8h0M1515 844.7h0M1522.5 823.6h0M1526.1 788.9h0M1530.6 845.1h0M1526.6 817.2h0M1515.8 831.5h0M1511.3 847.7h0M1522.5 834h0M1525.6 287.1h0M1525.3 442.7h0M1514.6 602.5h0M1529.6 626.2h0M1516.9 638.6h0M1529.6 650.6h0M1525.3 659h0M1526.3 687.4h0M1528 690.1h0M1524.6 705.8h0M1529.6 705.8h0M1529.6 720.8h0M1527.3 729.2h0M1514.6 750.9h0M1521.3 745.9h0"/>
</g>
<g clip-path="url(#cb)" fill="none" stroke-linecap="round" stroke-width="11.0">
<path stroke="#0000ff" d="M159.4 1757.8h0M243.2 1739.3h0M183.4 1743.9h0M261.7 1756.7h0M241.9 1748h0M170.8 1746.6h0M167.7 1744.2h0M194.6 1741.5h0M185.8 1753.4h0M198 1745.4h0M200.2 1714.6h0M239.1 1747.4h0M200.1 1733.4h0M203.7 1754.8h0M190.2 1740h0M259.3 1738.6h0M242.7 1744.1h0M173.2 1728.4h0M162 1757.6h0M190 1751h0M233.6 1741.7h0M261.2 1759.1h0M232.9 1751.8h0M197.5 1752.1h0M192.2 1757.8h0M236 1726.3h0M154.8 1740.2h0M225.8 1732h0M190.5 1733h0M196 1758.1h0M261.3 1743h0M155.4 1725.8h0M202.9 1751h0M220 1726.5h0M261.4 1743.2h0M151.3 1717.9h0M231.1 1753.3h0M157.4 1727.8h0M263.1 1747.7h0M156.2 1746.5h0M164.5 1698.3h0M257 1751.4h0M215.7 1755.1h0M219 1751.2h0M261.2 1743.4h0M258.9 1752.2h0M171.8 1711.5h0M190.9 1750.2h0M152.4 1750.6h0M236.1 1731.9h0M150.7 1754.4h0M239.9 1700.3h0M186.6 1716.2h0M237.5 1741.3h0M258.5 1738.7h0M187 1741.2h0M188.7 1742.8h0M174.4 1754.3h0M177.7 1706.3h0M184.5 1710h0M161.4 1752.9h0M153.6 1739.2h0M200.9 1742.4h0M194.1 1719.6h0M232.3 1732.4h0M216.7 1727.1h0M198.4 1710.1h0M192.9 1760.2h0M191.7 1746h0M182.1 1747.5h0M170.3 1702.3h0M172.6 1714.5h0M233.6 1758.7h0M204.2 1720.3h0M151 1754.3h0M176.8 1751.4h0M188.5 1708.8h0M225.3 1759.9h0M246.5 1760.3h0M215.3 1758.2h0M187.6 1729.3h0M184.7 1746.1h0M258.6 1754.4h0M197.2 1753.3h0M154 1743.4h0M241.4 1703h0M154.9 1713.9h0M256.2 1743.8h0M247.7 1750.2h0M170.2 1726.2h0M189.5 1725.9h0M222.7 1704.8h0M201.1 1747.5h0M235.3 1746.1h0M185 1739.2h0M156.6 1740.3h0M160.5 1722h0M194.6 1748.9h0M228 1754.5h0M182.5 1720.7h0M263.9 1750.7h0M174.9 1752.9h0M189 1759.1h0M157.1 1715.6h0M175.5 1758.9h0M190 1742.5h0M246.7 1755.2h0M257.1 1743.4h0M245.4 1723.5h0M185.8 1745.5h0M230.5 1728h0M207.9 1734.8h0M198.8 1755.9h0M153.7 1737.5h0M171.3 1745.5h0M178.3 1756.4h0M251.7 1757.8h0M202.1 1703.1h0M201.3 1748.6h0M182.8 1754.7h0M153.1 1730.5h0M201.8 1742.1h0M186.6 1756.8h0M202.2 1744.5h0M179.9 1731.5h0M262.1 1735.2h0M193.3 1749.3h0M156.6 1741.1h0M219.4 1739.8h0M150.3 1757.1h0M236.5 1757.9h0M201.6 1759.1h0M185.9 1724.6h0M250.7 1737.6h0M258.4 1750.4h0M218.1 1743h0M155.9 1750.7h0M194.4 1728.5h0M252 1742.5h0M200.1 1757.1h0M186.6 1759.4h0M233.9 1723.7h0M198.5 1704.6h0M223.6 1747.1h0M253.6 1741.6h0M181.6 1751.9h0M176.2 1740h0M174.8 1748.2h0M172.7 1750.4h0M188.2 1755.6h0M154.6 1715.4h0M192.7 1751h0M160.6 1731.2h0M178.7 1728.8h0M181 1753h0M167.2 1722.2h0M203.1 1743.6h0M175.9 1744.9h0M156.3 1741.5h0M236.8 1750.9h0M161.5 1753.4h0M258.3 1759.1h0M202.4 1744.1h0M234.7 1730.2h0M187.5 1750.9h0M186.6 1750.9h0M148.2 1745h0M226.6 1754h0M252.4 1726.1h0M175.2 1741.7h0M188.6 1749.6h0M152.6 1750.1h0M200.8 1742.9h0M256.4 1743h0M240.9 1760.2h0M256.4 1747.8h0M164.9 1728.7h0M170.3 1752.1h0M220.9 1735.5h0M230.9 1736.1h0M155.7 1750.4h0M260.4 1709.1h0M259.5 1726.9h0M228.8 1754.3h0M193 1731.4h0M208 1746.5h0M150.2 1723.9h0M154.9 1748.5h0M186.3 1706.4h0M231.5 1735.1h0M170.3 1711.8h0M184.2 1760.1h0M263.2 1721.8h0M231.6 1758.6h0M253.7 1748.8h0M262 1751.3h0M188 1740.9h0M173.2 1739.2h0M237.8 1753.3h0M207.7 1740.6h0M224.9 1737.4h0M235.8 1749.3h0M246.6 1755.7h0M246.4 1733.8h0M188 1711.3h0M243.7 1744.3h0M248.7 1746.9h0M197.3 1714h0M188.5 1737.1h0M189.7 1717.2h0M199.4 1719.7h0M190.7 1744.3h0M251.7 1751.5h0M190.4 1755.5h0M257.6 1749.6h0M156 1750.5h0M215.3 1753.1h0M200.3 1748.6h0M227.1 1754.6h0M148.6 1729.9h0M224.2 1741h0M224.6 1721.4h0M222.2 1750.1h0M178.8 1730.9h0M262.9 1738.6h0M235.2 1734.9h0M243.9 1721.6h0M163.5 1748.6h0M247.4 1747.4h0M169.6 1720.5h0M189.3 1756.7h0M225.2 1741.4h0M248.8 1729.4h0M152 1729.8h0M195.2 1760.2h0M191.1 1748.5h0M178 1729.8h0M183.6 1708.1h0M231.8 1754.8h0M198 1729.8h0M241.3 1749h0M230.1 1756.1h0M179.6 1739.4h0M225.7 1760.1h0M195.6 1743.1h0M191.3 1726.3h0M174.2 1743.3h0M188.4 1722.6h0M245.4 1737.4h0M186.4 1744.1h0M234.8 1753.2h0M219.9 1723.6h0M259.7 1741h0M217.7 1744.1h0M152.2 1750.2h0M207.9 1752.9h0M188.2 1727.6h0M173.2 1759.6h0M154 1758.7h0M152.4 1759.2h0M166.9 1738.9h0M154.9 1746.1h0M199.3 1752.7h0M229.6 1731.9h0M161.2 1757.7h0M158 1759.3h0M205.6 1760.3h0M225 1751h0M167.9 1755h0M257.6 1754.3h0M173.4 1734.2h0M184.3 1748.7h0M228 1748.8h0M185.8 1742.8h0M246.8 1739.7h0M233.9 1738.7h0M195.3 1756.9h0M224.5 1732.3h0M184.3 1759.7h0M190.7 1715.7h0M245.7 1752.6h0M215.2 1739.1h0M194.1 1751.7h0M156.4 1718.5h0M197.5 1721.4h0M194.7 1754.3h0M259.5 1752.7h0M259.6 1755.8h0M162.4 1728.6h0M150.2 1748.5h0M262 1748.3h0M179 1751.3h0M166 1727.4h0M229 1748.9h0M183.6 1750.9h0M234.8 1756.6h0M187.5 1759.5h0M218.6 1752.6h0M239.1 1758.1h0M258.8 1755.4h0M233.4 1743.1h0M189.9 1753.5h0M255.7 1741.8h0M226.8 1717h0M150.9 1705.8h0M185.6 1754.9h0M157.9 1698.5h0M193.4 1756.2h0M216.2 1730.5h0M191.3 1757.9h0M153.9 1758h0M234.7 1743.7h0M256.4 1752.3h0M177.5 1757h0M202.8 1737.7h0M180 1729.9h0M238.1 1732.3h0M259.8 1717.3h0M219.9 1754.7h0M189.2 1740.1h0M240 1709.5h0M165.5 1740.1h0M192.6 1733.7h0M223.7 1738.3h0M151.4 1724h0M174 1754.1h0M187.5 1759.1h0M202.7 1745.8h0M190.4 1724.4h0M259.8 1744.9h0M160.7 1743.4h0M254.7 1730.9h0M157.1 1752.2h0M205.1 1718h0M233.6 1753.6h0M149.5 1750.7h0M262.7 1748.9h0M162 1741.4h0M174.8 1743.4h0M262.1 1741.4h0M229.6 1736.5h0M153.8 1741.4h0M190.2 1743.7h0M177 1757.1h0M163.4 1753.6h0M155.8 1756.4h0M188.9 1723.9h0M193.4 1741.3h0M244.4 1747.1h0M244.6 1726.3h0M162.1 1759.8h0M159.8 1758h0M156.3 1754.2h0M207.7 1740.8h0M177 1731.5h0M257.1 1743h0M235.9 1746.2h0M221 1755.6h0M243.7 1743.2h0M201.5 1748h0M176.1 1751.6h0M158.8 1738.3h0M234.3 1746.5h0M255.3 1736.5h0M223.7 1730.9h0M172.6 1752h0M205.7 1731.8h0M257.2 1719.5h0M216.9 1741.3h0M222.6 1754.8h0M179.9 1750.2h0M176.5 1740h0M198.4 1755.1h0M186.5 1733.7h0M158.1 1734.9h0M200.5 1748.5h0M195.1 1707.3h0M196.4 1759.7h0M153 1755.3h0M171.1 1732.5h0M148.6 1758.7h0M205.9 1741.5h0M154.6 1757.2h0M241.9 1759.1h0M225.3 1747.4h0M153.9 1730h0M191.1 1759.6h0M257.9 1757.6h0M197.4 1710.6h0M199.1 1705.6h0M244.5 1751h0M234 1743.3h0M197.6 1724.7h0M227.4 1757.4h0M219.2 1758.6h0M179.2 1753.9h0M154 1752.9h0M154.7 1750.3h0M148.2 1744.4h0M246.2 1741.8h0M197.8 1740.9h0M202.8 1743.6h0M155.4 1736.7h0M162.3 1741.8h0M165.2 1757.1h0M231.2 1736.4h0M196 1757.5h0M190.8 1743h0M181.4 1090.1h0M231.5 1461.9h0M179.1 1544.5h0M234 1623.4h0M256 1624.1h0M163.8 1643.1h0M166.5 1650.1h0M193.2 1647.7h0M187.2 1657.4h0M217.7 1655.8h0M157.8 1664.1h0M227.3 1669.5h0M239.7 1671.5h0M246.4 1672.5h0M256.4 1676.8h0M264.1 1678.5h0M157.1 1676.5h0M165.5 1676.5h0M179.5 1674.8h0M184.9 1677.5h0M170.5 1688.5h0M176.5 1688.5h0M198.9 1686.9h0M219.7 1686.5h0M201.6 1694.2h0M220.7 1694.9h0M233 1694.2h0M239.7 1694.9h0M265.8 1694.9h0M149.4 1700.9h0M232 1640.1h0"/>
<path stroke="#d2691e" d="M344.3 1731.8h0M333 1729.1h0M303.9 1744.6h0M366.6 1726.8h0M284 1747.3h0M353.5 1742.3h0M354.8 1743.7h0M308.7 1734.3h0M310.6 1752.5h0M306 1734.1h0M381.4 1756.5h0M269.4 1753.6h0M305.8 1700.8h0M379.5 1731.4h0M348.7 1746.7h0M268.2 1758.3h0M325.3 1749.7h0M351.3 1753h0M372.6 1759.2h0M331.9 1748.8h0M311.2 1754.3h0M352.2 1737.6h0M293 1759.5h0M331.9 1727.9h0M333.1 1710.7h0M287.8 1724.3h0M292.2 1740.1h0M348.7 1757h0M339.2 1733.7h0M318.1 1747.3h0M270.5 1733.4h0M377.7 1700.5h0M367.9 1719h0M319.7 1738.3h0M365.2 1723.6h0M279 1731.6h0M307.1 1734h0M308 1703h0M335.2 1756.3h0M363.2 1753h0M348.4 1728.3h0M300.3 1698.2h0M353.8 1699.8h0M379 1757.6h0M319.7 1700.8h0M355 1754.9h0M308 1715.1h0M327.9 1744.1h0M318.7 1749.7h0M374.2 1756.4h0M266.7 1749.8h0M345.9 1735.4h0M284.7 1720.5h0M320.7 1753.3h0M267.8 1721.4h0M323.1 1735.7h0M339.7 1751.8h0M322.4 1717.2h0M323.7 1740.2h0M338.9 1735.9h0M294.5 1736.9h0M357.7 1729.6h0M275.9 1719h0M276.8 1748.1h0M357.1 1758.7h0M324.7 1753.9h0M326.6 1756.5h0M298.8 1742.9h0M381.4 1758.8h0M305.9 1756.5h0M356 1731.5h0M338.9 1750.4h0M337.7 1726.3h0M377.1 1729.7h0M367.6 1745.5h0M322.6 1758.3h0M322.2 1758.3h0M322.3 1756.8h0M355.1 1750.6h0M350.8 1755.4h0M368.4 1755.8h0M325.3 1754h0M275.3 1753.4h0M294 1755.3h0M274.3 1721.4h0M286.6 1744.3h0M380.5 1719.8h0M329.2 1722.6h0M353 1739.9h0M266.7 1752.8h0M279.7 1737.8h0M318.1 1738.3h0M351 1758.4h0M284 1735.9h0M324.8 1731.4h0M294.7 1737.1h0M339.9 1742.3h0M280.3 1708.5h0M367.7 1746.7h0M267 1710.9h0M375.2 1750h0M312.7 1718.4h0M287.5 1718.5h0M291.1 1752.2h0M311 1736.6h0M345.7 1731.4h0M276.9 1717h0M332.2 1747h0M355.9 1751.7h0M301 1742.9h0M329 1751.5h0M280.6 1750.2h0M379.7 1721.8h0M309.9 1713.3h0M341.7 1743.6h0M379.4 1746.3h0M341 1747.4h0M282.4 1750h0M356.8 1741.7h0M315.2 1725.3h0M330.2 1747.3h0M305.9 1732.7h0M326.9 1741.8h0M363.2 1755.9h0M354.1 1736.1h0M311.9 1757.3h0M362.3 1745.5h0M281.7 1742.3h0M283.5 1731.9h0M355.2 1741.4h0M381.7 1757.6h0M309.1 1716.9h0M364.4 1736h0M279.7 1754.4h0M282.3 1722.5h0M298.8 1732.1h0M293.3 1701.9h0M323 1754.8h0M286.2 1747.4h0M310.8 1742.7h0M274.2 1758.1h0M313.6 1758.3h0M303.7 1738.2h0M376.7 1759.5h0M305.7 1730.2h0M357.4 1735.3h0M302.1 1754.3h0M355.1 1744.2h0M343.4 1712.5h0M289.9 1756h0M361.5 1743.8h0M348.3 1733.2h0M313.7 1738.3h0M291.9 1746.3h0M312.2 1746.5h0M381.2 1744.4h0M374.4 1729.2h0M368.5 1724.3h0M354.4 1740.2h0M372.9 1708.1h0M279.4 1723.7h0M367.1 1757h0M318.7 1747.1h0M305.6 1755.9h0M307 1718.5h0M271.3 1720.1h0M339.8 1734.5h0M269 1755.7h0M282.2 1742.7h0M356.7 1746.6h0M306.4 1732.6h0M338.3 1752.2h0M365.1 1751.7h0M282.1 1735.6h0M293.3 1748.8h0M299.9 1743.3h0M317.3 1738.4h0M306.3 1748.6h0M277.8 1733.3h0M304 1742.6h0M341.5 1751.7h0M305 1742.8h0M301.3 1735.2h0M271 1748.8h0M295.8 1728.4h0M343.7 1716.6h0M307.8 1755.3h0M314.5 1737.7h0M366.4 1756.3h0M337.4 1756.4h0M302.2 1752h0M265.8 1717.6h0M353.8 1748.1h0M354.8 1737.4h0M319.9 1742.6h0M266.5 1724h0M307.1 1741.5h0M339.3 1755.8h0M328.6 1738.6h0M347.3 1721.9h0M334.5 1749.9h0M355.1 1734.5h0M362.3 1727.6h0M324.2 1724.8h0M276.5 1734.7h0M285.9 1724.8h0M361.1 1758h0M349 1753.4h0M351.2 1704.3h0M354.7 1743.4h0M360.7 1727.9h0M278.3 1727.5h0M276.2 1757.7h0M328.5 1747.2h0M349.1 1748.2h0M320.1 1750.3h0M305.7 1759.4h0M368.7 1747.1h0M354.5 1733.5h0M316.5 1745.7h0M337.3 1755.4h0M358.2 1713.4h0M345.3 1747.4h0M270.1 1743.3h0M278.7 1756.1h0M359.8 1748.7h0M276.4 1758.1h0M298.3 1755.1h0M328.8 1752.2h0M328.8 1738.4h0M277 1711.8h0M302.2 1749.3h0M351.9 1730.2h0M361.6 1750.2h0M281 1760.2h0M358 1756.6h0M279.2 1734.4h0M361.2 1749.5h0M358.2 1742.1h0M354 1740h0M281.1 1743.8h0M343.9 1737.7h0M309.6 1736.4h0M370.3 1753.8h0M293.5 1743.1h0M303.5 1738.3h0M271.5 1759.9h0M377.2 1742h0M326.9 1726.7h0M363.4 1752.8h0M345 1751.6h0M301.7 1732h0M288.6 1740.5h0M274.3 1708.8h0M375.6 1750.1h0M368.6 1727.9h0M321.8 1751.4h0M298.1 1757.3h0M327.8 1758h0M309.8 1755.4h0M324.5 1734.6h0M375.7 1744.1h0M270.8 1731.7h0M316.1 1756.8h0M272 1616.4h0M318.6 1648.1h0M324.3 1649.7h0M350.1 1652.4h0M313.6 1656.8h0M273.5 1666.8h0M279.8 1666.8h0M314.3 1669.1h0M340.4 1668.5h0M346.7 1674.2h0M362.8 1670.8h0M379.5 1667.5h0M301.9 1681.8h0M289.2 1684.9h0M314.3 1685.9h0M349.4 1684.2h0M379.5 1683.5h0M376.1 1686.5h0M309.3 1693.5h0M321 1695.9h0M364.4 1694.2h0M277.5 1700.2h0M344.4 1700.9h0"/>
<path stroke="#0000ff" d="M422.4 1742.6h0M464.3 1720.3h0M468.6 1759.8h0M434.1 1746.3h0M464.4 1752.5h0M471.1 1735.4h0M430.6 1738.5h0M472.4 1723.2h0M429.3 1732.9h0M397.4 1743.9h0M444.1 1744.7h0M418.1 1726.6h0M437.2 1712h0M402.7 1711.8h0M420.2 1747.4h0M433.5 1760.1h0M435.2 1744.4h0M414.2 1745.8h0M464 1739.3h0M474.8 1745.1h0M474.3 1759.6h0M454 1749.9h0M470.7 1707.3h0M476.6 1759.7h0M474.7 1755.3h0M457.6 1750h0M474.4 1745.5h0M436.3 1747.8h0M404.7 1734.9h0M384.9 1760h0M436.6 1755.8h0M443.9 1731.1h0M471.7 1726h0M444.5 1749.5h0M408.8 1756.4h0M446.9 1748.3h0M396.2 1711.8h0M394.1 1752.6h0M445 1744.6h0M424.3 1718.4h0M422.7 1748.6h0M470.6 1740.6h0M423.3 1721h0M448.1 1758.6h0M437.5 1745.3h0M426.2 1737.3h0M432.8 1737.1h0M432.2 1745.6h0M429.8 1729.7h0M430.3 1734.4h0M398 1751h0M459.1 1734.6h0M413.4 1744.6h0M474.3 1740.8h0M432.9 1731.9h0M389.5 1747.3h0M384.8 1741.5h0M465.7 1729.2h0M467 1738h0M386.6 1720.4h0M449.8 1744.9h0M471.4 1751.6h0M423.9 1759.6h0M413.6 1754.8h0M393.5 1754.3h0M468.2 1725.3h0M388.8 1745.4h0M430.8 1756.7h0M452.1 1730.1h0M429.8 1757h0M437.1 1749.9h0M437.3 1744h0M464.3 1749.1h0M425.7 1744.2h0M445.1 1759.3h0M401.6 1740.1h0M470.3 1724.3h0M461.7 1745.1h0M451.8 1740.9h0M440.9 1737.5h0M434.5 1743.8h0M393.3 1709.5h0M452.6 1743.4h0M469.2 1746.9h0M386 1756.3h0M394.7 1738.7h0M439.1 1735.7h0M456.6 1752.8h0M396.4 1712.1h0M413.4 1760.2h0M443.9 1747.8h0M472.2 1752.9h0M472.8 1742.9h0M416.9 1741.2h0M439.9 1760.3h0M419.5 1750.4h0M390.4 1746.6h0M465.1 1739.9h0M453.9 1753h0M457.2 1721.4h0M449.3 1745.9h0M430.2 1758.7h0M401.4 1732.8h0M473 1707h0M474.5 1756.6h0M456 1737.4h0M469.3 1750h0M439.3 1758.2h0M421.4 1740.4h0M432.4 1759.3h0M409.4 1729.5h0M441.2 1748.6h0M426.1 1746.2h0M465.4 1743.8h0M439 1749.6h0M463.1 1758.7h0M442.3 1746.1h0M458 1743.4h0M469.4 1711.2h0M397.7 1724.6h0M400.9 1747.1h0M451 1730h0M393.6 1760h0M435.2 1714.7h0M423.5 1734.6h0M474 1759.8h0M466.5 1760.3h0M464.5 1741.5h0M448.7 1712.3h0M464.3 1756.5h0M463.1 1755.6h0M439.2 1757.9h0M399.2 1729.2h0M415.6 1750.7h0M466.2 1712.9h0M459.8 1720h0M455.5 1724.6h0M427.5 1739.7h0M471.8 1747.9h0M466.1 1732.7h0M458.5 1748.2h0M473.8 1756.1h0M388.9 1755.1h0M411 1755.3h0M454.1 1757.1h0M401.2 1738.1h0M400.2 1757.3h0M470 1742.2h0M465.1 1740.9h0M434.6 1751.9h0M448.3 1759.1h0M436.9 1719.4h0M473.6 1726h0M413 1750.8h0M464.7 1740.7h0M441.5 1750.7h0M445.1 1729.6h0M442.4 1743.8h0M459.8 1718.7h0M403 1744.9h0M421.4 1739h0M468.3 1751.2h0M439.1 1754.9h0M405.8 1740.2h0M417.1 1751h0M395.3 1751.6h0M469.9 1724.7h0M448.1 1746h0M468.6 1749.7h0M403.7 1747.6h0M442.6 1751.2h0M461.1 1745.2h0M425 1757.3h0M443.4 1743.3h0M419 1754.3h0M429.3 1741.7h0M434.2 1753.4h0M412.5 1718.8h0M390 1726.7h0M412.9 1752.9h0M439.3 1741.3h0M421.2 1741h0M433.4 1738.9h0M435.5 1724.6h0M400.9 1726.2h0M458.2 1738.1h0M393.6 1719.3h0M453.4 1756.5h0M421.1 1755.3h0M462.9 1755.9h0M395 1753.9h0M405.5 1752.8h0M459.8 1760.1h0M467.1 1723.3h0M471.2 1730.1h0M429.3 1731.2h0M397.4 1752.7h0M390.2 1741h0M472 1719.2h0M419.8 1747.5h0M434.4 1752.3h0M396.8 1757.1h0M428.4 1740.9h0M391.3 1745.2h0M464.9 1743.8h0M477.3 1750.2h0M425.8 1723.6h0M421.5 1758.4h0M400.6 1699h0M442.3 1724.6h0M436 1726.3h0M443.7 1757.4h0M423.2 1731.9h0M438.1 1735.9h0M437.1 1751.7h0M393.4 1759.3h0M385.2 1740.1h0M385.4 1732.5h0M441.3 1740.4h0M430.1 1751.4h0M463.2 1743.7h0M433.5 1734.9h0M449.9 1752.5h0M441.7 1751.2h0M412.5 1572.8h0M405.5 1579.8h0M405.5 1592.1h0M463.9 1597.3h0M436.1 1604.9h0M432.6 1614.9h0M407.5 1614.1h0M408 1619.9h0M409.3 1629.2h0M409.6 1630h0M409.6 1635.7h0M408.6 1648.1h0M409.6 1656.8h0M420.6 1656.8h0M394.5 1660.1h0M405.5 1668.5h0M448 1666.8h0M400.2 1676.2h0M406.2 1680.2h0M407.9 1687.5h0M416.2 1687.5h0M473.1 1656.8h0M478.1 1660.1h0M474.1 1681.8h0M388.5 1690.2h0M388.5 1697.6h0M426.3 1698.6h0M443 1700.9h0"/>
<path stroke="#d2691e" d="M480.3 1755.5h0M513.6 1748.9h0M550.9 1712.2h0M522.6 1729h0M558.9 1759.8h0M562.3 1740.1h0M524 1737.7h0M560.6 1755.9h0M525.3 1725.2h0M556.7 1727.1h0M489.7 1722.9h0M508.2 1745.6h0M509.6 1744.5h0M485.7 1748.6h0M501.1 1744.7h0M547 1753h0M508.6 1742.7h0M516.5 1700.3h0M505.3 1759.3h0M543.3 1749.9h0M517.4 1705h0M546.5 1750.5h0M543 1749.3h0M512.5 1755.4h0M493.4 1754.3h0M518.9 1746.1h0M486 1755.8h0M478.9 1734.9h0M560.7 1748.1h0M554.6 1749.8h0M555.2 1757.3h0M536.1 1748.5h0M507.9 1759.5h0M496.1 1728h0M531.6 1742.9h0M535.9 1755.5h0M515.6 1755.3h0M560 1744.6h0M491.1 1706.7h0M508.6 1759.3h0M491.6 1749.7h0M508.9 1730.9h0M558.5 1731.7h0M556.8 1759.4h0M496.4 1730.5h0M544.7 1750.9h0M500.5 1736.7h0M495 1742.4h0M521.2 1759.4h0M497 1741.5h0M513.8 1724.2h0M518.7 1742.7h0M508.6 1733.2h0M493.8 1750.3h0M569.1 1736.6h0M524.1 1754.9h0M559.4 1752.9h0M549.2 1749.6h0M506.6 1745.2h0M514.4 1755h0M555.7 1755h0M526.3 1754.1h0M541.5 1756h0M510.3 1719.1h0M502.1 1759.9h0M539.8 1709.8h0M491.2 1742.2h0M526.5 1756.3h0M501 1757.7h0M554 1729.4h0M486.1 1753h0M546 1729.5h0M539.6 1739.5h0M505.5 1727.3h0M496.9 1735.1h0M530.2 1731.7h0M545.9 1746h0M481.5 1757.1h0M552.5 1755.9h0M511.9 1741.4h0M540.4 1759.1h0M481.2 1753.6h0M558.1 1718.8h0M480.1 1751.8h0M490 1719.9h0M483 1752.3h0M550.8 1720h0M528.2 1743.6h0M506.8 1736.7h0M512.5 1744.7h0M509.8 1710.7h0M559 1733.1h0M500 1724.8h0M544.4 1731.8h0M538.4 1756.8h0M564.5 1728.6h0M542.2 1759.5h0M489.4 1758.2h0M493.9 1721.5h0M528.6 1728.9h0M566.3 1726.5h0M496 1736.9h0M527.3 1739.7h0M550.6 1740.7h0M560.2 1726.1h0M488.6 1752.6h0M511.6 1756.8h0M551.2 1729.7h0M544.8 1737.7h0M497.8 1746.4h0M550 1757.1h0M563.3 1759.2h0M552.9 1750.5h0M566.5 1710h0M538.7 1741.5h0M520.5 1754.5h0M555.8 1741.2h0M533.1 1707.2h0M493.5 1727.7h0M529.5 1725.2h0M494.3 1718.2h0M535.3 1705.9h0M555.3 1750.5h0M486.4 1756.4h0M481.5 1699h0M532.6 1731.9h0M524.2 1726.8h0M507.8 1729.2h0M479.8 1738.3h0M490 1706.7h0M485.6 1720.3h0M529.6 1740.1h0M567.2 1745.6h0M544.3 1722.2h0M526.8 1713.6h0M523.7 1753.4h0M523.5 1746.8h0M514.8 1744h0M540.3 1751.3h0M544.5 1742.9h0M488.1 1729.9h0M487.5 1755.9h0M563.8 1731.5h0M488.7 1751.1h0M553.6 1707.4h0M543.5 1718.5h0M524.5 1713.1h0M523.4 1744.6h0M521.5 1723.4h0M545.4 1745.7h0M524.4 1746h0M499.5 1593.3h0M479.8 1665.1h0M484.8 1666.5h0M500.5 1666.5h0M506.5 1671.8h0M500.5 1677.5h0M519.2 1677.5h0M484.8 1683.5h0M488.1 1691.9h0M481.4 1696.9h0M521.6 1692.5h0M516.5 1695.9h0M550 1684.2h0M548.3 1694.2h0M555 1682.5h0M553.4 1689.2h0M547.4 1695.2h0"/>
<path stroke="#0000ff" d="M599.5 1759.4h0M579.1 1751.9h0M648 1727.9h0M652.5 1724.6h0M606.8 1758.4h0M654 1736.1h0M611.1 1752.6h0M603 1729.8h0M580.7 1757.4h0M572.9 1723h0M616.6 1710.2h0M651.6 1744.4h0M599.4 1759.4h0M571 1741.8h0M594.9 1757.5h0M599.5 1759.3h0M600.2 1759.1h0M580.6 1759.4h0M640.2 1745.9h0M646.3 1742.9h0M598.2 1743.8h0M625.6 1754.5h0M572.9 1716.5h0M583.7 1710.8h0M648.9 1750.4h0M590.1 1743.2h0M609.7 1747.5h0M617.7 1739.7h0M597.2 1726.9h0M593.6 1752h0M575.5 1737.2h0M571.3 1724.4h0M583.3 1757.3h0M599.4 1740.9h0M576.6 1749.2h0M582.2 1752.2h0M627.4 1753.6h0M626 1715.9h0M579.6 1756.1h0M642.3 1742.9h0M595.4 1745.6h0M592.3 1754.9h0M581.7 1738.5h0M584 1741.2h0M631.5 1738.1h0M618.7 1752.3h0M606.6 1729.7h0M615.8 1739.9h0M576.7 1733.4h0M623.6 1734h0M645.9 1736h0M642.6 1756.3h0M574.4 1731.3h0M579.2 1718h0M597.4 1736.8h0M596.3 1742.6h0M649.3 1745.1h0M625.2 1747.7h0M655.4 1710.8h0M651.9 1753h0M635.8 1731.7h0M575.3 1753.3h0M648.5 1751.1h0M596.7 1749h0M626.4 1749.9h0M615.4 1750.8h0M580.5 1747.1h0M597.6 1706.3h0M579 1727h0M611.8 1746.2h0M615.6 1747.5h0M608.1 1756.9h0M588.7 1718.3h0M573 1755.7h0M635.7 1730.1h0M647.2 1736.5h0M587.8 1744.5h0M572.4 1736.2h0M625.5 1729.5h0M624.4 1750.7h0M573.7 1739.6h0M583.8 1756.4h0M650.8 1716.5h0M629.1 1751.9h0M591.5 1749.4h0M649.1 1736.7h0M580.1 1757.2h0M608.4 1726h0M600.3 1721.6h0M602.1 1721.1h0M645.6 1729.5h0M578.7 1734.4h0M590.2 1716.4h0M600.4 1724.6h0M640.6 1745.3h0M582.1 1726.8h0M611 1755.6h0M588 1746.1h0M622.2 1753.1h0M594.5 1748h0M619.6 1752.5h0M627.5 1752.1h0M640.7 1751h0M594.5 1750.7h0M619.2 1737.8h0M600 1749.8h0M570.7 1746.7h0M585.2 1753.2h0M577.9 1751.5h0M589.3 1754.2h0M587.6 1720.8h0M581.8 1727.7h0M654.8 1745h0M624.7 1727.5h0M598.6 1750.6h0M580.2 1746h0M604.4 1750.8h0M579.4 1746h0M627.8 1745.2h0M581.5 1748.2h0M583.6 1723h0M628.1 1756.6h0M612.9 1759.3h0M616.6 1736.8h0M581.4 1724.8h0M655.9 1749.4h0M640.1 1738.4h0M581 1736.2h0M608.8 1713.7h0M571.5 1756.7h0M613.9 1723h0M583.3 1740.5h0M627.4 1743h0M595.2 1750.5h0M599 1760.1h0M622.6 1756.9h0M582.5 1736.2h0M636.4 1732h0M590.2 1722.8h0M604.7 1713.9h0M615.9 1733.8h0M618.8 1744.2h0M618.6 1738h0M591.2 1754.9h0M653.5 1756.9h0M654 1746.7h0M647.4 1754.3h0M614.4 1743.7h0M610.2 1754.4h0M638.3 1748.5h0M576.8 1759.2h0M620.8 1713.9h0M654.6 1755.7h0M584.7 1744.7h0M574.1 1723h0M574.4 1700.8h0M656.2 1736.3h0M640.7 1743.4h0M627.6 1737.8h0M586.5 1732.7h0M641.9 1758.3h0M597.8 1759.7h0M574.5 1752.7h0M643.8 1755.9h0M642 1733.4h0M584 1732.8h0M650.6 1734.4h0M623.9 1705.3h0M586.5 1740.3h0M570.7 1757.3h0M649.5 1723.5h0M637.3 1709.1h0M589.1 1716.8h0M650.6 1748.6h0M613.9 1754.3h0M594.6 1750.1h0M647.6 1758.7h0M653.4 1737.6h0M591.1 1753.3h0M613.8 1435.8h0M613.8 1452.8h0M639.5 1563.5h0M639.5 1572.8h0M639.5 1580.8h0M614.2 1635.7h0M648.7 1644.1h0M639.3 1660.8h0M639.3 1669.1h0M639.3 1677.5h0M639.3 1685.9h0M576.8 1682.5h0M602.9 1684.2h0M633.6 1695.9h0M571.8 1699.2h0M658 1700.2h0"/>
<path stroke="#d2691e" d="M685.8 1742.4h0M739.2 1736.2h0M702.5 1736.5h0M684 1753.9h0M664.6 1751.4h0M697.6 1736.4h0M689.7 1754.1h0M729.1 1724.5h0M695.8 1757.9h0M711.2 1741.2h0M699.8 1746.2h0M717.3 1757.7h0M727.8 1752.7h0M721.6 1760h0M728.8 1742.6h0M668.2 1742h0M705.7 1739.4h0M692.3 1728.9h0M731.1 1756.4h0M722.7 1746h0M659.3 1750.4h0M694.4 1749.1h0M704.4 1738.9h0M704 1757.4h0M730.8 1740.1h0M675.9 1758.1h0M678 1760.3h0M723.3 1743.2h0M708.2 1754.1h0M699.1 1754.8h0M659.7 1752.4h0M738.5 1743.5h0M672.8 1736.5h0M738.1 1742.7h0M671.2 1702.2h0M710 1711.5h0M679.6 1752h0M727.3 1756h0M699 1757.9h0M723 1730.9h0M726.5 1741.1h0M706.5 1736.5h0M727.7 1756.5h0M697.9 1759.2h0M721.4 1734.7h0M672.1 1757.2h0M678.7 1742.8h0M724.3 1717.4h0M739.2 1720.3h0M722.5 1758.9h0M708.5 1740.1h0M691.9 1731.5h0M682.4 1726.1h0M704.3 1729.4h0M736.2 1744.7h0M676.2 1760.3h0M726.4 1747.1h0M724.6 1713.1h0M734.9 1755h0M726.9 1755.4h0M682.1 1745.6h0M710.7 1736.1h0M721.3 1724.5h0M704.7 1732.5h0M673.5 1736.8h0M669 1757.9h0M667.9 1703.2h0M726.7 1757.7h0M687.1 1756.2h0M704.6 1719.1h0M720.6 1719.8h0M683.6 1701h0M710.3 1732.4h0M700.9 1751.1h0M718.1 1733.5h0M695.8 1718.2h0M733.3 1727.9h0M685.2 1737.6h0M689.4 1708.5h0M674.1 1723.1h0M674.3 1710.4h0M712.9 1759.7h0M670.8 1726.5h0M667 1747.1h0M682.4 1704.1h0M661.7 1759h0M716.9 1730.3h0M696.9 1749.7h0M720.2 1755.8h0M704.9 1753.8h0M734 1744.5h0M676.3 1747h0M683.7 1746.8h0M703.4 1719.7h0M708.1 1720.1h0M695.9 1755.8h0M705 1760h0M706.5 1755.6h0M683.5 1755h0M726.1 1746.8h0M728.3 1752.6h0M683.1 1742.8h0M711.1 1754.3h0M712.4 1726.6h0M682.9 1746.9h0M678.2 1725.8h0M730.9 1734.8h0M701.8 1715.6h0M694.5 1735.4h0M671.6 1740.9h0M675.8 1706.7h0M694 1733.4h0M721.9 1699.5h0M721.3 1743.4h0M704.3 1743.5h0M687.9 1726.3h0M711.4 1746.8h0M697.1 1753.4h0M738.9 1746.7h0M732 1759.4h0M704.5 1750.1h0M712.4 1746.3h0M687.6 1736.2h0M707.6 1738h0M719.5 1740.9h0M684.2 1731.6h0M698.4 1744.7h0M670.4 1737.9h0M661.3 1742.7h0M721 1724.5h0M686.4 1742.7h0M724 1747.6h0M703.1 1742.8h0M732.1 1749.4h0M722.1 1747.8h0M685.8 1744.5h0M699.5 1751.7h0M686.1 1723.4h0M720.7 1756.9h0M687.8 1723.7h0M685.8 1730.1h0M705.8 1735.1h0M718.8 1760h0M689.9 1751.1h0M722.1 1702.1h0M728.4 1728.7h0M683.3 1743.4h0M702.5 1740.6h0M677.9 1745.7h0M733.1 1734.7h0M680.9 1721.6h0M677.7 1754.5h0M667.9 1735.8h0M718.7 1752.1h0M712.4 1731h0M660.8 1734.4h0M692.8 1731.9h0M733.3 1750.4h0M738.5 1752.5h0M737 1740.8h0M720.9 1751.6h0M724 1734.5h0M719.9 1727.1h0M711.8 1750h0M688.2 1737.3h0M726.1 1743h0M724.2 1753.2h0M703.5 1726.5h0M663.4 1750.6h0M706 1744.7h0M671 1749.3h0M701.9 1733.4h0M685.2 1751.6h0M715.8 1724h0M730 1745.5h0M687.7 1753.3h0M684.5 1720.2h0M723.9 1708h0M702.5 1732.2h0M710.8 1735.8h0M738.8 1729.5h0M686.1 1751.3h0M675.2 1704.9h0M678.2 1755.9h0M723.6 1751.4h0M686.3 1721.7h0M705.8 1719.4h0M723.7 1745h0M661.4 1739.1h0M679.2 1757.4h0M698.5 1760.3h0M734.7 1750h0M693.2 1717.3h0M681.6 1751.2h0M730.7 1744.8h0M722.5 1732.1h0M682.3 1742.1h0M728 1741.6h0M728.7 1722.7h0M672.2 1742.3h0M725.8 1740.1h0M669.6 1754.7h0M711.6 1755h0M699.8 1741.2h0M659.5 1741.1h0M724.3 1749.5h0M719.4 1726.6h0M666.2 1745.1h0M721.7 1703.9h0M708.6 1756.3h0M673.1 1739.2h0M661.3 1740.1h0M730.9 1759.9h0M726 1729.5h0M699.7 1746.2h0M698.9 1755.1h0M708 1754.5h0M723.4 1739.9h0M708.6 1743.6h0M660.5 1743h0M712.8 1750.6h0M696.5 1758h0M729 1751h0M699.8 1717.1h0M707.4 1621.4h0M707.8 1621.3h0M702.8 1641.4h0M712.9 1651.8h0M706.2 1660.1h0M661.4 1668.5h0M678.1 1675.8h0M670.4 1678.2h0M734.9 1674.2h0M712.9 1686.5h0M729.6 1686.5h0M682.1 1694.2h0M693.8 1694.2h0M700.5 1697.6h0M732.2 1696.6h0"/>
<path stroke="#0000ff" d="M802.7 1753.4h0M796.1 1756.9h0M766.2 1759.3h0M793.5 1752.6h0M815.2 1749.1h0M784.6 1741.4h0M741.7 1704.9h0M786.8 1721.3h0M778 1756.1h0M765.8 1731.2h0M748.1 1711.2h0M754.2 1753.8h0M785.3 1733.5h0M815.7 1754.5h0M751.8 1751.9h0M770 1725.2h0M795.8 1744.5h0M771.3 1743.3h0M765.4 1711.1h0M742.8 1752.5h0M759.4 1730.5h0M789.3 1759h0M745.3 1746.5h0M756 1734.2h0M784.1 1735.4h0M777.5 1717.8h0M779 1758.8h0M792.2 1715.8h0M747.9 1754.4h0M781 1732.6h0M809.6 1754.5h0M743 1727.2h0M771.3 1760.2h0M748.7 1735.7h0M789.2 1756.2h0M784.8 1729.8h0M753.1 1729.3h0M791.7 1746.3h0M749.2 1727.8h0M806.9 1745.6h0M785.8 1741.8h0M741.7 1697.3h0M780.3 1720.6h0M784.5 1734.4h0M755 1714.9h0M755.7 1753h0M793.9 1740.1h0M761.5 1731.5h0M749.7 1733.8h0M751.1 1754.5h0M757.6 1737.4h0M791.9 1717h0M810.2 1759.9h0M788.2 1755.8h0M750.6 1755.8h0M766.8 1741.5h0M771 1736.4h0M789.2 1734.5h0M765.8 1753h0M780.6 1752.3h0M801.2 1753.2h0M769.3 1755.9h0M804.5 1755.7h0M815.6 1725.9h0M759.6 1754.4h0M816.2 1728.7h0M797.6 1751.5h0M764.9 1722.9h0M792.9 1745.3h0M755.5 1750.9h0M798.8 1755.8h0M799.6 1757.6h0M741 1740.8h0M815.5 1756.7h0M782 1758.8h0M778.9 1733.4h0M764.2 1727.3h0M766.5 1736.5h0M787.8 1745.1h0M782.4 1746.3h0M805.2 1740.7h0M795.2 1759.4h0M766.2 1718.6h0M791.2 1742.5h0M791.4 1733.9h0M765.1 1740.6h0M762.6 1755.1h0M796.7 1743.4h0M806.9 1742.3h0M743.4 1737.1h0M810.6 1727.4h0M768.4 1752.5h0M752.4 1740.4h0M783.4 1743.9h0M793.5 1724.6h0M757 1757.7h0M796.9 1749.9h0M793.7 1753.7h0M811.4 1743.3h0M776.7 1759.4h0M772.2 1721.9h0M754.9 1754.2h0M809.4 1751.9h0M774.3 1698.8h0M781.1 1731.5h0M811.7 1707.4h0M799.4 1733.1h0M814.6 1701h0M750.3 1740h0M761 1745.6h0M804.3 1745.9h0M746.5 1756.6h0M788 1703.7h0M770.9 1748.1h0M782.1 1713.6h0M794.9 1749.4h0M762.8 1750.8h0M778.8 1729.4h0M806.4 1749.6h0M766.7 1756.9h0M785.4 1747.9h0M795.9 1750.6h0M757.8 1756.1h0M815.8 1740.1h0M783 1742.3h0M755.7 1729.9h0M800.1 1731.9h0M755.1 1756.5h0M765 1746.3h0M764.6 1744.2h0M763.9 1748.4h0M785 1752.8h0M754.7 1755.1h0M756.6 1759h0M789.9 1759h0M796.3 1760h0M775.3 1754.2h0M805.9 1758.2h0M745.6 1756.7h0M808.7 1741.7h0M803.1 1751.3h0M793.2 1755.6h0M745.9 1743h0M765.9 1759.2h0M781.1 1752.5h0M779.9 1725.2h0M758.4 1749.6h0M797.7 1726.3h0M781.7 1745.3h0M743.7 1759.6h0M801.8 1758.8h0M782.1 1738h0M740.9 1707.9h0M791.3 1748.6h0M787.3 1758h0M772.6 1741.4h0M750.7 1749.7h0M792.1 1747.6h0M749.2 1752.8h0M781.7 1733.1h0M777.6 1750.4h0M789.7 1730.1h0M816.3 1740.6h0M779.3 1757.4h0M768.7 1736.3h0M742.5 1751.2h0M813.7 1732.6h0M746 1717.4h0M816.4 1752.3h0M777.2 1739.6h0M791.2 1721.3h0M797.6 1752.7h0M763.6 1757.9h0M814.3 1758.2h0M792.8 1751.2h0M777.2 1747.3h0M810 1759.5h0M779 1750.9h0M815.3 1720.6h0M780 1740.5h0M756.7 1749h0M801.7 1757.9h0M762.2 1744.4h0M779.1 1750.7h0M806.1 1754.5h0M776.7 1721.9h0M761.8 1702.2h0M763.5 1743.5h0M778.4 1747.1h0M744.6 1752.8h0M760.3 1739h0M782.5 1756.1h0M786 1722.2h0M785.2 1709.7h0M794.2 1737.4h0M750 1759.9h0M805.8 1730.5h0M762.4 1745.9h0M813.7 1754.9h0M791.9 1760.2h0M790.6 1741.6h0M770 1726.8h0M752.1 1735.2h0M750.8 1735.5h0M798.1 1502.7h0M777.3 1542.7h0M743 1579.3h0M742.5 1597.1h0M742.9 1639.1h0M753 1646.4h0M773 1649.7h0M817.5 1652.4h0M743.9 1666.5h0M756.6 1666.5h0M773 1667.5h0M775.7 1675.8h0M745.6 1677.5h0M797.4 1677.5h0M757.3 1684.2h0M790.8 1682.5h0M804.1 1684.2h0M749 1692.5h0M770.7 1692.5h0M789.1 1695.9h0M797.4 1695.9h0M806.5 1695.9h0"/>
<path stroke="#d2691e" d="M861.1 1742.4h0M886.3 1725.1h0M868.7 1750.1h0M852 1726.1h0M827.7 1757.1h0M873.7 1748.8h0M890.2 1740.8h0M820.9 1731.7h0M844.1 1737.9h0M858.7 1756.7h0M830.8 1754.6h0M852.2 1745h0M852.3 1750.8h0M838.5 1712.5h0M828.7 1737h0M836.2 1745.4h0M831 1745.8h0M825 1732h0M860.5 1744.6h0M839.6 1759.6h0M880 1739.1h0M848.5 1734.5h0M847.7 1723.7h0M831.7 1748.6h0M877.2 1757.3h0M860.5 1738.4h0M819.8 1711.7h0M889.3 1744.1h0M835.4 1754.3h0M835.6 1738.4h0M886.7 1724.7h0M837.2 1725.4h0M863.1 1734.4h0M888 1748.4h0M825.1 1740h0M820.1 1724.7h0M833 1738.7h0M838.6 1733.5h0M871.9 1731.1h0M888.1 1758h0M828.3 1732.8h0M831.9 1744.2h0M838.7 1740.9h0M870 1755.7h0M870.9 1740.9h0M822.6 1719.7h0M884.9 1757.4h0M847.6 1749h0M841.4 1751.2h0M824.1 1755.8h0M829.9 1726.7h0M850.9 1718.6h0M860.9 1759.7h0M854.2 1748.1h0M832.8 1718.3h0M870.3 1734.8h0M834.5 1722.7h0M820.8 1732h0M848.8 1703.7h0M888.7 1746.7h0M852.2 1710.4h0M830.8 1755.2h0M847 1718.2h0M869.2 1720.6h0M828 1756h0M854.4 1759.6h0M850.6 1752.6h0M876.7 1758.2h0M845.1 1725.9h0M878.8 1714.7h0M820 1732.4h0M861.9 1733.5h0M869.9 1724.1h0M852.2 1753.9h0M831.4 1746.6h0M841.3 1718.9h0M852.5 1760.3h0M837.4 1748.9h0M860.7 1758.7h0M834.3 1736.4h0M861.9 1756.8h0M820.5 1739.8h0M849.4 1706h0M825.2 1718h0M864.9 1756.9h0M861.7 1749.5h0M868.1 1756.3h0M886.6 1723.8h0M827.7 1751.8h0M885.4 1744.8h0M846.2 1746.2h0M881.3 1721.2h0M864 1700.5h0M829.7 1717.4h0M876.7 1758.1h0M834.8 1749.9h0M865.6 1743.6h0M839.7 1749.4h0M860.4 1725.7h0M843.3 1753.9h0M830.1 1751.4h0M828.8 1740.8h0M857.6 1706.9h0M858.3 1743.7h0M834.4 1739.7h0M844.6 1758.1h0M845.5 1737.7h0M831.7 1744.3h0M838.1 1742.7h0M839.5 1755.2h0M878.8 1743.2h0M858.2 1749.3h0M873 1720.5h0M882.2 1714.9h0M861.7 1751.6h0M865.8 1732.6h0M872.2 1741.5h0M847.2 1753.7h0M844.8 1757.5h0M821.4 1741.4h0M834.5 1742h0M888.6 1757.6h0M856.3 1733.5h0M866.8 1735.8h0M868.5 1760.2h0M840.6 1736.9h0M889.9 1757.7h0M866.8 1759.3h0M881.1 1733.8h0M837.3 1755.9h0M841.8 1734.3h0M874.6 1746.5h0M840.7 1749.9h0M820.8 1756.7h0M835.3 1738.8h0M819.6 1759.3h0M837.8 1735h0M889.9 1756.1h0M877.6 1754.7h0M864.9 1755.2h0M883.7 1730.9h0M838.9 1756.2h0M886.7 1722.3h0M837.1 1748.7h0M859.8 1759.9h0M842.2 1746h0M821.6 1723.7h0M828.6 1608.6h0M849.4 1627.4h0M849.9 1628h0M858.3 1649.1h0M887.7 1668.5h0M828.5 1665.8h0M823.5 1669.1h0M823.5 1677.5h0M887.7 1682.5h0M835.9 1686.9h0M844.2 1689.2h0M823.5 1694.2h0M887.7 1695.9h0"/>
<path stroke="#0000ff" d="M904.6 1754.5h0M951.5 1709.2h0M923.8 1751.1h0M901.2 1699.2h0M931.3 1758.8h0M954 1723h0M939.9 1751.5h0M947.4 1741.1h0M924.1 1728.9h0M924 1758.3h0M954.9 1747.9h0M924.7 1748.2h0M902.3 1745.9h0M935.6 1733.2h0M936.5 1756h0M948.8 1714.1h0M947.1 1751.3h0M923 1735.6h0M927.8 1733h0M925.6 1744.1h0M924.7 1739.3h0M896.8 1713.6h0M891.8 1749h0M938.5 1743.8h0M936.3 1731.9h0M937.1 1755h0M933 1758.9h0M924.1 1748.2h0M897.6 1735.9h0M894.6 1720.4h0M928.8 1758.2h0M900 1726.1h0M938.5 1757.8h0M933.8 1747.3h0M954.5 1736h0M930.3 1751.3h0M903.4 1722.9h0M899.4 1744.8h0M947.6 1752.7h0M932.1 1743.4h0M932.5 1735h0M932.8 1758.4h0M954 1736.4h0M943 1743.5h0M952.2 1735.6h0M945.6 1759.8h0M939.5 1749.5h0M931 1753.4h0M925.8 1740.1h0M906.5 1755.8h0M937.1 1728.7h0M928 1758.6h0M950.2 1759.5h0M945.9 1719.7h0M939.7 1729.2h0M930 1747.5h0M950.8 1752.8h0M893.9 1756.4h0M940 1752.3h0M935.7 1751.2h0M937.3 1748.4h0M895.9 1726.1h0M904.1 1751.5h0M899.9 1715.3h0M955.3 1753.8h0M897.5 1727.2h0M946.8 1737.4h0M933.1 1752.2h0M942.3 1755.4h0M925.5 1730.9h0M951.4 1750.4h0M928.7 1744.9h0M953.8 1748.2h0M951 1744.8h0M949.7 1719.7h0M933.4 1754.1h0M923.8 1720.5h0M927 1708.1h0M955 1748.5h0M953.5 1754.7h0M949.1 1757.8h0M947 1723.8h0M900.1 1748.2h0M929.1 1711.9h0M891.8 1736.8h0M945.1 1749.2h0M927 1735.5h0M950.6 1749.7h0M928.8 1727.8h0M942.7 1751.8h0M945.9 1759.9h0M955.3 1749.9h0M904.9 1727.8h0M904.3 1756.6h0M925.3 1749.3h0M896.6 1735.3h0M935.6 1759.6h0M943.8 1731.2h0M927.3 1759.7h0M903.3 1733.7h0M935.8 1748.4h0M906.9 1747.4h0M927.5 1749.5h0M933.1 1756.8h0M896.7 1714.6h0M949.6 1743.5h0M902.5 1759.1h0M940 1718.7h0M950.5 1702.8h0M923.2 1733.4h0M925.8 1728.3h0M928.1 1699.1h0M953.2 1752.2h0M900.7 1733.9h0M955.2 1726.9h0M953.1 1726.6h0M955.4 1735.6h0M951.2 1719.8h0M939.1 1752.8h0M928 1742.3h0M938.2 1753.2h0M939.3 1735.2h0M932.1 1750.7h0M903.6 1734.9h0M927.1 1756.5h0M945.2 1702.5h0M923.5 1751.8h0M899.6 1753.5h0M935.2 1738h0M892.6 1739.4h0M949.7 1750.6h0M925.3 1697.7h0M934.8 1748.6h0M953 1719.8h0M892.3 1743.9h0M898.1 1757h0M955 1750.2h0M952.6 1746.9h0M948.2 1739.5h0M898 1740h0M896.1 1731.5h0M955.1 1747.9h0M949.5 1728.5h0M923.5 1736.7h0M949.2 1759.1h0M902 1728.9h0M927.6 1748.9h0M896.3 1749.7h0M937.5 1739.5h0M900.5 1748.1h0M924 1754.6h0M901.1 1758h0M897.6 1756.1h0M904.3 1759.6h0M924.2 1759.5h0M950.2 1636.4h0M950.2 1645.7h0M955.6 1674.2h0M904.4 1693.5h0M951.9 1697.6h0"/>
<path stroke="#d2691e" d="M973.2 1740.1h0M979.5 1706.6h0M983.3 1757.6h0M996.4 1726.3h0M1006.9 1755.1h0M1006.3 1727.6h0M1015.6 1748.8h0M972.5 1758.6h0M958.8 1739.7h0M1007.8 1749.8h0M998.2 1724.7h0M1013.7 1728.2h0M975.7 1735.7h0M972.6 1705.7h0M970.6 1755.1h0M982.1 1750.9h0M998.8 1734.6h0M990.5 1736.6h0M997.3 1741.7h0M997.8 1736.9h0M1012.9 1758.3h0M995.7 1741.9h0M1013 1753.9h0M985.6 1727.7h0M998.8 1751.1h0M992.8 1756.8h0M964 1758.3h0M1017.2 1744.8h0M984.1 1745h0M993.6 1731.6h0M997.3 1750.1h0M999.6 1722.3h0M987.7 1752.9h0M981.5 1727.4h0M1007.7 1748.5h0M977.1 1741.3h0M995.6 1755h0M995.4 1734h0M985.2 1745.7h0M978 1748.7h0M1004.4 1727.2h0M1006.7 1754.3h0M999.7 1747.5h0M998.8 1760.1h0M969 1722h0M998.6 1751h0M977.4 1728.9h0M990 1746.2h0M997 1723.6h0M971.7 1740.8h0M1001.1 1751.8h0M989 1719.8h0M994.3 1732.5h0M999.7 1755h0M994.8 1741.7h0M1012.6 1745.8h0M990.1 1709.6h0M962.8 1740.4h0M1001.3 1754.3h0M985.2 1747.8h0M992.5 1716.3h0M992.5 1746h0M997.8 1753.5h0M960.1 1742.3h0M992 1729.3h0M999.8 1715.5h0M998.7 1755.6h0M973.7 1722.5h0M1010.6 1753.5h0M993.6 1758.3h0M973.8 1749h0M982.7 1736.3h0M972.8 1748.8h0M963.9 1749.5h0M992.7 1751.4h0M990.9 1713.7h0M1007 1738h0M969 1750.3h0M990.8 1735.8h0M1002.3 1745.9h0M980.8 1744.4h0M998.4 1757h0M979.7 1702.7h0M959.2 1715.2h0M969.8 1734.6h0M992.7 1736.6h0M999.9 1739.6h0M965 1753.4h0M976.7 1738.2h0M972.6 1753.2h0M1001.6 1731.1h0M960.3 1755.6h0M1004.6 1751.1h0M967.2 1757.6h0M1017.5 1750.3h0M1003.9 1750.4h0M1000.7 1751.9h0M992.5 1749.8h0M989.7 1752.5h0M970.8 1743.6h0M998.9 1736.2h0M999.4 1730.4h0M1015.7 1750.3h0M1006.9 1735.2h0M1012.9 1737.1h0M1014.8 1755.5h0M997.1 1754.3h0M974.8 1745.3h0M1005.4 1731.1h0M1009.4 1743.9h0M969.8 1750.6h0M1006.6 1749.2h0M959.3 1747h0M1015.3 1741.6h0M976.3 1749.8h0M1012.2 1730.2h0M999.3 1744.1h0M1018.1 1741.5h0M1000 1737.2h0M1009.2 1749.2h0M997.6 1746.3h0M967.3 1739.1h0M995.9 1742.1h0M994.2 1755.7h0M1003.6 1736.1h0M976.9 1753.5h0M998.5 1747.4h0M976.1 1750.5h0M996.4 1739.1h0M1001.1 1740.9h0M1016.1 1748.8h0M1000.9 1720.8h0M1015.9 1731.2h0M961.5 1754.4h0M1008.2 1711.6h0M978.1 1737.2h0M986.4 1740.3h0M980.5 1745.8h0M984.1 1753.8h0M971.4 1746.6h0M996.6 1750.1h0M966.8 1704h0M975.7 1748.7h0M1002.4 1733.5h0M1002.4 1721.6h0M995.9 1758.8h0M997.9 1751.3h0M976.2 1740.7h0M998.6 1740.9h0M999.6 1720.6h0M979.3 1744.6h0M965.5 1722.3h0M1000.1 1731.9h0M1007.7 1737.6h0M997.5 1753.3h0M1003.8 1605.4h0M1004.8 1626.1h0M1016.6 1627.4h0M992.8 1631.7h0M1004.7 1627.3h0M1016.1 1628.4h0M992.4 1635h0M992.4 1654.1h0M1004.7 1652.4h0M1006.4 1657.4h0M968 1674.8h0M1006.4 1676.8h0M984.7 1688.2h0M1020.4 1690.2h0M1006.4 1694.2h0M999.7 1697.6h0M1019.8 1700.9h0"/>
<path stroke="#0000ff" d="M1027.8 1737.9h0M1038.2 1728.3h0M1059.7 1751h0M1043.6 1746.9h0M1051 1752.3h0M1036.3 1748h0M1023.2 1750.8h0M1038.9 1744.8h0M1042.2 1731.2h0M1041 1722h0M1057 1726.2h0M1036.9 1747.2h0M1024.8 1755.7h0M1068.3 1743.6h0M1055 1708.5h0M1061 1730.1h0M1084 1757.1h0M1034.7 1745.4h0M1059.4 1750.3h0M1022.5 1744.1h0M1056.4 1746.8h0M1069.6 1717.1h0M1021.9 1754.3h0M1066.8 1710.7h0M1040.5 1752.4h0M1076.5 1729.5h0M1034.8 1747.6h0M1028.1 1744.8h0M1054.7 1715.6h0M1022.4 1753.7h0M1034.4 1721.4h0M1035.7 1756.7h0M1065.1 1740.1h0M1028.3 1731.5h0M1057.7 1724h0M1024.2 1742.8h0M1051.9 1754.8h0M1050.4 1732.4h0M1068 1755.8h0M1050 1723.9h0M1034.8 1746.4h0M1037.7 1755h0M1064.2 1733.3h0M1074.1 1731.7h0M1027.5 1752.5h0M1060.8 1743.1h0M1035.7 1736.4h0M1060.7 1754.3h0M1060.6 1745.8h0M1068.9 1747.4h0M1042.2 1750.2h0M1040.3 1752.3h0M1083.5 1759.2h0M1064.2 1740h0M1023.9 1717.9h0M1063.3 1744.4h0M1070.4 1727.8h0M1045.6 1746.9h0M1065.6 1743.7h0M1079.5 1731.4h0M1037.1 1706.4h0M1075.6 1754.8h0M1078.5 1728.5h0M1031.1 1736.3h0M1039.9 1758h0M1024.9 1751.3h0M1033.1 1756.3h0M1060.6 1744.1h0M1020.9 1755.7h0M1034.5 1747.3h0M1053.5 1755.6h0M1072.6 1727.2h0M1020.6 1755.3h0M1057.1 1751.8h0M1075.5 1729.2h0M1023 1756.8h0M1033.9 1759.1h0M1064.9 1760.3h0M1044.6 1754.5h0M1051.9 1729.9h0M1037.1 1741.1h0M1058.2 1756.7h0M1031.5 1718.1h0M1059.3 1747.1h0M1059.7 1733.2h0M1037.3 1717.7h0M1063.8 1736.4h0M1054.7 1721.9h0M1022 1723.6h0M1038.3 1740.2h0M1056.4 1739h0M1079.6 1757.9h0M1024.6 1728.4h0M1038.6 1721.6h0M1053.4 1743.2h0M1038.2 1755.6h0M1021.7 1743.7h0M1056.7 1755.3h0M1059.5 1715.3h0M1032.9 1705.5h0M1081.3 1736h0M1077.2 1708.8h0M1033.2 1725.9h0M1026.8 1753h0M1082.9 1734.4h0M1021.3 1726.1h0M1061.5 1750.2h0M1031 1748.7h0M1035.9 1738.3h0M1041.5 1755.3h0M1053.9 1753.5h0M1056.4 1733.3h0M1036.6 1731h0M1074.5 1754.7h0M1067.2 1753.1h0M1042.7 1743.5h0M1046.1 1752.5h0M1036.1 1728.2h0M1075.3 1755.3h0M1033.3 1739h0M1034.3 1745.2h0M1081.2 1758.7h0M1061.7 1724.8h0M1044.6 1744.1h0M1080.1 1747.7h0M1061.6 1727.5h0M1066.9 1737.2h0M1042.3 1755.2h0M1020.5 1759.8h0M1029.8 1718.4h0M1067.2 1723.3h0M1041.2 1759.8h0M1053.8 1747.7h0M1034.9 1747.7h0M1023.4 1745h0M1061.4 1757.5h0M1034.7 1714.6h0M1031.8 1726.2h0M1042.4 1760h0M1034.9 1753.7h0M1077.4 1760.1h0M1024.5 1715.6h0M1070.7 1711.6h0M1039.8 1733.5h0M1034.2 1752.8h0M1057.9 1740.5h0M1061.4 1732.2h0M1030 1715.2h0M1031.3 1733.8h0M1027.7 1716.8h0M1037.3 1743.2h0M1038.1 1758.6h0M1030.1 1750.5h0M1071.7 1736.6h0M1084 1749.3h0M1031.7 1752h0M1064.1 1717.4h0M1035.7 1739.5h0M1044.2 1745h0M1057.3 1717.7h0M1046.5 1735h0M1061.9 1756.1h0M1026.9 1741.2h0M1070.6 1734.6h0M1073.5 1746.5h0M1077 1743.9h0M1059.9 1747.7h0M1076.6 1742.1h0M1032.9 1753.2h0M1041.1 1744.1h0M1033.9 1758.8h0M1041.1 1756.6h0M1083.9 1753.8h0M1067.7 1736.1h0M1034.6 1732h0M1045.4 1752.6h0M1025.2 1735h0M1026.2 1751.7h0M1033.5 1741.5h0M1083 1738.6h0M1060.1 1758.6h0M1070 1745.6h0M1036.9 1753h0M1064.4 1754.2h0M1061.3 1731.7h0M1065.3 1738.9h0M1052.3 1740.1h0M1040.1 1719.4h0M1031.3 1737.7h0M1060.2 1747.5h0M1064 1728.1h0M1068.2 1738.9h0M1082.6 1750.9h0M1083.4 1758h0M1063.4 1741.6h0M1076.1 1758h0M1028.2 1749.9h0M1072.3 1724.5h0M1038.6 1752.9h0M1022.3 1742.7h0M1050.2 1731.6h0M1039.7 1755.9h0M1025.3 1754.7h0M1082.2 1757.9h0M1033.8 1749.4h0M1050.1 1744.4h0M1072.7 1752.5h0M1025 1747.4h0M1035.3 1750h0M1084.4 1758.5h0M1021.5 1743.5h0M1027.1 1757.6h0M1032.3 1740.2h0M1055.4 1751.9h0M1076.5 1733.1h0M1034.9 1717.5h0M1021.9 1706h0M1054.4 1759h0M1068.7 1741.6h0M1051.1 1711.6h0M1035.4 1748.5h0M1026.9 1743.8h0M1073.7 1733h0M1041.1 1745.5h0M1032 1757.7h0M1036.4 1731.1h0M1023.7 1737h0M1078.5 1749.5h0M1051.1 1570.8h0M1049.1 1609.1h0M1056.6 1615.4h0M1048.9 1658.1h0M1040.5 1660.8h0M1034.8 1666.8h0M1055.9 1661.8h0M1061.6 1666.5h0M1067.2 1672.5h0M1076.6 1677.5h0M1048.9 1677.5h0M1043.2 1684.2h0M1054.9 1689.2h0M1050.5 1697.6h0M1071.6 1700.9h0"/>
<path stroke="#d2691e" d="M1090.9 1733.2h0M1154.1 1757.1h0M1093.9 1749.6h0M1121.4 1759.9h0M1093.3 1709.9h0M1118 1740.2h0M1115.5 1748.1h0M1098.9 1753h0M1139.7 1748.4h0M1100.1 1727.6h0M1113.3 1743.9h0M1148.8 1747.7h0M1119.8 1743.1h0M1136 1731.9h0M1114.1 1738h0M1154.5 1718.3h0M1132.1 1759.8h0M1108.6 1746.7h0M1106.2 1745.2h0M1088.7 1758.4h0M1101 1705.9h0M1113.7 1752.9h0M1123.3 1754.4h0M1128.2 1738.8h0M1122.4 1707.1h0M1097.4 1736.1h0M1122 1737.2h0M1142.2 1725.3h0M1151.7 1715.4h0M1092.8 1714.9h0M1152.2 1744.2h0M1100.5 1754.3h0M1104.2 1737h0M1098.9 1752.5h0M1154.4 1712.6h0M1149 1755.5h0M1095.4 1725.6h0M1101.6 1735.6h0M1157.2 1751h0M1147 1739.5h0M1124.4 1737.2h0M1116.9 1753.9h0M1091.9 1751.5h0M1094.3 1750.3h0M1110.8 1725.5h0M1115.3 1750h0M1149.3 1732.7h0M1122.8 1757.8h0M1118 1731.4h0M1122.4 1724.4h0M1126.7 1733.6h0M1116.8 1739.7h0M1143.2 1742.8h0M1118.2 1741.4h0M1155.8 1735.8h0M1091.2 1748.1h0M1139.6 1755.7h0M1135.8 1733.5h0M1146.9 1759.4h0M1137.2 1697.9h0M1139.8 1728.6h0M1114.9 1716.5h0M1111.6 1746h0M1118.2 1744.7h0M1106.7 1718.8h0M1112.1 1721.2h0M1150.6 1743.6h0M1141 1744.5h0M1096.9 1759h0M1111.3 1733.7h0M1112.8 1741h0M1116.7 1760h0M1094.4 1739.6h0M1110.9 1698.5h0M1114.1 1734.7h0M1095.1 1729.5h0M1131.4 1715.1h0M1152.4 1732.5h0M1093.1 1738.7h0M1152.9 1742.5h0M1110.1 1702h0M1107.3 1747.6h0M1127.8 1709h0M1123.9 1723.3h0M1139.3 1754.2h0M1129.8 1728.7h0M1096.4 1738.8h0M1086.9 1740.3h0M1086.7 1758.4h0M1088.3 1757.9h0M1104.1 1705.9h0M1135.2 1753.6h0M1115.9 1754.8h0M1144 1720.3h0M1099.1 1750.4h0M1154.7 1757.4h0M1107.6 1746.1h0M1147.9 1732.6h0M1107.5 1741.9h0M1130.6 1738.2h0M1119 1728.5h0M1133.1 1744.3h0M1132.2 1743.5h0M1135.4 1725.5h0M1118.4 1754.8h0M1152.1 1727.7h0M1119.2 1755.9h0M1100.6 1713.7h0M1090.3 1733.6h0M1141.4 1717.7h0M1096 1749.5h0M1095.5 1759.9h0M1140.7 1754.5h0M1152.2 1735.6h0M1124.9 1739.9h0M1155 1719.1h0M1092.8 1750.9h0M1110 1749.2h0M1155.8 1736.5h0M1104.7 1739.9h0M1108 1710.1h0M1157.3 1756.2h0M1140.8 1747.3h0M1094.7 1758.7h0M1115.1 1746.9h0M1112.9 1738h0M1095 1751.6h0M1113.1 1735.4h0M1126.1 1754.7h0M1096.4 1731.2h0M1121.7 1753.8h0M1117.5 1735.3h0M1132 1751.5h0M1099.3 1729.9h0M1156.4 1705h0M1087.5 1745.3h0M1107 1706.9h0M1096.3 1745.8h0M1121.3 1744.4h0M1110.1 1708.3h0M1112 1701.6h0M1095 1747.8h0M1112.1 1748.4h0M1096.7 1741.1h0M1155.7 1754.2h0M1124.3 1748.3h0M1113.2 1746.8h0M1121 1752.1h0M1120.1 1752.6h0M1133.2 1757h0M1089.9 1700.3h0M1156.8 1726.7h0M1119.5 1755.8h0M1108 1755.1h0M1093.3 1735.4h0M1088.3 1737.6h0M1101.3 1734.3h0M1139.7 1724h0M1151.6 1757.3h0M1115.3 1742h0M1102.3 1737.6h0M1119.7 1722.4h0M1134.4 1746.1h0M1123 1732.1h0M1106.8 1744.1h0M1095.6 1741.5h0M1127.7 1724.7h0M1121.5 1741.3h0M1157.4 1737.7h0M1124.5 1746.1h0M1090.3 1753.9h0M1094 1717.5h0M1142.1 1729.5h0M1103.7 1753.2h0M1128.8 1744.3h0M1140 1732.5h0M1102.1 1737.1h0M1092.3 1752.1h0M1119.3 1727.5h0M1128.7 1746.8h0M1111.5 1745.3h0M1116.2 1728.6h0M1105.3 1753.5h0M1153 1753h0M1124.3 1725.1h0M1146.6 1738.4h0M1103.7 1737.4h0M1150.6 1757.9h0M1116.2 1752.5h0M1113.8 1755.8h0M1140.3 1737h0M1139.2 1743.3h0M1127.9 1758.3h0M1104.2 1744.8h0M1107.1 1721h0M1107.9 1737.5h0M1156.3 1738.6h0M1116.1 1735.2h0M1103 1744.5h0M1114 1758.1h0M1088.4 1734.3h0M1095.3 1718.6h0M1093.4 1733.3h0M1110.3 1746.2h0M1113.8 1730.2h0M1118.2 1756.4h0M1134.1 1707.2h0M1115.7 1727.1h0M1147.8 1733.3h0M1112.4 1749.4h0M1121.7 1736.6h0M1130.3 1746.8h0M1148 1741.2h0M1148.9 1731h0M1134 1751.5h0M1107.2 1736.9h0M1122.2 1745.8h0M1147 1723h0M1107.2 1745.2h0M1111 1744.1h0M1100.6 1732.5h0M1087.5 1736.9h0M1125 1727.1h0M1138.5 1754.8h0M1095.9 1755.2h0M1089.7 1732.1h0M1116 1757h0M1119 1752.2h0M1121.5 1604.6h0M1090 1665.8h0M1088.3 1694.2h0M1146.2 1652.4h0M1114.4 1656.8h0M1145.2 1660.1h0M1140.1 1666.5h0M1105 1667.5h0M1095 1665.8h0M1114.4 1674.8h0M1114.4 1685.9h0M1105 1687.5h0M1120.1 1694.2h0M1135.1 1695.9h0M1146.2 1696.6h0"/>
<path stroke="#0000ff" d="M1191.8 1758.7h0M1163.8 1739.1h0M1207.4 1754.1h0M1194.1 1748.9h0M1197.2 1756.1h0M1206.5 1729.7h0M1165.6 1745.3h0M1209.7 1725.7h0M1198.6 1750.4h0M1199.8 1738.5h0M1206.4 1744.6h0M1176.7 1732h0M1196.8 1757h0M1181.5 1743.8h0M1208.7 1750.8h0M1159.4 1730.7h0M1212.2 1747.2h0M1207.7 1754.1h0M1206.7 1754.3h0M1162.9 1754.6h0M1178.2 1713.3h0M1194 1749.7h0M1207.2 1730.7h0M1185 1749.6h0M1203.1 1723.9h0M1183.1 1743.2h0M1208.7 1757.7h0M1171 1716.8h0M1161.5 1731.4h0M1167.6 1746.2h0M1178.7 1760.1h0M1208.2 1721.1h0M1208.1 1733.4h0M1208.2 1733h0M1200.1 1746.9h0M1202.1 1741.6h0M1162.4 1742.7h0M1189.1 1745.3h0M1176.1 1720.2h0M1187 1722.4h0M1171.8 1738.3h0M1166.5 1750.2h0M1166.4 1755h0M1176.3 1758.2h0M1167.6 1715.1h0M1173.1 1759.2h0M1202 1760.2h0M1170.2 1752.6h0M1189.9 1744h0M1198.6 1748.9h0M1164.9 1745.9h0M1204.9 1733.6h0M1194.6 1711.7h0M1205.2 1739.9h0M1191.9 1758.2h0M1171.4 1756.6h0M1206.5 1727.8h0M1160 1743h0M1163.3 1742.7h0M1204.2 1730.8h0M1200.2 1737h0M1163.4 1738.6h0M1201.6 1759.2h0M1200.7 1757.8h0M1186.7 1747.5h0M1163.5 1736.7h0M1179.5 1750.4h0M1196.9 1753.7h0M1165.6 1752.6h0M1159.8 1755.2h0M1177.5 1737.5h0M1188.2 1723.3h0M1179.5 1759.1h0M1189.1 1738.9h0M1184.9 1758.2h0M1162.6 1754.4h0M1160.3 1742.2h0M1183.6 1759.4h0M1194.7 1751.1h0M1166 1747.8h0M1203.4 1740h0M1166.3 1542.5h0M1189.6 1655.1h0M1172.6 1660.8h0M1161.2 1666.8h0M1161.2 1686.5h0M1189.6 1689.9h0M1198 1695.2h0"/>
<path stroke="#d2691e" d="M1248 1760.3h0M1263.5 1718.3h0M1260.2 1733h0M1264.4 1727.1h0M1224.7 1760h0M1249.1 1728.1h0M1229.9 1759.5h0M1222.6 1759.8h0M1254.8 1732.7h0M1252.9 1714.2h0M1226.1 1736.7h0M1246.4 1743.2h0M1264.1 1710.3h0M1259 1744.4h0M1241.8 1743.2h0M1223.2 1744.6h0M1258.6 1756.4h0M1220.4 1722.4h0M1258 1712.1h0M1238.5 1740.3h0M1243.4 1758.8h0M1242.3 1755.4h0M1219.6 1759.9h0M1256.6 1753.6h0M1238.2 1731.8h0M1226 1757.4h0M1252.8 1743.2h0M1226.6 1733.6h0M1215.2 1756.6h0M1225.8 1738h0M1250.3 1726.8h0M1246.8 1753.1h0M1260 1755.6h0M1259.1 1703.4h0M1233 1715.2h0M1228.8 1743.1h0M1238.5 1714.1h0M1257.6 1756.6h0M1255.9 1758.5h0M1233.8 1727.8h0M1256.4 1749.2h0M1253.1 1703.4h0M1225.8 1747.5h0M1254.6 1751.3h0M1263.1 1734.2h0M1254.5 1745.9h0M1219.9 1730.4h0M1225.2 1698.5h0M1254.9 1725.7h0M1230.8 1741.6h0M1249.5 1743.5h0M1237 1718.9h0M1214.8 1750.9h0M1264.5 1724.6h0M1263.2 1736.4h0M1232.7 1748h0M1254.1 1747.7h0M1256.5 1755.2h0M1252 1731.2h0M1216.4 1754.3h0M1247.6 1738.8h0M1254.2 1759.5h0M1234 1739.9h0M1255.2 1751.6h0M1238.2 1726.3h0M1236 1735.7h0M1256.3 1701.5h0M1231 1741.3h0M1258.7 1759.7h0M1219 1740.2h0M1250.9 1735.1h0M1232.6 1725h0M1255 1743.3h0M1252.6 1755.8h0M1257.2 1752.8h0M1233.6 1754.9h0M1250.9 1730.6h0M1223.8 1745h0M1249.9 1755.7h0M1262.9 1758h0M1222 1755.6h0M1234.3 1754h0M1255.7 1746h0M1255.8 1752.2h0M1226.2 1756.2h0M1252.8 1744.5h0M1214.6 1736.3h0M1218.2 1728.5h0M1218.1 1735.3h0M1256.4 1745.4h0M1229.8 1759.2h0M1243 1748.6h0M1225.6 1730.4h0M1235.2 1706.2h0M1231.4 1758.9h0M1231.8 1711.2h0M1248.2 1728.7h0M1242.8 1759.9h0M1233.8 1759.6h0M1260.4 1743.5h0M1230 1742.8h0M1239.7 1757.9h0M1234.3 1736.4h0M1219.9 1756.7h0M1251.8 1751.1h0M1256.2 1744.5h0M1260.1 1752.9h0M1254.1 1748.4h0M1223.3 1722.6h0M1232.4 1756.2h0M1237.2 1746.4h0M1255.1 1753.4h0M1222 1757.1h0M1235.1 1757.1h0M1223.3 1742.1h0M1223.1 1751.7h0M1242.8 1744.5h0M1261.7 1750.6h0M1254.3 1712.7h0M1224.6 1742.3h0M1259.5 1750.7h0M1235.5 1734.6h0M1263.7 1744.7h0M1257.3 1723.7h0M1215.2 1749.3h0M1216.9 1740.2h0M1251.5 1733.9h0M1226.9 1745.7h0M1238.8 1749.8h0M1239.9 1737.4h0M1242.5 1500.9h0M1256.8 1505.1h0M1233.1 1656.4h0M1237.8 1670.8h0M1223.7 1684.2h0M1251.5 1684.9h0M1256.5 1685.9h0M1220.4 1692.5h0M1235.4 1695.2h0M1250.5 1698.6h0"/>
<path stroke="#0000ff" d="M1271.2 1719.7h0M1293.2 1748.8h0M1308.1 1753.7h0M1268.6 1721.6h0M1293.2 1732.2h0M1306.7 1738.6h0M1299.5 1750.7h0M1275.1 1702.4h0M1298.8 1747.1h0M1274.6 1745.4h0M1307.9 1736.8h0M1297.1 1754.8h0M1301.6 1741.5h0M1266.7 1737.5h0M1269.5 1757h0M1270.9 1717.1h0M1271.3 1712.2h0M1304.6 1748.1h0M1267.8 1730.1h0M1269.2 1724.5h0M1275.6 1755.5h0M1291.3 1708.6h0M1286.6 1758.3h0M1283 1756.3h0M1273 1735.4h0M1271.6 1756h0M1271.5 1742.2h0M1292.3 1729.5h0M1291.9 1759.9h0M1267.3 1718.9h0M1292.4 1742h0M1307.4 1747.3h0M1274.9 1700.8h0M1302.6 1755.1h0M1295.7 1732.1h0M1290.6 1759.9h0M1270.3 1736.1h0M1267.1 1722h0M1290.1 1741.4h0M1298.3 1756.7h0M1305.5 1747.3h0M1280.5 1738.2h0M1280.1 1700.3h0M1298.8 1717.2h0M1303.5 1739.9h0M1287.7 1748.8h0M1276.9 1737.9h0M1267.8 1750.5h0M1305.5 1759.3h0M1292.3 1756.2h0M1271.6 1724.2h0M1306 1758.2h0M1296.8 1713.7h0M1267.6 1717.1h0M1268.6 1750.8h0M1288.4 1743.5h0M1277 1749.9h0M1290.6 1744.1h0M1270.8 1734.9h0M1280.4 1706.1h0M1299 1760.1h0M1300.7 1740.4h0M1302 1723.5h0M1278.4 1716.3h0M1271.7 1720.7h0M1289.2 1723.2h0M1276 1741.2h0M1293 1751.5h0M1282.8 1757.2h0M1282.3 1744.6h0M1273.8 1748.1h0M1281.5 1727.3h0M1293 1757.4h0M1291.7 1741.5h0M1270.2 1748.4h0M1294 1751.8h0M1293.8 1744.3h0M1273.2 1759.2h0M1286.5 1758.1h0M1307.8 1732.5h0M1275.2 1758.8h0M1302.5 1714.5h0M1307.8 1728.7h0M1298.5 1753h0M1273.9 1751h0M1276 1745.8h0M1302.4 1738.5h0M1269.7 1755.3h0M1291.7 1748h0M1274.1 1724.7h0M1302.8 1755.7h0M1296.8 1754.4h0M1269.8 1740h0M1280.6 1750.8h0M1304.5 1756.4h0M1278.3 1742.9h0M1306.6 1750.1h0M1267.9 1747.4h0M1292.8 1737.7h0M1293 1757.2h0M1283.5 1757.2h0M1287.5 1727.2h0M1283.8 1750.8h0M1291.4 1756.6h0M1303.3 1747.4h0M1294.3 1754.5h0M1293.4 1759.2h0M1304.5 1737.9h0M1303.4 1752.1h0M1289.5 1754.9h0M1290.9 1743h0M1271 1758.6h0M1277.3 1759.2h0M1298.4 1742.3h0M1295.6 1738.1h0M1293 1759.1h0M1287.9 1738.5h0M1278 1742.8h0M1289.9 1759.6h0M1294.7 1735.6h0M1300.7 1700.7h0M1294.5 1757.5h0M1302.8 1719.4h0M1297.6 1753.2h0M1295.4 1759.3h0M1303.4 1722.4h0M1289 1759.8h0M1289.6 1749.6h0M1280.2 1733.1h0M1294.2 1727.2h0M1266.3 1751.9h0M1271 1733.3h0M1289.2 1754.2h0M1307.5 1751.6h0M1293.5 1727.9h0M1274.1 1756.8h0M1297.4 1734.9h0M1299.1 1737.2h0M1274.7 1756.5h0M1306.4 1747.8h0M1297.3 1747h0M1277.6 1754.9h0M1293.8 1754.6h0M1292.3 1755.8h0M1280.2 1744.3h0M1285.7 1757.3h0M1276.9 1723.1h0M1293.1 1591.5h0M1291.6 1655.8h0M1296.6 1665.1h0M1273.2 1672.5h0M1296.6 1674.8h0M1301.3 1678.5h0M1277.2 1685.9h0M1287.2 1694.2h0M1277.2 1697.6h0M1305.6 1694.2h0"/>
<path stroke="#d2691e" d="M1345.6 1741.7h0M1342 1735.7h0M1339.4 1709.4h0M1318.7 1721.2h0M1321.8 1751.5h0M1327.2 1753.9h0M1323.3 1747.5h0M1320.6 1702.5h0M1322.3 1760h0M1346.7 1735.2h0M1335.6 1747h0M1337.6 1746.5h0M1334.6 1732.9h0M1314.1 1744.2h0M1321.2 1737.2h0M1334.8 1760.1h0M1332.2 1760.2h0M1311 1751.8h0M1315.5 1758.6h0M1323.1 1711.9h0M1308.9 1752.6h0M1315.2 1736.4h0M1319.7 1751.6h0M1345.6 1756.9h0M1310.1 1760.1h0M1311.5 1759.2h0M1346.8 1725.7h0M1346.9 1741.1h0M1335 1730.3h0M1332.9 1752h0M1318.8 1751.9h0M1333 1742.2h0M1340.4 1741.8h0M1333.2 1748.3h0M1321.2 1755.3h0M1313.8 1753.1h0M1344.8 1735h0M1347.3 1758h0M1331.9 1737h0M1345 1736.2h0M1317.2 1740.4h0M1308.9 1708.3h0M1346.5 1750.2h0M1330.4 1746.1h0M1313.9 1749.5h0M1344.6 1740.6h0M1338 1758.6h0M1325.9 1744.3h0M1315.1 1735.5h0M1310.1 1724.6h0M1307.3 1721.7h0M1333.7 1715.9h0M1335.8 1742.1h0M1326.4 1750.5h0M1320.6 1742h0M1327.3 1741.7h0M1325.7 1758.8h0M1313 1741.2h0M1335 1739.2h0M1341.6 1729.9h0M1337.9 1755.8h0M1341.1 1747.4h0M1323.7 1750.7h0M1323 1725.1h0M1319.1 1745.8h0M1341 1754.3h0M1325.3 1710.4h0M1307.4 1740.2h0M1306.8 1736.6h0M1316.9 1738.8h0M1315.4 1755.2h0M1310.6 1750.4h0M1330.1 1758.8h0M1347.6 1716.4h0M1315.7 1747.7h0M1330.1 1732.7h0M1318.7 1751.2h0M1345.6 1735.4h0M1329.4 1714.3h0M1312.7 1758.6h0M1312.2 1709.3h0M1319.9 1746h0M1340.4 1752.8h0M1342.6 1754.3h0M1331 1735.3h0M1308.9 1740.5h0M1343.2 1759.8h0M1327.9 1731.2h0M1306.7 1710.1h0M1327.4 1752.3h0M1347.6 1756.7h0M1322.7 1730.7h0M1315.3 1749.3h0M1313.2 1760.3h0M1340.6 1744.7h0M1335.3 1748.9h0M1343.8 1744.4h0M1328.7 1755.4h0M1320.7 1746.8h0M1340.6 1759.9h0M1331.3 1739.5h0M1330.2 1728.7h0M1335.1 1726.8h0M1330.9 1744.1h0M1316 1716.2h0M1308.5 1756.2h0M1331.3 1727.8h0M1323.2 1755.3h0M1306.8 1737.5h0M1322.2 1751.1h0M1311.2 1747.7h0M1319 1740.7h0M1316.4 1751.2h0M1348 1752.6h0M1347.6 1740.5h0M1317.4 1703h0M1314.4 1742.2h0M1316 1750.7h0M1310.6 1746.3h0M1332.9 1748.6h0M1331.5 1755.4h0M1330.3 1741.7h0M1315.1 1753.7h0M1324.1 1757.5h0M1344.1 1758h0M1342.8 1755.2h0M1321.6 1750.7h0M1310.8 1760.2h0M1329.1 1751.8h0M1331.5 1743h0M1313.2 1747.1h0M1345 1757.7h0M1314.4 1756.8h0M1306.8 1736.7h0M1324.5 1733.7h0M1316.1 1732.4h0M1347.8 1727.7h0M1315.3 1722.2h0M1334.5 1730.8h0M1315.6 1735h0M1308.1 1742.3h0M1307.2 1757.4h0M1311.4 1736.2h0M1341.6 1742.8h0M1320.1 1737.7h0M1348 1733h0M1330.4 1753.5h0M1332.5 1743.4h0M1324.4 1744.7h0M1311 1743.1h0M1327.2 1722.1h0M1316.3 1749.5h0M1307.6 1734.8h0M1333.6 1755.8h0M1325 1744h0M1331.5 1758.3h0M1315 1717.3h0M1324.7 1703.6h0M1341.5 1757h0M1329.1 1738.1h0M1326.6 1746.7h0M1345.7 1747.8h0M1320.8 1750.9h0M1313.1 1585.3h0M1341.4 1581.5h0M1317.4 1629.1h0M1349.2 1627.9h0M1317.3 1629h0M1349.1 1628h0M1341.4 1676.8h0M1320.7 1692.5h0M1342.4 1690.9h0M1333.4 1696.6h0M1305 1695.9h0"/>
<path stroke="#0000ff" d="M1353.7 1737h0M1362.1 1752h0M1377.5 1749.5h0M1354.1 1749.8h0M1378.9 1740.3h0M1384.3 1723.6h0M1383.8 1738.9h0M1365.8 1746.1h0M1380.9 1727.6h0M1376.5 1757.5h0M1359.4 1728h0M1369.1 1757.4h0M1371.9 1722.1h0M1377.5 1755h0M1362.9 1735.6h0M1379.7 1725.3h0M1380 1753.8h0M1363.3 1750h0M1358.9 1752.6h0M1382.6 1742h0M1383.4 1717.8h0M1380.7 1725h0M1387 1750.7h0M1384 1752h0M1377 1759.2h0M1377.5 1754.4h0M1386.1 1749.2h0M1373.1 1749.4h0M1383.4 1743.2h0M1373.8 1740.6h0M1360.8 1713.3h0M1378 1716.3h0M1372.7 1748.7h0M1369.4 1747h0M1361.1 1741.2h0M1384.6 1739.2h0M1379.7 1727.3h0M1371.5 1756.4h0M1375 1734.6h0M1364.1 1750.5h0M1358.8 1750.2h0M1355.6 1729.4h0M1360.7 1756.7h0M1380.9 1743.1h0M1362 1724.9h0M1351.3 1747.2h0M1353.9 1749.7h0M1369.3 1751.1h0M1364.6 1730.1h0M1385 1737.9h0M1351.4 1705.2h0M1350.8 1739.6h0M1383.3 1753.3h0M1366.8 1755.6h0M1369.4 1754.1h0M1377.8 1737h0M1382.9 1746.2h0M1354.6 1738.9h0M1379 1751.3h0M1361.3 1732.5h0M1359.5 1753.3h0M1372 1744.6h0M1376.8 1750.5h0M1376.9 1750.3h0M1352.7 1719.5h0M1356.5 1741.9h0M1350.9 1738.4h0M1377.7 1744.1h0M1370.4 1741.8h0M1358.2 1746.1h0M1377.2 1753.3h0M1386.7 1751.8h0M1352.1 1748.5h0M1378.6 1716.3h0M1373.1 1758.8h0M1383.1 1759.5h0M1351 1751.2h0M1358.1 1737.3h0M1350.3 1757.3h0M1386 1732.1h0M1381.5 1726.2h0M1355 1741.9h0M1365.1 1728.3h0M1353.6 1756.5h0M1363.8 1739.3h0M1386.2 1738.2h0M1356.7 1756.8h0M1378.9 1752.1h0M1382.2 1745.2h0M1377.7 1712.7h0M1378.9 1757.8h0M1359.9 1744.4h0M1362.1 1726.8h0M1375.5 1751.7h0M1353.8 1746.2h0M1378 1733.8h0M1378.5 1751.2h0M1374.2 1708.2h0M1351.1 1757.4h0M1357.3 1742h0M1350 1753.4h0M1377.6 1708.3h0M1369 1754.7h0M1356 1739.9h0M1352.3 1738.8h0M1376.3 1758.2h0M1380.1 1726.6h0M1369.1 1753.7h0M1381.6 1752.5h0M1385.9 1738.1h0M1375.3 1748.9h0M1378.2 1737.4h0M1363.1 1754.2h0M1384.7 1754.2h0M1360.5 1734.2h0M1383.7 1750.4h0M1373 1747.9h0M1379.4 1728.3h0M1383.5 1734.7h0M1354.7 1721.6h0M1377.5 1744.8h0M1382.6 1757.9h0M1358.1 1759.7h0M1363.5 1758h0M1350.2 1735.5h0M1378.2 1759.5h0M1360.6 1724.6h0M1364.9 1753.1h0M1383.9 1743.7h0M1372.4 1745.7h0M1351 1759.3h0M1355.2 1751.7h0M1380.5 1756.6h0M1375 1752.6h0M1381.8 1730.2h0M1366.1 1719.4h0M1383 1757.1h0M1385.3 1735.6h0M1360.1 1732.7h0M1365.4 1754.7h0M1367.5 1755.7h0M1357.3 1760.1h0M1357.9 1730.4h0M1355.3 1747.1h0M1351.7 1751.7h0M1375.7 1759.2h0M1371.4 1753.6h0M1350.6 1721.9h0M1365.3 1732.1h0M1379.5 1714.9h0M1368.3 1698.8h0M1369.7 1755h0M1367.3 1759.6h0M1380.3 1749.3h0M1371.7 1755.9h0M1376.6 1738.2h0M1379.2 1747.3h0M1350.9 1729.7h0M1380.1 1708.5h0M1365.5 1742.6h0M1380 1751.7h0M1356 1736h0M1384.8 1735h0M1354.2 1707.8h0M1378.9 1752.1h0M1367.4 1755.1h0M1350.2 1698.2h0M1365.8 1756.2h0M1377.3 1730.8h0M1377.4 1754.7h0M1376.5 1735.9h0M1371.6 1713.6h0M1385.5 1756.9h0M1359.1 1754h0M1352.7 1735.5h0M1349.9 1737.5h0M1383.7 1755.7h0M1353.4 1748.7h0M1385.1 1730.1h0M1378.1 1739.9h0M1358.9 1749.7h0M1378.8 1755.5h0M1349.7 1751.3h0M1379.4 1739.1h0M1363.5 1725h0M1374.7 1733.6h0M1380.7 1733.7h0M1377.3 1738h0M1370.5 1744.5h0M1368.5 1744.3h0M1373 1734.9h0M1353.2 1757.1h0M1374.6 1757.7h0M1365.9 1757.3h0M1352.6 1743.7h0M1375.1 1754.8h0M1373.2 1744.6h0M1386.1 1752.7h0M1386.8 1715.8h0M1351.2 1755.5h0M1387.3 1748.8h0M1377.9 1740.4h0M1353.3 1751.7h0M1372 1745.3h0M1386.4 1743.9h0M1382.2 1759.1h0M1376.3 1724.1h0M1384 1737.5h0M1384.5 1759.1h0M1363.1 1753.6h0M1354.6 1753.7h0M1384.4 1735.2h0M1379.5 1759.8h0M1379.8 1718h0M1373.9 1743.1h0M1377.3 1698.6h0M1357.5 1759.6h0M1373.4 1757.6h0M1362.1 1750.9h0M1377.8 1729.6h0M1382.9 1707.8h0M1367.6 1757.5h0M1374.7 1738.4h0M1379.1 1748.6h0M1358.4 1752.6h0M1376.4 1706.6h0M1364.8 1742.7h0M1366 1745h0M1357.4 1747.3h0M1362.4 1714.4h0M1370 1743.2h0M1372.5 1758.8h0M1357.4 1735.5h0M1377.6 1747.3h0M1352.9 1760.1h0M1380 1758.4h0M1381.5 1733.2h0M1350.7 1745.2h0M1351.2 1726.6h0M1370.2 1703.5h0M1355.3 1751.2h0M1369.4 1757h0M1358.5 1729.1h0M1363.7 1729.3h0M1363.8 1728.2h0M1372 1637.1h0M1359.5 1646.1h0M1369 1650.4h0M1371.5 1637.4h0M1359.1 1646.7h0M1369.2 1650.8h0M1371.5 1656.8h0M1359.1 1668.5h0M1369.8 1674.2h0M1350.8 1677.5h0M1361.5 1679.2h0M1372.5 1682.5h0M1361.5 1689.2h0M1352.4 1692.5h0M1380.9 1694.2h0M1389.2 1692.5h0M1361.5 1700.9h0"/>
<path stroke="#d2691e" d="M1395.5 1760.1h0M1415.4 1740.9h0M1405.3 1715.7h0M1390.3 1740.2h0M1405.2 1750.4h0M1396 1731.2h0M1405.2 1752.5h0M1406.6 1707h0M1392.8 1725.4h0M1413.5 1748.2h0M1418 1754.7h0M1391.1 1748.3h0M1405 1704.9h0M1414.1 1748.6h0M1410.2 1759.9h0M1415.1 1734.4h0M1388.5 1748.5h0M1411 1755.2h0M1399.9 1722.2h0M1409 1751.5h0M1414.5 1755.8h0M1426.4 1749.8h0M1403.4 1755.3h0M1407.3 1757.2h0M1392.2 1746.4h0M1423.9 1738.7h0M1389.7 1746.3h0M1402.2 1726h0M1395.3 1721.6h0M1390.1 1740.7h0M1390 1751.6h0M1405.1 1731.7h0M1398.7 1759.5h0M1396.7 1745h0M1405.6 1738.7h0M1404.6 1744.7h0M1393.9 1744.5h0M1405.4 1754.4h0M1409.4 1738.9h0M1408.5 1750.7h0M1419.8 1756.2h0M1402.9 1744.8h0M1416.2 1741.5h0M1421.2 1745.1h0M1402.2 1743.9h0M1410.3 1725.7h0M1391.5 1758.9h0M1400.8 1712.9h0M1420.1 1754.6h0M1392.5 1756.4h0M1404.2 1739.4h0M1408.5 1741.2h0M1412.6 1719.2h0M1389.6 1748.9h0M1395.7 1743.2h0M1413.7 1724.1h0M1389.8 1737.4h0M1404.1 1746.9h0M1424 1755h0M1407.4 1756.8h0M1404.3 1754.5h0M1418.1 1754.4h0M1407 1738.7h0M1389 1749.8h0M1413.9 1727.6h0M1413.3 1546h0M1403.3 1683.5h0M1398.6 1696.9h0M1426 1689.2h0"/>
<path stroke="#0000ff" d="M1430.9 1754.8h0M1440.6 1753.8h0M1452 1755.3h0M1440.8 1745.5h0M1448.5 1760h0M1441.1 1711.4h0M1429.9 1745.2h0M1444 1725.7h0M1433.6 1759.3h0M1433.5 1749.2h0M1436.5 1753.2h0M1430.5 1741.2h0M1434.7 1740.3h0M1440.7 1747.1h0M1446.3 1746.7h0M1443.8 1739.9h0M1431.6 1736.1h0M1430.2 1759.6h0M1437.3 1751.3h0M1441 1756.7h0M1443.9 1745.6h0M1445.7 1748h0M1436.1 1733.7h0M1439.5 1753.1h0M1453.3 1747.3h0M1448.2 1754h0M1435.8 1747.4h0M1434.5 1736.5h0M1432.6 1723.5h0M1432.4 1756.8h0M1450.4 1739.7h0M1433.8 1751.8h0M1428.7 1726.3h0M1451.9 1751.1h0M1447.8 1741.4h0M1443.7 1749.7h0M1444.9 1740h0M1446.9 1733.9h0M1440.8 1757.7h0M1450.8 1746.6h0M1450.3 1747h0M1447.8 1748.3h0M1445.5 1733.1h0M1430.8 1737.8h0M1434.3 1729.2h0M1428.7 1711h0M1430.9 1730.4h0M1441 1737.6h0M1428.8 1732.3h0M1449.9 1740.3h0M1436.9 1738.9h0M1442.1 1758.2h0M1443.9 1722.1h0M1431 1712.3h0M1443.6 1714.6h0M1442.7 1756h0M1450.2 1734.4h0M1428.2 1718.5h0M1436.1 1749.5h0M1429 1757.6h0M1447.6 1714.7h0M1438.1 1745.8h0M1435.1 1749.6h0M1441.3 1755.7h0M1428.9 1758.4h0M1452.4 1756.6h0M1446.3 1741.8h0M1452.1 1759.7h0M1428.9 1721.9h0M1454.4 1756.9h0M1452.5 1750.6h0M1453 1741.8h0M1437.1 1748.4h0M1430.5 1746.8h0M1444.1 1753.8h0M1444.4 1735.8h0M1453.8 1759.2h0M1448.5 1739h0M1442.2 1697h0M1432.1 1737h0M1451.8 1759.6h0M1437.3 1758.7h0M1429.7 1727.7h0M1443.9 1754.3h0M1452.7 1751.7h0M1453.1 1755h0M1441.9 1751.8h0M1452.3 1730.7h0M1435.4 1760h0M1438.4 1738.6h0M1449.7 1753.7h0M1428.8 1734.9h0M1444.4 1742.4h0M1445.2 1745.8h0M1429.7 1702.1h0M1447.3 1737.5h0M1438.3 1756.9h0M1449.7 1747.4h0M1437.7 1759.3h0M1431.6 1745.8h0M1442.2 1697.4h0M1450.7 1747.9h0M1439.9 1757h0M1431.9 1737h0M1439.9 1744.3h0M1439.6 1723.1h0M1448.3 1710.6h0M1437.6 1752h0M1440.2 1731.3h0M1437.6 1722.8h0M1450.1 1750.3h0M1442.1 1724.2h0M1454.5 1729.5h0M1439.6 1751.4h0M1445.5 1758.3h0M1438.6 1721h0M1450.3 1752.6h0M1438.6 1724.6h0M1448.7 1705.1h0M1453.9 1741h0M1435.2 1748.6h0M1431.2 1755h0M1428.2 1759.2h0M1429.6 1745.2h0M1435.8 1728.2h0M1435.9 1755.6h0M1448 1760.3h0M1442.1 1755.8h0M1441.5 1759.3h0M1434.6 1720.7h0M1439.3 1729.1h0M1440.4 1739.8h0M1452.4 1753h0M1442.3 1753.7h0M1440.1 1751.2h0M1451.2 1750.1h0M1443.9 1759.9h0M1432.4 1736.5h0M1427.9 1728.6h0M1441.7 1737.5h0M1452.8 1750.9h0M1430.9 1753.1h0M1442.5 1721.1h0M1449.5 1722.2h0M1449.1 1744.6h0M1429.2 1758.9h0M1442.9 1749.9h0M1453.6 1756.8h0M1442.9 1737.6h0M1449.7 1723.3h0M1451.9 1730.9h0M1434.8 1733h0M1433.2 1741.1h0M1439.7 1759h0M1447.3 1746.1h0M1432.7 1721.8h0M1453.6 1735.1h0M1440.8 1740h0M1447.3 1747.2h0M1446.5 1734.5h0M1436.3 1724.9h0M1442.9 1738.9h0M1438.4 1714.3h0M1434.2 1742.6h0M1439.4 1704.8h0M1452.5 1731.5h0M1444.5 1744.7h0M1434.1 1757.1h0M1448 1742.6h0M1443 1725.1h0M1440.4 1753.8h0M1437.2 1738.2h0M1451.4 1740.3h0M1439.8 1738.4h0M1449.9 1741.1h0M1444.5 1749.5h0M1451.5 1757.1h0M1450.5 1757.8h0M1439.5 1751.2h0M1449.7 1741.5h0M1428.7 1747.2h0M1453.8 1728.2h0M1450.9 1733.9h0M1439.9 1710.8h0M1435.7 1759h0M1443.9 1753.8h0M1449.4 1753.9h0M1441.9 1744h0M1448.4 1750.2h0M1429.3 1752.7h0M1446.5 1735h0M1442.3 1749.6h0M1443.9 1738.6h0M1452.8 1755.3h0M1443.7 1737.6h0M1450.9 1724.4h0M1451.9 1716.3h0M1448 1739.3h0M1437.4 1743h0M1454.2 1751.9h0M1440.1 1755.9h0M1437.8 1727.8h0M1435.7 1760.1h0M1436.6 1731.9h0M1431.9 1759h0M1436.8 1757.6h0M1443.4 1756.3h0M1430.2 1740.9h0M1439.8 1706.7h0M1446.7 1741.8h0M1442.8 1754.4h0M1445.9 1726.3h0M1451.7 1757.5h0M1437.1 1743.3h0M1442.7 1749.2h0M1443.5 1732h0M1454.1 1735.5h0M1442.9 1732.9h0M1443.1 1746h0M1450.3 1714.4h0M1448.9 1718h0M1440.9 1752h0M1434.8 1741h0M1441.7 1758.6h0M1440.9 1745.9h0M1432.5 1754.3h0M1436 1735.5h0M1448.4 1742.5h0M1429.7 1747.7h0M1452.3 1734.4h0M1440.4 1730.5h0M1451.6 1737.4h0M1445.4 1736.5h0M1439.8 1742.2h0M1447.8 1752.8h0M1429.7 1751.7h0M1441.2 1738.7h0M1437 1746.9h0M1437.6 1754h0M1445.9 1737.5h0M1439.1 1725.6h0M1441.7 1744.8h0M1449.3 1721.9h0M1447.4 1749.7h0M1453.4 1752.6h0M1455.4 1666.5h0M1449.4 1669.1h0M1435.4 1674.8h0M1455.4 1679.2h0M1442.7 1685.2h0M1436 1690.9h0M1455.4 1689.2h0M1455.4 1699.2h0"/>
<path stroke="#d2691e" d="M1455.6 1746.8h0M1488.7 1729.9h0M1490.4 1730.1h0M1483.5 1713.1h0M1491.1 1736.6h0M1492.3 1753.7h0M1479.9 1753.8h0M1492 1719.2h0M1462.6 1718h0M1475.9 1723.9h0M1486.6 1746h0M1459.1 1751h0M1488.5 1759.5h0M1488.5 1741.2h0M1474.7 1742.8h0M1456.4 1759h0M1486.1 1750.5h0M1472 1736.8h0M1488.5 1754.6h0M1458.1 1738.3h0M1488.7 1738.3h0M1473.9 1730.6h0M1469.3 1723h0M1490 1747.6h0M1486.1 1756.4h0M1467.4 1731.9h0M1473.6 1720.5h0M1481 1731.8h0M1471.5 1752.7h0M1461.2 1736.7h0M1474.7 1742.5h0M1472.5 1733.1h0M1460.4 1744.2h0M1481.8 1726.5h0M1474.5 1749h0M1472.4 1742.9h0M1484.8 1707.5h0M1457.8 1734.8h0M1458.8 1732.7h0M1458.5 1745.6h0M1492.7 1740.2h0M1474.8 1747.5h0M1475.3 1758.6h0M1490.3 1748.7h0M1481.8 1733.1h0M1472.1 1731.7h0M1483 1730.6h0M1462.5 1742.4h0M1459.3 1757.4h0M1460.7 1743.8h0M1491.5 1753.8h0M1489.9 1758.2h0M1461.5 1758.2h0M1486.4 1745.3h0M1463.1 1738.7h0M1470.7 1758.8h0M1470.5 1738.2h0M1456.9 1741.7h0M1488.6 1752.1h0M1483.9 1723.4h0M1490.2 1727.2h0M1460 1742.6h0M1483.5 1743.7h0M1460.2 1759.3h0M1482.9 1731.3h0M1469.2 1734.8h0M1490.4 1737.9h0M1474.4 1740.9h0M1472 1742.5h0M1476.6 1728.8h0M1459.6 1705.3h0M1461.1 1757.7h0M1477.7 1756.9h0M1476.4 1754.4h0M1489.6 1747h0M1466.1 1745h0M1484.8 1738h0M1491.9 1740.7h0M1480.8 1729.4h0M1472.8 1736.5h0M1476.5 1759.9h0M1470.5 1721h0M1478.7 1757.7h0M1458.1 1749.1h0M1470.6 1734h0M1491.1 1747.1h0M1479.1 1708.9h0M1458.1 1746.2h0M1462.7 1698.1h0M1475.7 1742.6h0M1487.6 1742.3h0M1493.5 1733.4h0M1491.9 1755.8h0M1465.5 1738.9h0M1469 1745.1h0M1488.6 1734.5h0M1492.6 1750.5h0M1479.3 1758.8h0M1470.4 1741.2h0M1493.4 1748.6h0M1471.5 1755.3h0M1492.2 1738h0M1469.1 1756.4h0M1470 1738.8h0M1471.9 1713.5h0M1484.7 1729.1h0M1479.4 1739.4h0M1460.4 1755.1h0M1491.5 1748.4h0M1488.2 1740.6h0M1478.4 1600.8h0M1473.4 1620.3h0M1471.4 1633.4h0M1473.5 1620.7h0M1471.8 1633h0M1470.1 1683.5h0M1478.5 1684.9h0M1465.4 1697.6h0M1472.8 1700.9h0"/>
<path stroke="#0000ff" d="M1496.3 1754.2h0M1503.3 1731.8h0M1508.9 1747.2h0M1509.7 1744.4h0M1503 1757.8h0M1511.7 1746.4h0M1504.9 1753.8h0M1505.6 1756.4h0M1511 1754.5h0M1502.2 1709h0M1503.1 1732.3h0M1505.6 1733.6h0M1512.5 1733.1h0M1495.7 1733.4h0M1506.8 1717.3h0M1498.7 1747h0M1502.9 1722.5h0M1497.2 1721.8h0M1502.3 1697.2h0M1504.2 1749.9h0M1497.3 1751.3h0M1503.8 1759.3h0M1498.6 1758.3h0M1508.5 1757.4h0M1504.2 1757.2h0M1500.2 1740.4h0M1500.1 1740.8h0M1496.2 1726.5h0M1501.4 1751.2h0M1505.3 1732.5h0M1501.1 1759.3h0M1497.5 1748.4h0M1504.6 1725.2h0M1506.9 1734.5h0M1496 1728.7h0M1503.1 1751h0M1500.6 1742.1h0M1498.6 1753.1h0M1501.4 1747.3h0M1500.2 1749.1h0M1499.5 1658.1h0M1508.6 1673.2h0M1505.2 1684.2h0M1504.6 1697.6h0"/>
<path stroke="#d2691e" d="M1524.6 1745.5h0M1517 1725.7h0M1527.4 1750.4h0M1526.3 1744.8h0M1517 1748.6h0M1525.3 1745.3h0M1533.1 1734.8h0M1531.5 1755.2h0M1531.5 1757.8h0M1529.3 1718.7h0M1530 1754.4h0M1531.2 1754.6h0M1526 1728.1h0M1526.4 1753.8h0M1527.5 1749.2h0M1530 1708.3h0M1521.7 1740.5h0M1528.2 1742.5h0M1529.6 1750h0M1530.3 1737.7h0M1517.9 1757.7h0M1532.6 1755h0M1517.8 1736.9h0M1523.1 1758.4h0M1526 1754.3h0M1533.4 1757.7h0M1524.9 1734.1h0M1531.6 1723.7h0M1526 1741.3h0M1529 1738.3h0M1532.6 1740.3h0M1518.3 1737.8h0M1522.5 1725.2h0M1520 1721.6h0M1528 1734.7h0M1527.5 1738.3h0M1526.5 1750.8h0M1518.8 1754.1h0M1525.6 1737.2h0M1522.5 1740.1h0M1526 1749.7h0M1522.5 1752.2h0M1532.3 1756.3h0M1523.9 1757.3h0M1533.7 1717.3h0M1517.5 1744.8h0M1531.1 1732.4h0M1530.9 1756h0M1522.1 1736h0M1528.6 1758.8h0M1520.7 1755.5h0M1531.8 1753.6h0M1525.7 1751.7h0M1520.1 1737.8h0M1525.4 1756.6h0M1517.2 1743.7h0M1521.7 1747.9h0M1519.8 1716.9h0M1518 1748.1h0M1519.5 1757.9h0M1528.1 1723.3h0M1526.2 1724.2h0M1525.6 1734.1h0M1519.9 1754.5h0M1527.6 1757.8h0M1525 1752.5h0M1519.6 1720.6h0M1531.6 1747.4h0M1522.9 1757.6h0M1533.4 1749.1h0M1530.6 1755.3h0M1532.5 1728.6h0M1518.6 1734h0M1516.9 1750.5h0M1529.1 1748.3h0M1528.3 1758.1h0M1526.2 1759.3h0M1523.2 1742.8h0M1525 1758.9h0M1517.9 1744.4h0M1521.4 1738.1h0M1520.8 1755.3h0M1533.7 1754h0M1523.2 1750.2h0M1523.9 1732h0M1524.5 1746.1h0M1517.6 1755.4h0M1523.3 1734.4h0M1525.8 1759.9h0M1517.3 1714.3h0M1519.1 1739h0M1522 1735.6h0M1526.7 1753.7h0M1523.7 1755.5h0M1517 1717.5h0M1523.8 1740.6h0M1526.9 1749.3h0M1525.6 1739.1h0M1529 1566h0M1529 1619.6h0M1529 1638.6h0M1529 1649.9h0M1529 1619.7h0M1529 1639.1h0M1528.6 1652.4h0M1529.6 1668.1h0M1518.9 1673.2h0M1521.3 1689.2h0M1529 1690.9h0M1529.6 1699.2h0"/>
</g>
<path d="M103.1 493.8 H1571.8" stroke="#ff0000" stroke-width="1.6"/>
<path d="M105.2 1603.1 H1575.6" stroke="#ff0000" stroke-width="1.6"/>
<line x1="408.9" y1="477.1" x2="505.5" y2="451.9" stroke="#ff0000" stroke-width="2.6"/>
<path d="M525.6 446.6 L498.0 463.6 L505.5 451.9 L493.2 445.2 Z" fill="#ff0000"/>
<line x1="414.0" y1="484.8" x2="514.1" y2="477.1" stroke="#ff0000" stroke-width="2.6"/>
<path d="M534.8 475.5 L504.6 487.4 L514.1 477.1 L503.2 468.4 Z" fill="#ff0000"/>
<line x1="409.9" y1="498.8" x2="470.9" y2="528.3" stroke="#ff0000" stroke-width="2.6"/>
<path d="M489.6 537.4 L457.6 532.4 L470.9 528.3 L465.8 515.3 Z" fill="#ff0000"/>
<line x1="1046.0" y1="460.3" x2="1066.0" y2="388.1" stroke="#ff0000" stroke-width="2.6"/>
<path d="M1071.6 368.1 L1072.5 400.5 L1066.0 388.1 L1054.2 395.4 Z" fill="#ff0000"/>
<line x1="402.5" y1="1577.3" x2="349.4" y2="1523.0" stroke="#ff0000" stroke-width="2.6"/>
<path d="M334.9 1508.2 L363.4 1523.7 L349.4 1523.0 L349.8 1537.0 Z" fill="#ff0000"/>
<line x1="635.3" y1="1572.8" x2="563.5" y2="1540.5" stroke="#ff0000" stroke-width="2.6"/>
<path d="M544.6 1532.0 L576.8 1536.1 L563.5 1540.5 L569.0 1553.4 Z" fill="#ff0000"/>
<line x1="1315.6" y1="1584.0" x2="1432.3" y2="1506.6" stroke="#ff0000" stroke-width="2.6"/>
<path d="M1449.6 1495.1 L1429.0 1520.2 L1432.3 1506.6 L1418.5 1504.3 Z" fill="#ff0000"/>
<g font-style="italic">
<text x="245.4" y="131.1" font-size="23.4" fill="#000" text-anchor="start" >DENND1B</text>
<text x="409.5" y="199.5" font-size="23.4" fill="#000" text-anchor="start" >ZNF445</text>
<text x="714.5" y="212.0" font-size="23.4" fill="#000" text-anchor="start" >LIN28B</text>
<text x="170.2" y="298.7" font-size="23.4" fill="#e60008" text-anchor="start" >TCTEX1D1</text>
<text x="298.5" y="304.2" font-size="23.4" fill="#000" text-anchor="start" >FANCL</text>
<text x="173.8" y="350.8" font-size="23.4" fill="#000" text-anchor="start" >TXNDC12</text>
<text x="408.5" y="394.6" font-size="23.4" fill="#000" text-anchor="start" >ZNF197</text>
<text x="302.4" y="411.4" font-size="23.4" fill="#000" text-anchor="start" >SF3B1</text>
<text x="409.0" y="447.1" font-size="23.4" fill="#e60008" text-anchor="start" >ZNF502</text>
<text x="334.9" y="468.7" font-size="23.4" fill="#000" text-anchor="start" >GPX1</text>
<text x="223.5" y="475.0" font-size="23.4" fill="#000" text-anchor="start" >PSMB4</text>
<text x="523.0" y="452.9" font-size="23.4" fill="#e60008" text-anchor="start" >ZNF501</text>
<text x="535.0" y="483.3" font-size="23.4" fill="#000" text-anchor="start" >RHOA</text>
<text x="485.0" y="548.3" font-size="23.4" fill="#000" text-anchor="start" >GMPPB</text>
<text x="643.0" y="346.4" font-size="23.4" fill="#000" text-anchor="start" >NDUFA2</text>
<text x="642.2" y="401.5" font-size="23.4" fill="#e60008" text-anchor="start" >ZMAT2</text>
<text x="643.0" y="433.3" font-size="23.4" fill="#000" text-anchor="start" >PCDHA7</text>
<text x="647.5" y="454.6" font-size="23.4" fill="#000" text-anchor="start" >PCDHAC1</text>
<text x="910.0" y="382.0" font-size="23.4" fill="#000" text-anchor="start" >FBXO10</text>
<text x="1056.5" y="362.0" font-size="23.4" fill="#e60008" text-anchor="start" >FADS1</text>
<text x="1054.5" y="472.9" font-size="23.4" fill="#000" text-anchor="start" >FEN1</text>
<text x="924.0" y="481.4" font-size="23.4" fill="#000" text-anchor="start" >FRAT2</text>
<text x="1039.0" y="494.2" font-size="23.4" fill="#000" text-anchor="start" >DNAJC24</text>
<text x="1179.3" y="431.6" font-size="23.4" fill="#000" text-anchor="start" >OLFM4</text>
<text x="1166.5" y="488.4" font-size="23.4" fill="#e60008" text-anchor="start" >B3GALTL</text>
<text x="1245.5" y="459.6" font-size="23.4" fill="#000" text-anchor="start" >RPS6KL1</text>
<text x="1245.5" y="186.5" font-size="23.4" fill="#000" text-anchor="start" >DLST</text>
<text x="1258.0" y="219.1" font-size="23.4" fill="#000" text-anchor="start" >TRMT61A</text>
<text x="1295.2" y="265.4" font-size="23.4" fill="#000" text-anchor="start" >CD276</text>
<text x="1532.6" y="286.4" font-size="23.4" fill="#e60008" text-anchor="start" >XPNPEP3</text>
<text x="1482.5" y="413.2" font-size="23.4" fill="#000" text-anchor="start" >DDX27</text>
<text x="1532.5" y="447.0" font-size="23.4" fill="#000" text-anchor="start" >SLC25A17</text>
<text x="1478.5" y="482.1" font-size="23.4" fill="#000" text-anchor="start" >CSE1L</text>
<text transform="translate(188.5,1089.9) scale(1.075,1)" font-size="23.4" fill="#000" text-anchor="start" >RPL31P12</text>
<text transform="translate(237.0,1461.2) scale(1.075,1)" font-size="23.4" fill="#000" text-anchor="start" >RFWD2</text>
<text transform="translate(299.0,1507.0) scale(1.075,1)" font-size="23.4" fill="#e60008" text-anchor="start" >ZNF502</text>
<text transform="translate(183.5,1543.9) scale(1.075,1)" font-size="23.4" fill="#e60008" text-anchor="start" >TCTEX1D1</text>
<text transform="translate(409.5,1567.9) scale(1.075,1)" font-size="23.4" fill="#000" text-anchor="start" >FHIT</text>
<text transform="translate(305.5,1595.9) scale(1.075,1)" font-size="23.4" fill="#e60008" text-anchor="start" >ZNF501</text>
<text transform="translate(427.0,1590.4) scale(1.075,1)" font-size="23.4" fill="#000" text-anchor="start" >BCHE</text>
<text transform="translate(503.0,1595.9) scale(1.075,1)" font-size="23.4" fill="#000" text-anchor="start" >TMEM33</text>
<text transform="translate(618.2,1434.9) scale(1.075,1)" font-size="23.4" fill="#000" text-anchor="start" >TMEM161B−AS1</text>
<text transform="translate(620.2,1458.7) scale(1.075,1)" font-size="23.4" fill="#000" text-anchor="start" >TMEM161B</text>
<text transform="translate(804.0,1502.0) scale(1.075,1)" font-size="23.4" fill="#000" text-anchor="start" >CTTNBP2</text>
<text transform="translate(785.0,1543.9) scale(1.075,1)" font-size="23.4" fill="#000" text-anchor="start" >GTF2IRD2B</text>
<text transform="translate(491.5,1529.1) scale(1.075,1)" font-size="23.4" fill="#000" text-anchor="start" >PCDHA3</text>
<text transform="translate(631.3,1557.9) scale(1.075,1)" font-size="23.4" fill="#000" text-anchor="start" >PCDHA8</text>
<text transform="translate(644.0,1594.2) scale(1.075,1)" font-size="23.4" fill="#e60008" text-anchor="start" >ZMAT2</text>
<text transform="translate(748.0,1578.4) scale(1.075,1)" font-size="23.4" fill="#000" text-anchor="start" >SDK1</text>
<text transform="translate(748.0,1602.2) scale(1.075,1)" font-size="23.4" fill="#000" text-anchor="start" >MAD1L1</text>
<text transform="translate(1044.5,1562.1) scale(1.075,1)" font-size="23.4" fill="#e60008" text-anchor="start" >FADS1</text>
<text transform="translate(1165.4,1495.3) scale(1.075,1)" font-size="23.4" fill="#000" text-anchor="start" >AREL1</text>
<text transform="translate(1174.0,1543.9) scale(1.075,1)" font-size="23.4" fill="#e60008" text-anchor="start" >B3GALTL</text>
<text transform="translate(1118.0,1584.7) scale(1.075,1)" font-size="23.4" fill="#000" text-anchor="start" >RP11−665J16.1</text>
<text transform="translate(1255.5,1500.2) scale(1.075,1)" font-size="23.4" fill="#000" text-anchor="start" >RP11−73M18.7</text>
<text transform="translate(1452.0,1495.7) scale(1.075,1)" font-size="23.4" fill="#000" text-anchor="start" >CPPED</text>
<text transform="translate(1419.0,1548.8) scale(1.075,1)" font-size="23.4" fill="#000" text-anchor="start" >DCC</text>
<text transform="translate(1526.0,1559.6) scale(1.075,1)" font-size="23.4" fill="#e60008" text-anchor="start" >XPNPEP3</text>
<text transform="translate(1349.3,1586.6) scale(1.075,1)" font-size="23.4" fill="#000" text-anchor="start" >ATP5A1P3</text>
<text transform="translate(1482.5,1600.4) scale(1.075,1)" font-size="23.4" fill="#000" text-anchor="start" >STAU1</text>
</g>
</svg>
</body></html>
